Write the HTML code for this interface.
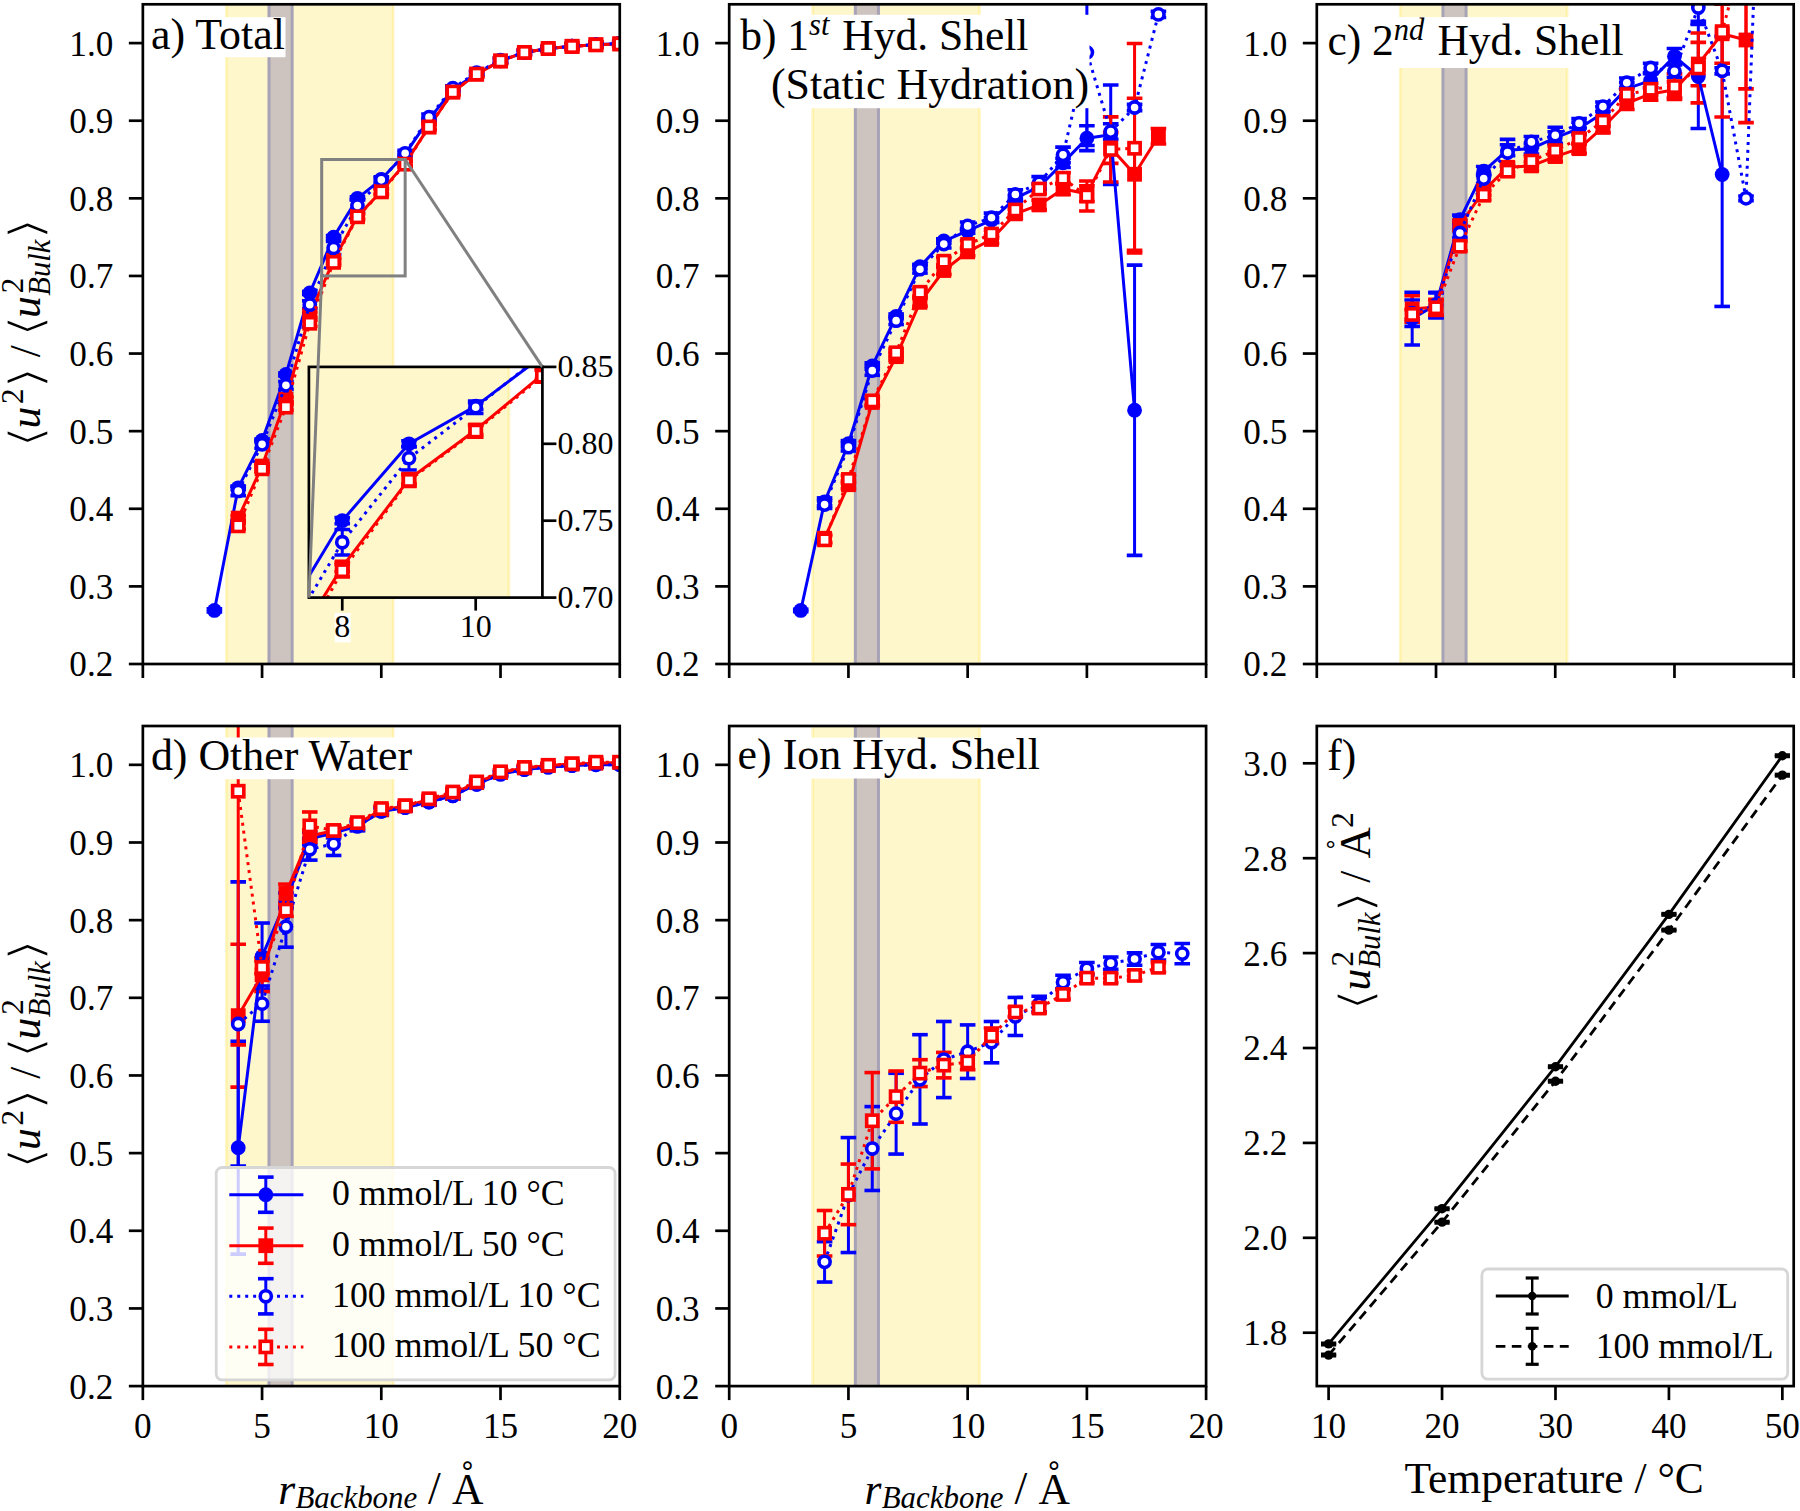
<!DOCTYPE html><html><head><meta charset="utf-8"><title>Figure</title>
<style>html,body{margin:0;padding:0;background:#fff;overflow:hidden;}svg{display:block;}</style></head><body>
<svg width="1800" height="1511" viewBox="0 0 1800 1511" font-family="'Liberation Serif', 'Times New Roman', serif" fill="#000">
<rect width="1800" height="1511" fill="#ffffff"/>
<clipPath id="c1"><rect x="142.85" y="4.3" width="476.9" height="659.7"/></clipPath>
<g clip-path="url(#c1)">
<rect x="224.91" y="4.3" width="169.71" height="659.7" fill="#fff7cc"/>
<rect x="226.31" y="4.3" width="1.5" height="659.7" fill="#fff1a3"/>
<rect x="391.72" y="4.3" width="1.5" height="659.7" fill="#fff1a3"/>
<rect x="268.99" y="4.3" width="23.13" height="659.7" fill="#cdc4bf"/>
<rect x="267.49" y="4.3" width="3" height="659.7" fill="#a7a2b6"/>
<rect x="290.62" y="4.3" width="3" height="659.7" fill="#a7a2b6"/>
<line x1="214.38" y1="612" x2="214.38" y2="608.9" stroke="#0000ff" stroke-width="3"/>
<line x1="206.58" y1="612" x2="222.19" y2="612" stroke="#0000ff" stroke-width="3.6"/>
<line x1="206.58" y1="608.9" x2="222.19" y2="608.9" stroke="#0000ff" stroke-width="3.6"/>
<line x1="238.23" y1="489.37" x2="238.23" y2="486.27" stroke="#0000ff" stroke-width="3"/>
<line x1="230.43" y1="489.37" x2="246.03" y2="489.37" stroke="#0000ff" stroke-width="3.6"/>
<line x1="230.43" y1="486.27" x2="246.03" y2="486.27" stroke="#0000ff" stroke-width="3.6"/>
<line x1="262.07" y1="442.03" x2="262.07" y2="438.93" stroke="#0000ff" stroke-width="3"/>
<line x1="254.27" y1="442.03" x2="269.88" y2="442.03" stroke="#0000ff" stroke-width="3.6"/>
<line x1="254.27" y1="438.93" x2="269.88" y2="438.93" stroke="#0000ff" stroke-width="3.6"/>
<line x1="285.92" y1="376.06" x2="285.92" y2="372.96" stroke="#0000ff" stroke-width="3"/>
<line x1="278.12" y1="376.06" x2="293.72" y2="376.06" stroke="#0000ff" stroke-width="3.6"/>
<line x1="278.12" y1="372.96" x2="293.72" y2="372.96" stroke="#0000ff" stroke-width="3.6"/>
<line x1="309.76" y1="294.57" x2="309.76" y2="291.46" stroke="#0000ff" stroke-width="3"/>
<line x1="301.96" y1="294.57" x2="317.56" y2="294.57" stroke="#0000ff" stroke-width="3.6"/>
<line x1="301.96" y1="291.46" x2="317.56" y2="291.46" stroke="#0000ff" stroke-width="3.6"/>
<line x1="333.61" y1="238.69" x2="333.61" y2="235.58" stroke="#0000ff" stroke-width="3"/>
<line x1="325.81" y1="238.69" x2="341.41" y2="238.69" stroke="#0000ff" stroke-width="3.6"/>
<line x1="325.81" y1="235.58" x2="341.41" y2="235.58" stroke="#0000ff" stroke-width="3.6"/>
<line x1="357.45" y1="199.88" x2="357.45" y2="196.78" stroke="#0000ff" stroke-width="3"/>
<line x1="349.65" y1="199.88" x2="365.25" y2="199.88" stroke="#0000ff" stroke-width="3.6"/>
<line x1="349.65" y1="196.78" x2="365.25" y2="196.78" stroke="#0000ff" stroke-width="3.6"/>
<line x1="381.3" y1="180.87" x2="381.3" y2="177.76" stroke="#0000ff" stroke-width="3"/>
<line x1="373.5" y1="180.87" x2="389.1" y2="180.87" stroke="#0000ff" stroke-width="3.6"/>
<line x1="373.5" y1="177.76" x2="389.1" y2="177.76" stroke="#0000ff" stroke-width="3.6"/>
<line x1="405.14" y1="155.64" x2="405.14" y2="152.54" stroke="#0000ff" stroke-width="3"/>
<line x1="397.34" y1="155.64" x2="412.94" y2="155.64" stroke="#0000ff" stroke-width="3.6"/>
<line x1="397.34" y1="152.54" x2="412.94" y2="152.54" stroke="#0000ff" stroke-width="3.6"/>
<line x1="428.99" y1="120.72" x2="428.99" y2="117.61" stroke="#0000ff" stroke-width="3"/>
<line x1="421.19" y1="120.72" x2="436.79" y2="120.72" stroke="#0000ff" stroke-width="3.6"/>
<line x1="421.19" y1="117.61" x2="436.79" y2="117.61" stroke="#0000ff" stroke-width="3.6"/>
<line x1="452.84" y1="91.23" x2="452.84" y2="88.12" stroke="#0000ff" stroke-width="3"/>
<line x1="445.04" y1="91.23" x2="460.64" y2="91.23" stroke="#0000ff" stroke-width="3.6"/>
<line x1="445.04" y1="88.12" x2="460.64" y2="88.12" stroke="#0000ff" stroke-width="3.6"/>
<line x1="476.68" y1="74.93" x2="476.68" y2="71.82" stroke="#0000ff" stroke-width="3"/>
<line x1="468.88" y1="74.93" x2="484.48" y2="74.93" stroke="#0000ff" stroke-width="3.6"/>
<line x1="468.88" y1="71.82" x2="484.48" y2="71.82" stroke="#0000ff" stroke-width="3.6"/>
<line x1="500.52" y1="62.51" x2="500.52" y2="59.4" stroke="#0000ff" stroke-width="3"/>
<line x1="492.72" y1="62.51" x2="508.32" y2="62.51" stroke="#0000ff" stroke-width="3.6"/>
<line x1="492.72" y1="59.4" x2="508.32" y2="59.4" stroke="#0000ff" stroke-width="3.6"/>
<line x1="524.37" y1="53.97" x2="524.37" y2="50.87" stroke="#0000ff" stroke-width="3"/>
<line x1="516.57" y1="53.97" x2="532.17" y2="53.97" stroke="#0000ff" stroke-width="3.6"/>
<line x1="516.57" y1="50.87" x2="532.17" y2="50.87" stroke="#0000ff" stroke-width="3.6"/>
<line x1="548.21" y1="50.09" x2="548.21" y2="46.99" stroke="#0000ff" stroke-width="3"/>
<line x1="540.41" y1="50.09" x2="556.01" y2="50.09" stroke="#0000ff" stroke-width="3.6"/>
<line x1="540.41" y1="46.99" x2="556.01" y2="46.99" stroke="#0000ff" stroke-width="3.6"/>
<line x1="572.06" y1="47.76" x2="572.06" y2="44.66" stroke="#0000ff" stroke-width="3"/>
<line x1="564.26" y1="47.76" x2="579.86" y2="47.76" stroke="#0000ff" stroke-width="3.6"/>
<line x1="564.26" y1="44.66" x2="579.86" y2="44.66" stroke="#0000ff" stroke-width="3.6"/>
<line x1="595.9" y1="46.21" x2="595.9" y2="43.11" stroke="#0000ff" stroke-width="3"/>
<line x1="588.11" y1="46.21" x2="603.7" y2="46.21" stroke="#0000ff" stroke-width="3.6"/>
<line x1="588.11" y1="43.11" x2="603.7" y2="43.11" stroke="#0000ff" stroke-width="3.6"/>
<line x1="619.75" y1="45.05" x2="619.75" y2="41.94" stroke="#0000ff" stroke-width="3"/>
<line x1="611.95" y1="45.05" x2="627.55" y2="45.05" stroke="#0000ff" stroke-width="3.6"/>
<line x1="611.95" y1="41.94" x2="627.55" y2="41.94" stroke="#0000ff" stroke-width="3.6"/>
<line x1="238.23" y1="520.42" x2="238.23" y2="515.76" stroke="#ff0000" stroke-width="3"/>
<line x1="230.43" y1="520.42" x2="246.03" y2="520.42" stroke="#ff0000" stroke-width="3.6"/>
<line x1="230.43" y1="515.76" x2="246.03" y2="515.76" stroke="#ff0000" stroke-width="3.6"/>
<line x1="262.07" y1="468.42" x2="262.07" y2="463.76" stroke="#ff0000" stroke-width="3"/>
<line x1="254.27" y1="468.42" x2="269.88" y2="468.42" stroke="#ff0000" stroke-width="3.6"/>
<line x1="254.27" y1="463.76" x2="269.88" y2="463.76" stroke="#ff0000" stroke-width="3.6"/>
<line x1="285.92" y1="401.67" x2="285.92" y2="397.02" stroke="#ff0000" stroke-width="3"/>
<line x1="278.12" y1="401.67" x2="293.72" y2="401.67" stroke="#ff0000" stroke-width="3.6"/>
<line x1="278.12" y1="397.02" x2="293.72" y2="397.02" stroke="#ff0000" stroke-width="3.6"/>
<line x1="309.76" y1="317.08" x2="309.76" y2="312.42" stroke="#ff0000" stroke-width="3"/>
<line x1="301.96" y1="317.08" x2="317.56" y2="317.08" stroke="#ff0000" stroke-width="3.6"/>
<line x1="301.96" y1="312.42" x2="317.56" y2="312.42" stroke="#ff0000" stroke-width="3.6"/>
<line x1="333.61" y1="262.75" x2="333.61" y2="258.09" stroke="#ff0000" stroke-width="3"/>
<line x1="325.81" y1="262.75" x2="341.41" y2="262.75" stroke="#ff0000" stroke-width="3.6"/>
<line x1="325.81" y1="258.09" x2="341.41" y2="258.09" stroke="#ff0000" stroke-width="3.6"/>
<line x1="357.45" y1="218.51" x2="357.45" y2="213.85" stroke="#ff0000" stroke-width="3"/>
<line x1="349.65" y1="218.51" x2="365.25" y2="218.51" stroke="#ff0000" stroke-width="3.6"/>
<line x1="349.65" y1="213.85" x2="365.25" y2="213.85" stroke="#ff0000" stroke-width="3.6"/>
<line x1="381.3" y1="193.67" x2="381.3" y2="189.02" stroke="#ff0000" stroke-width="3"/>
<line x1="373.5" y1="193.67" x2="389.1" y2="193.67" stroke="#ff0000" stroke-width="3.6"/>
<line x1="373.5" y1="189.02" x2="389.1" y2="189.02" stroke="#ff0000" stroke-width="3.6"/>
<line x1="405.14" y1="165.73" x2="405.14" y2="161.08" stroke="#ff0000" stroke-width="3"/>
<line x1="397.34" y1="165.73" x2="412.94" y2="165.73" stroke="#ff0000" stroke-width="3.6"/>
<line x1="397.34" y1="161.08" x2="412.94" y2="161.08" stroke="#ff0000" stroke-width="3.6"/>
<line x1="428.99" y1="129.25" x2="428.99" y2="124.6" stroke="#ff0000" stroke-width="3"/>
<line x1="421.19" y1="129.25" x2="436.79" y2="129.25" stroke="#ff0000" stroke-width="3.6"/>
<line x1="421.19" y1="124.6" x2="436.79" y2="124.6" stroke="#ff0000" stroke-width="3.6"/>
<line x1="452.84" y1="94.33" x2="452.84" y2="89.67" stroke="#ff0000" stroke-width="3"/>
<line x1="445.04" y1="94.33" x2="460.64" y2="94.33" stroke="#ff0000" stroke-width="3.6"/>
<line x1="445.04" y1="89.67" x2="460.64" y2="89.67" stroke="#ff0000" stroke-width="3.6"/>
<line x1="476.68" y1="76.48" x2="476.68" y2="71.82" stroke="#ff0000" stroke-width="3"/>
<line x1="468.88" y1="76.48" x2="484.48" y2="76.48" stroke="#ff0000" stroke-width="3.6"/>
<line x1="468.88" y1="71.82" x2="484.48" y2="71.82" stroke="#ff0000" stroke-width="3.6"/>
<line x1="500.52" y1="63.28" x2="500.52" y2="58.63" stroke="#ff0000" stroke-width="3"/>
<line x1="492.72" y1="63.28" x2="508.32" y2="63.28" stroke="#ff0000" stroke-width="3.6"/>
<line x1="492.72" y1="58.63" x2="508.32" y2="58.63" stroke="#ff0000" stroke-width="3.6"/>
<line x1="524.37" y1="54.75" x2="524.37" y2="50.09" stroke="#ff0000" stroke-width="3"/>
<line x1="516.57" y1="54.75" x2="532.17" y2="54.75" stroke="#ff0000" stroke-width="3.6"/>
<line x1="516.57" y1="50.09" x2="532.17" y2="50.09" stroke="#ff0000" stroke-width="3.6"/>
<line x1="548.21" y1="50.87" x2="548.21" y2="46.21" stroke="#ff0000" stroke-width="3"/>
<line x1="540.41" y1="50.87" x2="556.01" y2="50.87" stroke="#ff0000" stroke-width="3.6"/>
<line x1="540.41" y1="46.21" x2="556.01" y2="46.21" stroke="#ff0000" stroke-width="3.6"/>
<line x1="572.06" y1="48.54" x2="572.06" y2="43.88" stroke="#ff0000" stroke-width="3"/>
<line x1="564.26" y1="48.54" x2="579.86" y2="48.54" stroke="#ff0000" stroke-width="3.6"/>
<line x1="564.26" y1="43.88" x2="579.86" y2="43.88" stroke="#ff0000" stroke-width="3.6"/>
<line x1="595.9" y1="46.99" x2="595.9" y2="42.33" stroke="#ff0000" stroke-width="3"/>
<line x1="588.11" y1="46.99" x2="603.7" y2="46.99" stroke="#ff0000" stroke-width="3.6"/>
<line x1="588.11" y1="42.33" x2="603.7" y2="42.33" stroke="#ff0000" stroke-width="3.6"/>
<line x1="619.75" y1="46.21" x2="619.75" y2="41.55" stroke="#ff0000" stroke-width="3"/>
<line x1="611.95" y1="46.21" x2="627.55" y2="46.21" stroke="#ff0000" stroke-width="3.6"/>
<line x1="611.95" y1="41.55" x2="627.55" y2="41.55" stroke="#ff0000" stroke-width="3.6"/>
<line x1="238.23" y1="495.58" x2="238.23" y2="486.27" stroke="#0000ff" stroke-width="3"/>
<line x1="230.43" y1="495.58" x2="246.03" y2="495.58" stroke="#0000ff" stroke-width="3.6"/>
<line x1="230.43" y1="486.27" x2="246.03" y2="486.27" stroke="#0000ff" stroke-width="3.6"/>
<line x1="262.07" y1="448.24" x2="262.07" y2="440.48" stroke="#0000ff" stroke-width="3"/>
<line x1="254.27" y1="448.24" x2="269.88" y2="448.24" stroke="#0000ff" stroke-width="3.6"/>
<line x1="254.27" y1="440.48" x2="269.88" y2="440.48" stroke="#0000ff" stroke-width="3.6"/>
<line x1="285.92" y1="389.25" x2="285.92" y2="381.49" stroke="#0000ff" stroke-width="3"/>
<line x1="278.12" y1="389.25" x2="293.72" y2="389.25" stroke="#0000ff" stroke-width="3.6"/>
<line x1="278.12" y1="381.49" x2="293.72" y2="381.49" stroke="#0000ff" stroke-width="3.6"/>
<line x1="309.76" y1="308.54" x2="309.76" y2="300.78" stroke="#0000ff" stroke-width="3"/>
<line x1="301.96" y1="308.54" x2="317.56" y2="308.54" stroke="#0000ff" stroke-width="3.6"/>
<line x1="301.96" y1="300.78" x2="317.56" y2="300.78" stroke="#0000ff" stroke-width="3.6"/>
<line x1="333.61" y1="254.44" x2="333.61" y2="241.56" stroke="#0000ff" stroke-width="3"/>
<line x1="325.81" y1="254.44" x2="341.41" y2="254.44" stroke="#0000ff" stroke-width="3.6"/>
<line x1="325.81" y1="241.56" x2="341.41" y2="241.56" stroke="#0000ff" stroke-width="3.6"/>
<line x1="357.45" y1="211.52" x2="357.45" y2="199.73" stroke="#0000ff" stroke-width="3"/>
<line x1="349.65" y1="211.52" x2="365.25" y2="211.52" stroke="#0000ff" stroke-width="3.6"/>
<line x1="349.65" y1="199.73" x2="365.25" y2="199.73" stroke="#0000ff" stroke-width="3.6"/>
<line x1="381.3" y1="182.96" x2="381.3" y2="176.75" stroke="#0000ff" stroke-width="3"/>
<line x1="373.5" y1="182.96" x2="389.1" y2="182.96" stroke="#0000ff" stroke-width="3.6"/>
<line x1="373.5" y1="176.75" x2="389.1" y2="176.75" stroke="#0000ff" stroke-width="3.6"/>
<line x1="405.14" y1="156.42" x2="405.14" y2="150.21" stroke="#0000ff" stroke-width="3"/>
<line x1="397.34" y1="156.42" x2="412.94" y2="156.42" stroke="#0000ff" stroke-width="3.6"/>
<line x1="397.34" y1="150.21" x2="412.94" y2="150.21" stroke="#0000ff" stroke-width="3.6"/>
<line x1="428.99" y1="120.25" x2="428.99" y2="114.04" stroke="#0000ff" stroke-width="3"/>
<line x1="421.19" y1="120.25" x2="436.79" y2="120.25" stroke="#0000ff" stroke-width="3.6"/>
<line x1="421.19" y1="114.04" x2="436.79" y2="114.04" stroke="#0000ff" stroke-width="3.6"/>
<line x1="452.84" y1="90.45" x2="452.84" y2="85.79" stroke="#0000ff" stroke-width="3"/>
<line x1="445.04" y1="90.45" x2="460.64" y2="90.45" stroke="#0000ff" stroke-width="3.6"/>
<line x1="445.04" y1="85.79" x2="460.64" y2="85.79" stroke="#0000ff" stroke-width="3.6"/>
<line x1="476.68" y1="74.93" x2="476.68" y2="70.27" stroke="#0000ff" stroke-width="3"/>
<line x1="468.88" y1="74.93" x2="484.48" y2="74.93" stroke="#0000ff" stroke-width="3.6"/>
<line x1="468.88" y1="70.27" x2="484.48" y2="70.27" stroke="#0000ff" stroke-width="3.6"/>
<line x1="500.52" y1="62.51" x2="500.52" y2="57.85" stroke="#0000ff" stroke-width="3"/>
<line x1="492.72" y1="62.51" x2="508.32" y2="62.51" stroke="#0000ff" stroke-width="3.6"/>
<line x1="492.72" y1="57.85" x2="508.32" y2="57.85" stroke="#0000ff" stroke-width="3.6"/>
<line x1="524.37" y1="54.75" x2="524.37" y2="50.09" stroke="#0000ff" stroke-width="3"/>
<line x1="516.57" y1="54.75" x2="532.17" y2="54.75" stroke="#0000ff" stroke-width="3.6"/>
<line x1="516.57" y1="50.09" x2="532.17" y2="50.09" stroke="#0000ff" stroke-width="3.6"/>
<line x1="548.21" y1="50.87" x2="548.21" y2="46.21" stroke="#0000ff" stroke-width="3"/>
<line x1="540.41" y1="50.87" x2="556.01" y2="50.87" stroke="#0000ff" stroke-width="3.6"/>
<line x1="540.41" y1="46.21" x2="556.01" y2="46.21" stroke="#0000ff" stroke-width="3.6"/>
<line x1="572.06" y1="48.54" x2="572.06" y2="43.88" stroke="#0000ff" stroke-width="3"/>
<line x1="564.26" y1="48.54" x2="579.86" y2="48.54" stroke="#0000ff" stroke-width="3.6"/>
<line x1="564.26" y1="43.88" x2="579.86" y2="43.88" stroke="#0000ff" stroke-width="3.6"/>
<line x1="595.9" y1="46.99" x2="595.9" y2="42.33" stroke="#0000ff" stroke-width="3"/>
<line x1="588.11" y1="46.99" x2="603.7" y2="46.99" stroke="#0000ff" stroke-width="3.6"/>
<line x1="588.11" y1="42.33" x2="603.7" y2="42.33" stroke="#0000ff" stroke-width="3.6"/>
<line x1="619.75" y1="45.82" x2="619.75" y2="41.17" stroke="#0000ff" stroke-width="3"/>
<line x1="611.95" y1="45.82" x2="627.55" y2="45.82" stroke="#0000ff" stroke-width="3.6"/>
<line x1="611.95" y1="41.17" x2="627.55" y2="41.17" stroke="#0000ff" stroke-width="3.6"/>
<line x1="238.23" y1="528.96" x2="238.23" y2="522.75" stroke="#ff0000" stroke-width="3"/>
<line x1="230.43" y1="528.96" x2="246.03" y2="528.96" stroke="#ff0000" stroke-width="3.6"/>
<line x1="230.43" y1="522.75" x2="246.03" y2="522.75" stroke="#ff0000" stroke-width="3.6"/>
<line x1="262.07" y1="471.91" x2="262.07" y2="465.7" stroke="#ff0000" stroke-width="3"/>
<line x1="254.27" y1="471.91" x2="269.88" y2="471.91" stroke="#ff0000" stroke-width="3.6"/>
<line x1="254.27" y1="465.7" x2="269.88" y2="465.7" stroke="#ff0000" stroke-width="3.6"/>
<line x1="285.92" y1="410.21" x2="285.92" y2="404" stroke="#ff0000" stroke-width="3"/>
<line x1="278.12" y1="410.21" x2="293.72" y2="410.21" stroke="#ff0000" stroke-width="3.6"/>
<line x1="278.12" y1="404" x2="293.72" y2="404" stroke="#ff0000" stroke-width="3.6"/>
<line x1="309.76" y1="326.39" x2="309.76" y2="320.18" stroke="#ff0000" stroke-width="3"/>
<line x1="301.96" y1="326.39" x2="317.56" y2="326.39" stroke="#ff0000" stroke-width="3.6"/>
<line x1="301.96" y1="320.18" x2="317.56" y2="320.18" stroke="#ff0000" stroke-width="3.6"/>
<line x1="333.61" y1="265.46" x2="333.61" y2="259.25" stroke="#ff0000" stroke-width="3"/>
<line x1="325.81" y1="265.46" x2="341.41" y2="265.46" stroke="#ff0000" stroke-width="3.6"/>
<line x1="325.81" y1="259.25" x2="341.41" y2="259.25" stroke="#ff0000" stroke-width="3.6"/>
<line x1="357.45" y1="219.91" x2="357.45" y2="213.7" stroke="#ff0000" stroke-width="3"/>
<line x1="349.65" y1="219.91" x2="365.25" y2="219.91" stroke="#ff0000" stroke-width="3.6"/>
<line x1="349.65" y1="213.7" x2="365.25" y2="213.7" stroke="#ff0000" stroke-width="3.6"/>
<line x1="381.3" y1="194.99" x2="381.3" y2="188.78" stroke="#ff0000" stroke-width="3"/>
<line x1="373.5" y1="194.99" x2="389.1" y2="194.99" stroke="#ff0000" stroke-width="3.6"/>
<line x1="373.5" y1="188.78" x2="389.1" y2="188.78" stroke="#ff0000" stroke-width="3.6"/>
<line x1="405.14" y1="167.28" x2="405.14" y2="161.08" stroke="#ff0000" stroke-width="3"/>
<line x1="397.34" y1="167.28" x2="412.94" y2="167.28" stroke="#ff0000" stroke-width="3.6"/>
<line x1="397.34" y1="161.08" x2="412.94" y2="161.08" stroke="#ff0000" stroke-width="3.6"/>
<line x1="428.99" y1="130.03" x2="428.99" y2="123.82" stroke="#ff0000" stroke-width="3"/>
<line x1="421.19" y1="130.03" x2="436.79" y2="130.03" stroke="#ff0000" stroke-width="3.6"/>
<line x1="421.19" y1="123.82" x2="436.79" y2="123.82" stroke="#ff0000" stroke-width="3.6"/>
<line x1="452.84" y1="95.11" x2="452.84" y2="88.9" stroke="#ff0000" stroke-width="3"/>
<line x1="445.04" y1="95.11" x2="460.64" y2="95.11" stroke="#ff0000" stroke-width="3.6"/>
<line x1="445.04" y1="88.9" x2="460.64" y2="88.9" stroke="#ff0000" stroke-width="3.6"/>
<line x1="476.68" y1="77.26" x2="476.68" y2="71.05" stroke="#ff0000" stroke-width="3"/>
<line x1="468.88" y1="77.26" x2="484.48" y2="77.26" stroke="#ff0000" stroke-width="3.6"/>
<line x1="468.88" y1="71.05" x2="484.48" y2="71.05" stroke="#ff0000" stroke-width="3.6"/>
<line x1="500.52" y1="64.06" x2="500.52" y2="57.85" stroke="#ff0000" stroke-width="3"/>
<line x1="492.72" y1="64.06" x2="508.32" y2="64.06" stroke="#ff0000" stroke-width="3.6"/>
<line x1="492.72" y1="57.85" x2="508.32" y2="57.85" stroke="#ff0000" stroke-width="3.6"/>
<line x1="524.37" y1="55.52" x2="524.37" y2="49.31" stroke="#ff0000" stroke-width="3"/>
<line x1="516.57" y1="55.52" x2="532.17" y2="55.52" stroke="#ff0000" stroke-width="3.6"/>
<line x1="516.57" y1="49.31" x2="532.17" y2="49.31" stroke="#ff0000" stroke-width="3.6"/>
<line x1="548.21" y1="51.64" x2="548.21" y2="45.43" stroke="#ff0000" stroke-width="3"/>
<line x1="540.41" y1="51.64" x2="556.01" y2="51.64" stroke="#ff0000" stroke-width="3.6"/>
<line x1="540.41" y1="45.43" x2="556.01" y2="45.43" stroke="#ff0000" stroke-width="3.6"/>
<line x1="572.06" y1="49.63" x2="572.06" y2="43.42" stroke="#ff0000" stroke-width="3"/>
<line x1="564.26" y1="49.63" x2="579.86" y2="49.63" stroke="#ff0000" stroke-width="3.6"/>
<line x1="564.26" y1="43.42" x2="579.86" y2="43.42" stroke="#ff0000" stroke-width="3.6"/>
<line x1="595.9" y1="48" x2="595.9" y2="41.79" stroke="#ff0000" stroke-width="3"/>
<line x1="588.11" y1="48" x2="603.7" y2="48" stroke="#ff0000" stroke-width="3.6"/>
<line x1="588.11" y1="41.79" x2="603.7" y2="41.79" stroke="#ff0000" stroke-width="3.6"/>
<line x1="619.75" y1="46.99" x2="619.75" y2="40.78" stroke="#ff0000" stroke-width="3"/>
<line x1="611.95" y1="46.99" x2="627.55" y2="46.99" stroke="#ff0000" stroke-width="3.6"/>
<line x1="611.95" y1="40.78" x2="627.55" y2="40.78" stroke="#ff0000" stroke-width="3.6"/>
<polyline points="214.38,610.45 238.23,487.82 262.07,440.48 285.92,374.51 309.76,293.02 333.61,237.14 357.45,198.33 381.3,179.31 405.14,154.09 428.99,119.17 452.84,89.67 476.68,73.37 500.52,60.96 524.37,52.42 548.21,48.54 572.06,46.21 595.9,44.66 619.75,43.49" fill="none" stroke="#0000ff" stroke-width="3" stroke-linejoin="round"/>
<circle cx="214.38" cy="610.45" r="7.4" fill="#0000ff"/>
<circle cx="238.23" cy="487.82" r="7.4" fill="#0000ff"/>
<circle cx="262.07" cy="440.48" r="7.4" fill="#0000ff"/>
<circle cx="285.92" cy="374.51" r="7.4" fill="#0000ff"/>
<circle cx="309.76" cy="293.02" r="7.4" fill="#0000ff"/>
<circle cx="333.61" cy="237.14" r="7.4" fill="#0000ff"/>
<circle cx="357.45" cy="198.33" r="7.4" fill="#0000ff"/>
<circle cx="381.3" cy="179.31" r="7.4" fill="#0000ff"/>
<circle cx="405.14" cy="154.09" r="7.4" fill="#0000ff"/>
<circle cx="428.99" cy="119.17" r="7.4" fill="#0000ff"/>
<circle cx="452.84" cy="89.67" r="7.4" fill="#0000ff"/>
<circle cx="476.68" cy="73.37" r="7.4" fill="#0000ff"/>
<circle cx="500.52" cy="60.96" r="7.4" fill="#0000ff"/>
<circle cx="524.37" cy="52.42" r="7.4" fill="#0000ff"/>
<circle cx="548.21" cy="48.54" r="7.4" fill="#0000ff"/>
<circle cx="572.06" cy="46.21" r="7.4" fill="#0000ff"/>
<circle cx="595.9" cy="44.66" r="7.4" fill="#0000ff"/>
<circle cx="619.75" cy="43.49" r="7.4" fill="#0000ff"/>
<polyline points="238.23,518.09 262.07,466.09 285.92,399.34 309.76,314.75 333.61,260.42 357.45,216.18 381.3,191.34 405.14,163.4 428.99,126.93 452.84,92 476.68,74.15 500.52,60.96 524.37,52.42 548.21,48.54 572.06,46.21 595.9,44.66 619.75,43.88" fill="none" stroke="#ff0000" stroke-width="3" stroke-linejoin="round"/>
<rect x="232.63" y="512.49" width="11.2" height="11.2" fill="#ff0000" stroke="#ff0000" stroke-width="3.6"/>
<rect x="256.47" y="460.49" width="11.2" height="11.2" fill="#ff0000" stroke="#ff0000" stroke-width="3.6"/>
<rect x="280.32" y="393.74" width="11.2" height="11.2" fill="#ff0000" stroke="#ff0000" stroke-width="3.6"/>
<rect x="304.16" y="309.15" width="11.2" height="11.2" fill="#ff0000" stroke="#ff0000" stroke-width="3.6"/>
<rect x="328.01" y="254.82" width="11.2" height="11.2" fill="#ff0000" stroke="#ff0000" stroke-width="3.6"/>
<rect x="351.85" y="210.58" width="11.2" height="11.2" fill="#ff0000" stroke="#ff0000" stroke-width="3.6"/>
<rect x="375.7" y="185.74" width="11.2" height="11.2" fill="#ff0000" stroke="#ff0000" stroke-width="3.6"/>
<rect x="399.54" y="157.8" width="11.2" height="11.2" fill="#ff0000" stroke="#ff0000" stroke-width="3.6"/>
<rect x="423.39" y="121.33" width="11.2" height="11.2" fill="#ff0000" stroke="#ff0000" stroke-width="3.6"/>
<rect x="447.24" y="86.4" width="11.2" height="11.2" fill="#ff0000" stroke="#ff0000" stroke-width="3.6"/>
<rect x="471.08" y="68.55" width="11.2" height="11.2" fill="#ff0000" stroke="#ff0000" stroke-width="3.6"/>
<rect x="494.92" y="55.36" width="11.2" height="11.2" fill="#ff0000" stroke="#ff0000" stroke-width="3.6"/>
<rect x="518.77" y="46.82" width="11.2" height="11.2" fill="#ff0000" stroke="#ff0000" stroke-width="3.6"/>
<rect x="542.61" y="42.94" width="11.2" height="11.2" fill="#ff0000" stroke="#ff0000" stroke-width="3.6"/>
<rect x="566.46" y="40.61" width="11.2" height="11.2" fill="#ff0000" stroke="#ff0000" stroke-width="3.6"/>
<rect x="590.3" y="39.06" width="11.2" height="11.2" fill="#ff0000" stroke="#ff0000" stroke-width="3.6"/>
<rect x="614.15" y="38.28" width="11.2" height="11.2" fill="#ff0000" stroke="#ff0000" stroke-width="3.6"/>
<polyline points="238.23,490.93 262.07,444.36 285.92,385.37 309.76,304.66 333.61,248 357.45,205.62 381.3,179.86 405.14,153.31 428.99,117.15 452.84,88.12 476.68,72.6 500.52,60.18 524.37,52.42 548.21,48.54 572.06,46.21 595.9,44.66 619.75,43.49" fill="none" stroke="#0000ff" stroke-width="3" stroke-dasharray="3 4.95" stroke-linejoin="round"/>
<circle cx="238.23" cy="490.93" r="5.6" fill="#ffffff" stroke="#0000ff" stroke-width="3.6"/>
<circle cx="262.07" cy="444.36" r="5.6" fill="#ffffff" stroke="#0000ff" stroke-width="3.6"/>
<circle cx="285.92" cy="385.37" r="5.6" fill="#ffffff" stroke="#0000ff" stroke-width="3.6"/>
<circle cx="309.76" cy="304.66" r="5.6" fill="#ffffff" stroke="#0000ff" stroke-width="3.6"/>
<circle cx="333.61" cy="248" r="5.6" fill="#ffffff" stroke="#0000ff" stroke-width="3.6"/>
<circle cx="357.45" cy="205.62" r="5.6" fill="#ffffff" stroke="#0000ff" stroke-width="3.6"/>
<circle cx="381.3" cy="179.86" r="5.6" fill="#ffffff" stroke="#0000ff" stroke-width="3.6"/>
<circle cx="405.14" cy="153.31" r="5.6" fill="#ffffff" stroke="#0000ff" stroke-width="3.6"/>
<circle cx="428.99" cy="117.15" r="5.6" fill="#ffffff" stroke="#0000ff" stroke-width="3.6"/>
<circle cx="452.84" cy="88.12" r="5.6" fill="#ffffff" stroke="#0000ff" stroke-width="3.6"/>
<circle cx="476.68" cy="72.6" r="5.6" fill="#ffffff" stroke="#0000ff" stroke-width="3.6"/>
<circle cx="500.52" cy="60.18" r="5.6" fill="#ffffff" stroke="#0000ff" stroke-width="3.6"/>
<circle cx="524.37" cy="52.42" r="5.6" fill="#ffffff" stroke="#0000ff" stroke-width="3.6"/>
<circle cx="548.21" cy="48.54" r="5.6" fill="#ffffff" stroke="#0000ff" stroke-width="3.6"/>
<circle cx="572.06" cy="46.21" r="5.6" fill="#ffffff" stroke="#0000ff" stroke-width="3.6"/>
<circle cx="595.9" cy="44.66" r="5.6" fill="#ffffff" stroke="#0000ff" stroke-width="3.6"/>
<circle cx="619.75" cy="43.49" r="5.6" fill="#ffffff" stroke="#0000ff" stroke-width="3.6"/>
<polyline points="238.23,525.85 262.07,468.81 285.92,407.11 309.76,323.28 333.61,262.36 357.45,216.8 381.3,191.89 405.14,164.18 428.99,126.93 452.84,92 476.68,74.15 500.52,60.96 524.37,52.42 548.21,48.54 572.06,46.52 595.9,44.89 619.75,43.88" fill="none" stroke="#ff0000" stroke-width="3" stroke-dasharray="3 4.95" stroke-linejoin="round"/>
<rect x="232.63" y="520.25" width="11.2" height="11.2" fill="#ffffff" stroke="#ff0000" stroke-width="3.6"/>
<rect x="256.47" y="463.21" width="11.2" height="11.2" fill="#ffffff" stroke="#ff0000" stroke-width="3.6"/>
<rect x="280.32" y="401.51" width="11.2" height="11.2" fill="#ffffff" stroke="#ff0000" stroke-width="3.6"/>
<rect x="304.16" y="317.68" width="11.2" height="11.2" fill="#ffffff" stroke="#ff0000" stroke-width="3.6"/>
<rect x="328.01" y="256.76" width="11.2" height="11.2" fill="#ffffff" stroke="#ff0000" stroke-width="3.6"/>
<rect x="351.85" y="211.2" width="11.2" height="11.2" fill="#ffffff" stroke="#ff0000" stroke-width="3.6"/>
<rect x="375.7" y="186.29" width="11.2" height="11.2" fill="#ffffff" stroke="#ff0000" stroke-width="3.6"/>
<rect x="399.54" y="158.58" width="11.2" height="11.2" fill="#ffffff" stroke="#ff0000" stroke-width="3.6"/>
<rect x="423.39" y="121.33" width="11.2" height="11.2" fill="#ffffff" stroke="#ff0000" stroke-width="3.6"/>
<rect x="447.24" y="86.4" width="11.2" height="11.2" fill="#ffffff" stroke="#ff0000" stroke-width="3.6"/>
<rect x="471.08" y="68.55" width="11.2" height="11.2" fill="#ffffff" stroke="#ff0000" stroke-width="3.6"/>
<rect x="494.92" y="55.36" width="11.2" height="11.2" fill="#ffffff" stroke="#ff0000" stroke-width="3.6"/>
<rect x="518.77" y="46.82" width="11.2" height="11.2" fill="#ffffff" stroke="#ff0000" stroke-width="3.6"/>
<rect x="542.61" y="42.94" width="11.2" height="11.2" fill="#ffffff" stroke="#ff0000" stroke-width="3.6"/>
<rect x="566.46" y="40.92" width="11.2" height="11.2" fill="#ffffff" stroke="#ff0000" stroke-width="3.6"/>
<rect x="590.3" y="39.29" width="11.2" height="11.2" fill="#ffffff" stroke="#ff0000" stroke-width="3.6"/>
<rect x="614.15" y="38.28" width="11.2" height="11.2" fill="#ffffff" stroke="#ff0000" stroke-width="3.6"/>
<rect x="321.69" y="159.52" width="83.46" height="116.42" fill="none" stroke="#808080" stroke-width="3"/>
</g>
<rect x="148" y="17.2" width="137.5" height="40" fill="#ffffff"/>
<text x="151.0" y="48.9" font-size="43.9">a) Total</text>
<rect x="142.85" y="4.3" width="476.9" height="659.7" fill="none" stroke="#000" stroke-width="2.7" stroke-linejoin="miter"/>
<line x1="128.85" y1="664" x2="142.85" y2="664" stroke="#000" stroke-width="2.7"/>
<text x="113.35" y="676.42" font-size="35.2" text-anchor="end">0.2</text>
<line x1="128.85" y1="586.39" x2="142.85" y2="586.39" stroke="#000" stroke-width="2.7"/>
<text x="113.35" y="598.8" font-size="35.2" text-anchor="end">0.3</text>
<line x1="128.85" y1="508.78" x2="142.85" y2="508.78" stroke="#000" stroke-width="2.7"/>
<text x="113.35" y="521.19" font-size="35.2" text-anchor="end">0.4</text>
<line x1="128.85" y1="431.16" x2="142.85" y2="431.16" stroke="#000" stroke-width="2.7"/>
<text x="113.35" y="443.58" font-size="35.2" text-anchor="end">0.5</text>
<line x1="128.85" y1="353.55" x2="142.85" y2="353.55" stroke="#000" stroke-width="2.7"/>
<text x="113.35" y="365.97" font-size="35.2" text-anchor="end">0.6</text>
<line x1="128.85" y1="275.94" x2="142.85" y2="275.94" stroke="#000" stroke-width="2.7"/>
<text x="113.35" y="288.36" font-size="35.2" text-anchor="end">0.7</text>
<line x1="128.85" y1="198.33" x2="142.85" y2="198.33" stroke="#000" stroke-width="2.7"/>
<text x="113.35" y="210.75" font-size="35.2" text-anchor="end">0.8</text>
<line x1="128.85" y1="120.72" x2="142.85" y2="120.72" stroke="#000" stroke-width="2.7"/>
<text x="113.35" y="133.13" font-size="35.2" text-anchor="end">0.9</text>
<line x1="128.85" y1="43.11" x2="142.85" y2="43.11" stroke="#000" stroke-width="2.7"/>
<text x="113.35" y="55.52" font-size="35.2" text-anchor="end">1.0</text>
<line x1="142.85" y1="664" x2="142.85" y2="678" stroke="#000" stroke-width="2.7"/>
<line x1="262.07" y1="664" x2="262.07" y2="678" stroke="#000" stroke-width="2.7"/>
<line x1="381.3" y1="664" x2="381.3" y2="678" stroke="#000" stroke-width="2.7"/>
<line x1="500.52" y1="664" x2="500.52" y2="678" stroke="#000" stroke-width="2.7"/>
<line x1="619.75" y1="664" x2="619.75" y2="678" stroke="#000" stroke-width="2.7"/>
<rect x="308.9" y="366.9" width="233.5" height="230.7" fill="#ffffff"/>
<clipPath id="c2"><rect x="308.9" y="366.9" width="233.5" height="230.7"/></clipPath>
<g clip-path="url(#c2)">
<rect x="40.64" y="366.9" width="469.8" height="230.7" fill="#fff7cc"/>
<rect x="42.04" y="366.9" width="1.5" height="230.7" fill="#fff1a3"/>
<rect x="507.54" y="366.9" width="1.5" height="230.7" fill="#fff1a3"/>
<rect x="161.46" y="366.9" width="64.71" height="230.7" fill="#cdc4bf"/>
<rect x="159.96" y="366.9" width="3" height="230.7" fill="#a7a2b6"/>
<rect x="224.67" y="366.9" width="3" height="230.7" fill="#a7a2b6"/>
<line x1="8.69" y1="1263.55" x2="8.69" y2="1257.4" stroke="#0000ff" stroke-width="3"/>
<line x1="0.89" y1="1263.55" x2="16.49" y2="1263.55" stroke="#0000ff" stroke-width="3.6"/>
<line x1="0.89" y1="1257.4" x2="16.49" y2="1257.4" stroke="#0000ff" stroke-width="3.6"/>
<line x1="75.4" y1="1020.55" x2="75.4" y2="1014.4" stroke="#0000ff" stroke-width="3"/>
<line x1="67.6" y1="1020.55" x2="83.2" y2="1020.55" stroke="#0000ff" stroke-width="3.6"/>
<line x1="67.6" y1="1014.4" x2="83.2" y2="1014.4" stroke="#0000ff" stroke-width="3.6"/>
<line x1="142.11" y1="926.73" x2="142.11" y2="920.58" stroke="#0000ff" stroke-width="3"/>
<line x1="134.31" y1="926.73" x2="149.91" y2="926.73" stroke="#0000ff" stroke-width="3.6"/>
<line x1="134.31" y1="920.58" x2="149.91" y2="920.58" stroke="#0000ff" stroke-width="3.6"/>
<line x1="208.83" y1="796" x2="208.83" y2="789.85" stroke="#0000ff" stroke-width="3"/>
<line x1="201.03" y1="796" x2="216.63" y2="796" stroke="#0000ff" stroke-width="3.6"/>
<line x1="201.03" y1="789.85" x2="216.63" y2="789.85" stroke="#0000ff" stroke-width="3.6"/>
<line x1="275.54" y1="634.51" x2="275.54" y2="628.36" stroke="#0000ff" stroke-width="3"/>
<line x1="267.74" y1="634.51" x2="283.34" y2="634.51" stroke="#0000ff" stroke-width="3.6"/>
<line x1="267.74" y1="628.36" x2="283.34" y2="628.36" stroke="#0000ff" stroke-width="3.6"/>
<line x1="342.26" y1="523.78" x2="342.26" y2="517.62" stroke="#0000ff" stroke-width="3"/>
<line x1="334.46" y1="523.78" x2="350.06" y2="523.78" stroke="#0000ff" stroke-width="3.6"/>
<line x1="334.46" y1="517.62" x2="350.06" y2="517.62" stroke="#0000ff" stroke-width="3.6"/>
<line x1="408.97" y1="446.88" x2="408.97" y2="440.72" stroke="#0000ff" stroke-width="3"/>
<line x1="401.17" y1="446.88" x2="416.77" y2="446.88" stroke="#0000ff" stroke-width="3.6"/>
<line x1="401.17" y1="440.72" x2="416.77" y2="440.72" stroke="#0000ff" stroke-width="3.6"/>
<line x1="475.69" y1="409.19" x2="475.69" y2="403.04" stroke="#0000ff" stroke-width="3"/>
<line x1="467.89" y1="409.19" x2="483.49" y2="409.19" stroke="#0000ff" stroke-width="3.6"/>
<line x1="467.89" y1="403.04" x2="483.49" y2="403.04" stroke="#0000ff" stroke-width="3.6"/>
<line x1="542.4" y1="359.21" x2="542.4" y2="353.06" stroke="#0000ff" stroke-width="3"/>
<line x1="534.6" y1="359.21" x2="550.2" y2="359.21" stroke="#0000ff" stroke-width="3.6"/>
<line x1="534.6" y1="353.06" x2="550.2" y2="353.06" stroke="#0000ff" stroke-width="3.6"/>
<line x1="609.11" y1="290" x2="609.11" y2="283.85" stroke="#0000ff" stroke-width="3"/>
<line x1="601.31" y1="290" x2="616.91" y2="290" stroke="#0000ff" stroke-width="3.6"/>
<line x1="601.31" y1="283.85" x2="616.91" y2="283.85" stroke="#0000ff" stroke-width="3.6"/>
<line x1="675.83" y1="231.56" x2="675.83" y2="225.4" stroke="#0000ff" stroke-width="3"/>
<line x1="668.03" y1="231.56" x2="683.63" y2="231.56" stroke="#0000ff" stroke-width="3.6"/>
<line x1="668.03" y1="225.4" x2="683.63" y2="225.4" stroke="#0000ff" stroke-width="3.6"/>
<line x1="742.54" y1="199.26" x2="742.54" y2="193.11" stroke="#0000ff" stroke-width="3"/>
<line x1="734.74" y1="199.26" x2="750.34" y2="199.26" stroke="#0000ff" stroke-width="3.6"/>
<line x1="734.74" y1="193.11" x2="750.34" y2="193.11" stroke="#0000ff" stroke-width="3.6"/>
<line x1="809.26" y1="174.65" x2="809.26" y2="168.5" stroke="#0000ff" stroke-width="3"/>
<line x1="801.46" y1="174.65" x2="817.06" y2="174.65" stroke="#0000ff" stroke-width="3.6"/>
<line x1="801.46" y1="168.5" x2="817.06" y2="168.5" stroke="#0000ff" stroke-width="3.6"/>
<line x1="875.97" y1="157.73" x2="875.97" y2="151.58" stroke="#0000ff" stroke-width="3"/>
<line x1="868.17" y1="157.73" x2="883.77" y2="157.73" stroke="#0000ff" stroke-width="3.6"/>
<line x1="868.17" y1="151.58" x2="883.77" y2="151.58" stroke="#0000ff" stroke-width="3.6"/>
<line x1="942.69" y1="150.04" x2="942.69" y2="143.89" stroke="#0000ff" stroke-width="3"/>
<line x1="934.89" y1="150.04" x2="950.49" y2="150.04" stroke="#0000ff" stroke-width="3.6"/>
<line x1="934.89" y1="143.89" x2="950.49" y2="143.89" stroke="#0000ff" stroke-width="3.6"/>
<line x1="1009.4" y1="145.43" x2="1009.4" y2="139.28" stroke="#0000ff" stroke-width="3"/>
<line x1="1001.6" y1="145.43" x2="1017.2" y2="145.43" stroke="#0000ff" stroke-width="3.6"/>
<line x1="1001.6" y1="139.28" x2="1017.2" y2="139.28" stroke="#0000ff" stroke-width="3.6"/>
<line x1="1076.11" y1="142.35" x2="1076.11" y2="136.2" stroke="#0000ff" stroke-width="3"/>
<line x1="1068.31" y1="142.35" x2="1083.91" y2="142.35" stroke="#0000ff" stroke-width="3.6"/>
<line x1="1068.31" y1="136.2" x2="1083.91" y2="136.2" stroke="#0000ff" stroke-width="3.6"/>
<line x1="1142.83" y1="140.04" x2="1142.83" y2="133.89" stroke="#0000ff" stroke-width="3"/>
<line x1="1135.03" y1="140.04" x2="1150.63" y2="140.04" stroke="#0000ff" stroke-width="3.6"/>
<line x1="1135.03" y1="133.89" x2="1150.63" y2="133.89" stroke="#0000ff" stroke-width="3.6"/>
<line x1="75.4" y1="1082.07" x2="75.4" y2="1072.84" stroke="#ff0000" stroke-width="3"/>
<line x1="67.6" y1="1082.07" x2="83.2" y2="1082.07" stroke="#ff0000" stroke-width="3.6"/>
<line x1="67.6" y1="1072.84" x2="83.2" y2="1072.84" stroke="#ff0000" stroke-width="3.6"/>
<line x1="142.11" y1="979.02" x2="142.11" y2="969.8" stroke="#ff0000" stroke-width="3"/>
<line x1="134.31" y1="979.02" x2="149.91" y2="979.02" stroke="#ff0000" stroke-width="3.6"/>
<line x1="134.31" y1="969.8" x2="149.91" y2="969.8" stroke="#ff0000" stroke-width="3.6"/>
<line x1="208.83" y1="846.76" x2="208.83" y2="837.53" stroke="#ff0000" stroke-width="3"/>
<line x1="201.03" y1="846.76" x2="216.63" y2="846.76" stroke="#ff0000" stroke-width="3.6"/>
<line x1="201.03" y1="837.53" x2="216.63" y2="837.53" stroke="#ff0000" stroke-width="3.6"/>
<line x1="275.54" y1="679.11" x2="275.54" y2="669.89" stroke="#ff0000" stroke-width="3"/>
<line x1="267.74" y1="679.11" x2="283.34" y2="679.11" stroke="#ff0000" stroke-width="3.6"/>
<line x1="267.74" y1="669.89" x2="283.34" y2="669.89" stroke="#ff0000" stroke-width="3.6"/>
<line x1="342.26" y1="571.45" x2="342.26" y2="562.23" stroke="#ff0000" stroke-width="3"/>
<line x1="334.46" y1="571.45" x2="350.06" y2="571.45" stroke="#ff0000" stroke-width="3.6"/>
<line x1="334.46" y1="562.23" x2="350.06" y2="562.23" stroke="#ff0000" stroke-width="3.6"/>
<line x1="408.97" y1="483.79" x2="408.97" y2="474.56" stroke="#ff0000" stroke-width="3"/>
<line x1="401.17" y1="483.79" x2="416.77" y2="483.79" stroke="#ff0000" stroke-width="3.6"/>
<line x1="401.17" y1="474.56" x2="416.77" y2="474.56" stroke="#ff0000" stroke-width="3.6"/>
<line x1="475.69" y1="434.57" x2="475.69" y2="425.34" stroke="#ff0000" stroke-width="3"/>
<line x1="467.89" y1="434.57" x2="483.49" y2="434.57" stroke="#ff0000" stroke-width="3.6"/>
<line x1="467.89" y1="425.34" x2="483.49" y2="425.34" stroke="#ff0000" stroke-width="3.6"/>
<line x1="542.4" y1="379.2" x2="542.4" y2="369.98" stroke="#ff0000" stroke-width="3"/>
<line x1="534.6" y1="379.2" x2="550.2" y2="379.2" stroke="#ff0000" stroke-width="3.6"/>
<line x1="534.6" y1="369.98" x2="550.2" y2="369.98" stroke="#ff0000" stroke-width="3.6"/>
<line x1="609.11" y1="306.92" x2="609.11" y2="297.69" stroke="#ff0000" stroke-width="3"/>
<line x1="601.31" y1="306.92" x2="616.91" y2="306.92" stroke="#ff0000" stroke-width="3.6"/>
<line x1="601.31" y1="297.69" x2="616.91" y2="297.69" stroke="#ff0000" stroke-width="3.6"/>
<line x1="675.83" y1="237.71" x2="675.83" y2="228.48" stroke="#ff0000" stroke-width="3"/>
<line x1="668.03" y1="237.71" x2="683.63" y2="237.71" stroke="#ff0000" stroke-width="3.6"/>
<line x1="668.03" y1="228.48" x2="683.63" y2="228.48" stroke="#ff0000" stroke-width="3.6"/>
<line x1="742.54" y1="202.33" x2="742.54" y2="193.11" stroke="#ff0000" stroke-width="3"/>
<line x1="734.74" y1="202.33" x2="750.34" y2="202.33" stroke="#ff0000" stroke-width="3.6"/>
<line x1="734.74" y1="193.11" x2="750.34" y2="193.11" stroke="#ff0000" stroke-width="3.6"/>
<line x1="809.26" y1="176.19" x2="809.26" y2="166.96" stroke="#ff0000" stroke-width="3"/>
<line x1="801.46" y1="176.19" x2="817.06" y2="176.19" stroke="#ff0000" stroke-width="3.6"/>
<line x1="801.46" y1="166.96" x2="817.06" y2="166.96" stroke="#ff0000" stroke-width="3.6"/>
<line x1="875.97" y1="159.27" x2="875.97" y2="150.04" stroke="#ff0000" stroke-width="3"/>
<line x1="868.17" y1="159.27" x2="883.77" y2="159.27" stroke="#ff0000" stroke-width="3.6"/>
<line x1="868.17" y1="150.04" x2="883.77" y2="150.04" stroke="#ff0000" stroke-width="3.6"/>
<line x1="942.69" y1="151.58" x2="942.69" y2="142.35" stroke="#ff0000" stroke-width="3"/>
<line x1="934.89" y1="151.58" x2="950.49" y2="151.58" stroke="#ff0000" stroke-width="3.6"/>
<line x1="934.89" y1="142.35" x2="950.49" y2="142.35" stroke="#ff0000" stroke-width="3.6"/>
<line x1="1009.4" y1="146.97" x2="1009.4" y2="137.74" stroke="#ff0000" stroke-width="3"/>
<line x1="1001.6" y1="146.97" x2="1017.2" y2="146.97" stroke="#ff0000" stroke-width="3.6"/>
<line x1="1001.6" y1="137.74" x2="1017.2" y2="137.74" stroke="#ff0000" stroke-width="3.6"/>
<line x1="1076.11" y1="143.89" x2="1076.11" y2="134.66" stroke="#ff0000" stroke-width="3"/>
<line x1="1068.31" y1="143.89" x2="1083.91" y2="143.89" stroke="#ff0000" stroke-width="3.6"/>
<line x1="1068.31" y1="134.66" x2="1083.91" y2="134.66" stroke="#ff0000" stroke-width="3.6"/>
<line x1="1142.83" y1="142.35" x2="1142.83" y2="133.12" stroke="#ff0000" stroke-width="3"/>
<line x1="1135.03" y1="142.35" x2="1150.63" y2="142.35" stroke="#ff0000" stroke-width="3.6"/>
<line x1="1135.03" y1="133.12" x2="1150.63" y2="133.12" stroke="#ff0000" stroke-width="3.6"/>
<line x1="75.4" y1="1032.85" x2="75.4" y2="1014.4" stroke="#0000ff" stroke-width="3"/>
<line x1="67.6" y1="1032.85" x2="83.2" y2="1032.85" stroke="#0000ff" stroke-width="3.6"/>
<line x1="67.6" y1="1014.4" x2="83.2" y2="1014.4" stroke="#0000ff" stroke-width="3.6"/>
<line x1="142.11" y1="939.04" x2="142.11" y2="923.66" stroke="#0000ff" stroke-width="3"/>
<line x1="134.31" y1="939.04" x2="149.91" y2="939.04" stroke="#0000ff" stroke-width="3.6"/>
<line x1="134.31" y1="923.66" x2="149.91" y2="923.66" stroke="#0000ff" stroke-width="3.6"/>
<line x1="208.83" y1="822.15" x2="208.83" y2="806.77" stroke="#0000ff" stroke-width="3"/>
<line x1="201.03" y1="822.15" x2="216.63" y2="822.15" stroke="#0000ff" stroke-width="3.6"/>
<line x1="201.03" y1="806.77" x2="216.63" y2="806.77" stroke="#0000ff" stroke-width="3.6"/>
<line x1="275.54" y1="662.2" x2="275.54" y2="646.82" stroke="#0000ff" stroke-width="3"/>
<line x1="267.74" y1="662.2" x2="283.34" y2="662.2" stroke="#0000ff" stroke-width="3.6"/>
<line x1="267.74" y1="646.82" x2="283.34" y2="646.82" stroke="#0000ff" stroke-width="3.6"/>
<line x1="342.26" y1="555" x2="342.26" y2="529.47" stroke="#0000ff" stroke-width="3"/>
<line x1="334.46" y1="555" x2="350.06" y2="555" stroke="#0000ff" stroke-width="3.6"/>
<line x1="334.46" y1="529.47" x2="350.06" y2="529.47" stroke="#0000ff" stroke-width="3.6"/>
<line x1="408.97" y1="469.95" x2="408.97" y2="446.57" stroke="#0000ff" stroke-width="3"/>
<line x1="401.17" y1="469.95" x2="416.77" y2="469.95" stroke="#0000ff" stroke-width="3.6"/>
<line x1="401.17" y1="446.57" x2="416.77" y2="446.57" stroke="#0000ff" stroke-width="3.6"/>
<line x1="475.69" y1="413.35" x2="475.69" y2="401.04" stroke="#0000ff" stroke-width="3"/>
<line x1="467.89" y1="413.35" x2="483.49" y2="413.35" stroke="#0000ff" stroke-width="3.6"/>
<line x1="467.89" y1="401.04" x2="483.49" y2="401.04" stroke="#0000ff" stroke-width="3.6"/>
<line x1="542.4" y1="360.75" x2="542.4" y2="348.44" stroke="#0000ff" stroke-width="3"/>
<line x1="534.6" y1="360.75" x2="550.2" y2="360.75" stroke="#0000ff" stroke-width="3.6"/>
<line x1="534.6" y1="348.44" x2="550.2" y2="348.44" stroke="#0000ff" stroke-width="3.6"/>
<line x1="609.11" y1="289.08" x2="609.11" y2="276.77" stroke="#0000ff" stroke-width="3"/>
<line x1="601.31" y1="289.08" x2="616.91" y2="289.08" stroke="#0000ff" stroke-width="3.6"/>
<line x1="601.31" y1="276.77" x2="616.91" y2="276.77" stroke="#0000ff" stroke-width="3.6"/>
<line x1="675.83" y1="230.02" x2="675.83" y2="220.79" stroke="#0000ff" stroke-width="3"/>
<line x1="668.03" y1="230.02" x2="683.63" y2="230.02" stroke="#0000ff" stroke-width="3.6"/>
<line x1="668.03" y1="220.79" x2="683.63" y2="220.79" stroke="#0000ff" stroke-width="3.6"/>
<line x1="742.54" y1="199.26" x2="742.54" y2="190.03" stroke="#0000ff" stroke-width="3"/>
<line x1="734.74" y1="199.26" x2="750.34" y2="199.26" stroke="#0000ff" stroke-width="3.6"/>
<line x1="734.74" y1="190.03" x2="750.34" y2="190.03" stroke="#0000ff" stroke-width="3.6"/>
<line x1="809.26" y1="174.65" x2="809.26" y2="165.42" stroke="#0000ff" stroke-width="3"/>
<line x1="801.46" y1="174.65" x2="817.06" y2="174.65" stroke="#0000ff" stroke-width="3.6"/>
<line x1="801.46" y1="165.42" x2="817.06" y2="165.42" stroke="#0000ff" stroke-width="3.6"/>
<line x1="875.97" y1="159.27" x2="875.97" y2="150.04" stroke="#0000ff" stroke-width="3"/>
<line x1="868.17" y1="159.27" x2="883.77" y2="159.27" stroke="#0000ff" stroke-width="3.6"/>
<line x1="868.17" y1="150.04" x2="883.77" y2="150.04" stroke="#0000ff" stroke-width="3.6"/>
<line x1="942.69" y1="151.58" x2="942.69" y2="142.35" stroke="#0000ff" stroke-width="3"/>
<line x1="934.89" y1="151.58" x2="950.49" y2="151.58" stroke="#0000ff" stroke-width="3.6"/>
<line x1="934.89" y1="142.35" x2="950.49" y2="142.35" stroke="#0000ff" stroke-width="3.6"/>
<line x1="1009.4" y1="146.97" x2="1009.4" y2="137.74" stroke="#0000ff" stroke-width="3"/>
<line x1="1001.6" y1="146.97" x2="1017.2" y2="146.97" stroke="#0000ff" stroke-width="3.6"/>
<line x1="1001.6" y1="137.74" x2="1017.2" y2="137.74" stroke="#0000ff" stroke-width="3.6"/>
<line x1="1076.11" y1="143.89" x2="1076.11" y2="134.66" stroke="#0000ff" stroke-width="3"/>
<line x1="1068.31" y1="143.89" x2="1083.91" y2="143.89" stroke="#0000ff" stroke-width="3.6"/>
<line x1="1068.31" y1="134.66" x2="1083.91" y2="134.66" stroke="#0000ff" stroke-width="3.6"/>
<line x1="1142.83" y1="141.58" x2="1142.83" y2="132.36" stroke="#0000ff" stroke-width="3"/>
<line x1="1135.03" y1="141.58" x2="1150.63" y2="141.58" stroke="#0000ff" stroke-width="3.6"/>
<line x1="1135.03" y1="132.36" x2="1150.63" y2="132.36" stroke="#0000ff" stroke-width="3.6"/>
<line x1="75.4" y1="1098.99" x2="75.4" y2="1086.68" stroke="#ff0000" stroke-width="3"/>
<line x1="67.6" y1="1098.99" x2="83.2" y2="1098.99" stroke="#ff0000" stroke-width="3.6"/>
<line x1="67.6" y1="1086.68" x2="83.2" y2="1086.68" stroke="#ff0000" stroke-width="3.6"/>
<line x1="142.11" y1="985.94" x2="142.11" y2="973.64" stroke="#ff0000" stroke-width="3"/>
<line x1="134.31" y1="985.94" x2="149.91" y2="985.94" stroke="#ff0000" stroke-width="3.6"/>
<line x1="134.31" y1="973.64" x2="149.91" y2="973.64" stroke="#ff0000" stroke-width="3.6"/>
<line x1="208.83" y1="863.67" x2="208.83" y2="851.37" stroke="#ff0000" stroke-width="3"/>
<line x1="201.03" y1="863.67" x2="216.63" y2="863.67" stroke="#ff0000" stroke-width="3.6"/>
<line x1="201.03" y1="851.37" x2="216.63" y2="851.37" stroke="#ff0000" stroke-width="3.6"/>
<line x1="275.54" y1="697.57" x2="275.54" y2="685.27" stroke="#ff0000" stroke-width="3"/>
<line x1="267.74" y1="697.57" x2="283.34" y2="697.57" stroke="#ff0000" stroke-width="3.6"/>
<line x1="267.74" y1="685.27" x2="283.34" y2="685.27" stroke="#ff0000" stroke-width="3.6"/>
<line x1="342.26" y1="576.84" x2="342.26" y2="564.53" stroke="#ff0000" stroke-width="3"/>
<line x1="334.46" y1="576.84" x2="350.06" y2="576.84" stroke="#ff0000" stroke-width="3.6"/>
<line x1="334.46" y1="564.53" x2="350.06" y2="564.53" stroke="#ff0000" stroke-width="3.6"/>
<line x1="408.97" y1="486.56" x2="408.97" y2="474.25" stroke="#ff0000" stroke-width="3"/>
<line x1="401.17" y1="486.56" x2="416.77" y2="486.56" stroke="#ff0000" stroke-width="3.6"/>
<line x1="401.17" y1="474.25" x2="416.77" y2="474.25" stroke="#ff0000" stroke-width="3.6"/>
<line x1="475.69" y1="437.19" x2="475.69" y2="424.88" stroke="#ff0000" stroke-width="3"/>
<line x1="467.89" y1="437.19" x2="483.49" y2="437.19" stroke="#ff0000" stroke-width="3.6"/>
<line x1="467.89" y1="424.88" x2="483.49" y2="424.88" stroke="#ff0000" stroke-width="3.6"/>
<line x1="542.4" y1="382.28" x2="542.4" y2="369.98" stroke="#ff0000" stroke-width="3"/>
<line x1="534.6" y1="382.28" x2="550.2" y2="382.28" stroke="#ff0000" stroke-width="3.6"/>
<line x1="534.6" y1="369.98" x2="550.2" y2="369.98" stroke="#ff0000" stroke-width="3.6"/>
<line x1="609.11" y1="308.46" x2="609.11" y2="296.15" stroke="#ff0000" stroke-width="3"/>
<line x1="601.31" y1="308.46" x2="616.91" y2="308.46" stroke="#ff0000" stroke-width="3.6"/>
<line x1="601.31" y1="296.15" x2="616.91" y2="296.15" stroke="#ff0000" stroke-width="3.6"/>
<line x1="675.83" y1="239.25" x2="675.83" y2="226.94" stroke="#ff0000" stroke-width="3"/>
<line x1="668.03" y1="239.25" x2="683.63" y2="239.25" stroke="#ff0000" stroke-width="3.6"/>
<line x1="668.03" y1="226.94" x2="683.63" y2="226.94" stroke="#ff0000" stroke-width="3.6"/>
<line x1="742.54" y1="203.87" x2="742.54" y2="191.57" stroke="#ff0000" stroke-width="3"/>
<line x1="734.74" y1="203.87" x2="750.34" y2="203.87" stroke="#ff0000" stroke-width="3.6"/>
<line x1="734.74" y1="191.57" x2="750.34" y2="191.57" stroke="#ff0000" stroke-width="3.6"/>
<line x1="809.26" y1="177.73" x2="809.26" y2="165.42" stroke="#ff0000" stroke-width="3"/>
<line x1="801.46" y1="177.73" x2="817.06" y2="177.73" stroke="#ff0000" stroke-width="3.6"/>
<line x1="801.46" y1="165.42" x2="817.06" y2="165.42" stroke="#ff0000" stroke-width="3.6"/>
<line x1="875.97" y1="160.81" x2="875.97" y2="148.5" stroke="#ff0000" stroke-width="3"/>
<line x1="868.17" y1="160.81" x2="883.77" y2="160.81" stroke="#ff0000" stroke-width="3.6"/>
<line x1="868.17" y1="148.5" x2="883.77" y2="148.5" stroke="#ff0000" stroke-width="3.6"/>
<line x1="942.69" y1="153.12" x2="942.69" y2="140.81" stroke="#ff0000" stroke-width="3"/>
<line x1="934.89" y1="153.12" x2="950.49" y2="153.12" stroke="#ff0000" stroke-width="3.6"/>
<line x1="934.89" y1="140.81" x2="950.49" y2="140.81" stroke="#ff0000" stroke-width="3.6"/>
<line x1="1009.4" y1="149.12" x2="1009.4" y2="136.82" stroke="#ff0000" stroke-width="3"/>
<line x1="1001.6" y1="149.12" x2="1017.2" y2="149.12" stroke="#ff0000" stroke-width="3.6"/>
<line x1="1001.6" y1="136.82" x2="1017.2" y2="136.82" stroke="#ff0000" stroke-width="3.6"/>
<line x1="1076.11" y1="145.89" x2="1076.11" y2="133.59" stroke="#ff0000" stroke-width="3"/>
<line x1="1068.31" y1="145.89" x2="1083.91" y2="145.89" stroke="#ff0000" stroke-width="3.6"/>
<line x1="1068.31" y1="133.59" x2="1083.91" y2="133.59" stroke="#ff0000" stroke-width="3.6"/>
<line x1="1142.83" y1="143.89" x2="1142.83" y2="131.59" stroke="#ff0000" stroke-width="3"/>
<line x1="1135.03" y1="143.89" x2="1150.63" y2="143.89" stroke="#ff0000" stroke-width="3.6"/>
<line x1="1135.03" y1="131.59" x2="1150.63" y2="131.59" stroke="#ff0000" stroke-width="3.6"/>
<polyline points="8.69,1260.48 75.4,1017.47 142.11,923.66 208.83,792.93 275.54,631.44 342.26,520.7 408.97,443.8 475.69,406.12 542.4,356.13 609.11,286.92 675.83,228.48 742.54,196.18 809.26,171.57 875.97,154.66 942.69,146.97 1009.4,142.35 1076.11,139.28 1142.83,136.97" fill="none" stroke="#0000ff" stroke-width="3" stroke-linejoin="round"/>
<circle cx="8.69" cy="1260.48" r="7.4" fill="#0000ff"/>
<circle cx="75.4" cy="1017.47" r="7.4" fill="#0000ff"/>
<circle cx="142.11" cy="923.66" r="7.4" fill="#0000ff"/>
<circle cx="208.83" cy="792.93" r="7.4" fill="#0000ff"/>
<circle cx="275.54" cy="631.44" r="7.4" fill="#0000ff"/>
<circle cx="342.26" cy="520.7" r="7.4" fill="#0000ff"/>
<circle cx="408.97" cy="443.8" r="7.4" fill="#0000ff"/>
<circle cx="475.69" cy="406.12" r="7.4" fill="#0000ff"/>
<circle cx="542.4" cy="356.13" r="7.4" fill="#0000ff"/>
<circle cx="609.11" cy="286.92" r="7.4" fill="#0000ff"/>
<circle cx="675.83" cy="228.48" r="7.4" fill="#0000ff"/>
<circle cx="742.54" cy="196.18" r="7.4" fill="#0000ff"/>
<circle cx="809.26" cy="171.57" r="7.4" fill="#0000ff"/>
<circle cx="875.97" cy="154.66" r="7.4" fill="#0000ff"/>
<circle cx="942.69" cy="146.97" r="7.4" fill="#0000ff"/>
<circle cx="1009.4" cy="142.35" r="7.4" fill="#0000ff"/>
<circle cx="1076.11" cy="139.28" r="7.4" fill="#0000ff"/>
<circle cx="1142.83" cy="136.97" r="7.4" fill="#0000ff"/>
<polyline points="75.4,1077.46 142.11,974.41 208.83,842.14 275.54,674.5 342.26,566.84 408.97,479.17 475.69,429.96 542.4,374.59 609.11,302.3 675.83,233.09 742.54,197.72 809.26,171.57 875.97,154.66 942.69,146.97 1009.4,142.35 1076.11,139.28 1142.83,137.74" fill="none" stroke="#ff0000" stroke-width="3" stroke-linejoin="round"/>
<rect x="69.8" y="1071.86" width="11.2" height="11.2" fill="#ff0000" stroke="#ff0000" stroke-width="3.6"/>
<rect x="136.51" y="968.81" width="11.2" height="11.2" fill="#ff0000" stroke="#ff0000" stroke-width="3.6"/>
<rect x="203.23" y="836.54" width="11.2" height="11.2" fill="#ff0000" stroke="#ff0000" stroke-width="3.6"/>
<rect x="269.94" y="668.9" width="11.2" height="11.2" fill="#ff0000" stroke="#ff0000" stroke-width="3.6"/>
<rect x="336.66" y="561.24" width="11.2" height="11.2" fill="#ff0000" stroke="#ff0000" stroke-width="3.6"/>
<rect x="403.37" y="473.57" width="11.2" height="11.2" fill="#ff0000" stroke="#ff0000" stroke-width="3.6"/>
<rect x="470.09" y="424.36" width="11.2" height="11.2" fill="#ff0000" stroke="#ff0000" stroke-width="3.6"/>
<rect x="536.8" y="368.99" width="11.2" height="11.2" fill="#ff0000" stroke="#ff0000" stroke-width="3.6"/>
<rect x="603.51" y="296.7" width="11.2" height="11.2" fill="#ff0000" stroke="#ff0000" stroke-width="3.6"/>
<rect x="670.23" y="227.49" width="11.2" height="11.2" fill="#ff0000" stroke="#ff0000" stroke-width="3.6"/>
<rect x="736.94" y="192.12" width="11.2" height="11.2" fill="#ff0000" stroke="#ff0000" stroke-width="3.6"/>
<rect x="803.66" y="165.97" width="11.2" height="11.2" fill="#ff0000" stroke="#ff0000" stroke-width="3.6"/>
<rect x="870.37" y="149.06" width="11.2" height="11.2" fill="#ff0000" stroke="#ff0000" stroke-width="3.6"/>
<rect x="937.09" y="141.37" width="11.2" height="11.2" fill="#ff0000" stroke="#ff0000" stroke-width="3.6"/>
<rect x="1003.8" y="136.75" width="11.2" height="11.2" fill="#ff0000" stroke="#ff0000" stroke-width="3.6"/>
<rect x="1070.51" y="133.68" width="11.2" height="11.2" fill="#ff0000" stroke="#ff0000" stroke-width="3.6"/>
<rect x="1137.23" y="132.14" width="11.2" height="11.2" fill="#ff0000" stroke="#ff0000" stroke-width="3.6"/>
<polyline points="75.4,1023.63 142.11,931.35 208.83,814.46 275.54,654.51 342.26,542.23 408.97,458.26 475.69,407.2 542.4,354.6 609.11,282.93 675.83,225.4 742.54,194.64 809.26,170.04 875.97,154.66 942.69,146.97 1009.4,142.35 1076.11,139.28 1142.83,136.97" fill="none" stroke="#0000ff" stroke-width="3" stroke-dasharray="3 4.95" stroke-linejoin="round"/>
<circle cx="75.4" cy="1023.63" r="5.6" fill="#ffffff" stroke="#0000ff" stroke-width="3.6"/>
<circle cx="142.11" cy="931.35" r="5.6" fill="#ffffff" stroke="#0000ff" stroke-width="3.6"/>
<circle cx="208.83" cy="814.46" r="5.6" fill="#ffffff" stroke="#0000ff" stroke-width="3.6"/>
<circle cx="275.54" cy="654.51" r="5.6" fill="#ffffff" stroke="#0000ff" stroke-width="3.6"/>
<circle cx="342.26" cy="542.23" r="5.6" fill="#ffffff" stroke="#0000ff" stroke-width="3.6"/>
<circle cx="408.97" cy="458.26" r="5.6" fill="#ffffff" stroke="#0000ff" stroke-width="3.6"/>
<circle cx="475.69" cy="407.2" r="5.6" fill="#ffffff" stroke="#0000ff" stroke-width="3.6"/>
<circle cx="542.4" cy="354.6" r="5.6" fill="#ffffff" stroke="#0000ff" stroke-width="3.6"/>
<circle cx="609.11" cy="282.93" r="5.6" fill="#ffffff" stroke="#0000ff" stroke-width="3.6"/>
<circle cx="675.83" cy="225.4" r="5.6" fill="#ffffff" stroke="#0000ff" stroke-width="3.6"/>
<circle cx="742.54" cy="194.64" r="5.6" fill="#ffffff" stroke="#0000ff" stroke-width="3.6"/>
<circle cx="809.26" cy="170.04" r="5.6" fill="#ffffff" stroke="#0000ff" stroke-width="3.6"/>
<circle cx="875.97" cy="154.66" r="5.6" fill="#ffffff" stroke="#0000ff" stroke-width="3.6"/>
<circle cx="942.69" cy="146.97" r="5.6" fill="#ffffff" stroke="#0000ff" stroke-width="3.6"/>
<circle cx="1009.4" cy="142.35" r="5.6" fill="#ffffff" stroke="#0000ff" stroke-width="3.6"/>
<circle cx="1076.11" cy="139.28" r="5.6" fill="#ffffff" stroke="#0000ff" stroke-width="3.6"/>
<circle cx="1142.83" cy="136.97" r="5.6" fill="#ffffff" stroke="#0000ff" stroke-width="3.6"/>
<polyline points="75.4,1092.84 142.11,979.79 208.83,857.52 275.54,691.42 342.26,570.68 408.97,480.4 475.69,431.03 542.4,376.13 609.11,302.3 675.83,233.09 742.54,197.72 809.26,171.57 875.97,154.66 942.69,146.97 1009.4,142.97 1076.11,139.74 1142.83,137.74" fill="none" stroke="#ff0000" stroke-width="3" stroke-dasharray="3 4.95" stroke-linejoin="round"/>
<rect x="69.8" y="1087.24" width="11.2" height="11.2" fill="#ffffff" stroke="#ff0000" stroke-width="3.6"/>
<rect x="136.51" y="974.19" width="11.2" height="11.2" fill="#ffffff" stroke="#ff0000" stroke-width="3.6"/>
<rect x="203.23" y="851.92" width="11.2" height="11.2" fill="#ffffff" stroke="#ff0000" stroke-width="3.6"/>
<rect x="269.94" y="685.82" width="11.2" height="11.2" fill="#ffffff" stroke="#ff0000" stroke-width="3.6"/>
<rect x="336.66" y="565.08" width="11.2" height="11.2" fill="#ffffff" stroke="#ff0000" stroke-width="3.6"/>
<rect x="403.37" y="474.8" width="11.2" height="11.2" fill="#ffffff" stroke="#ff0000" stroke-width="3.6"/>
<rect x="470.09" y="425.43" width="11.2" height="11.2" fill="#ffffff" stroke="#ff0000" stroke-width="3.6"/>
<rect x="536.8" y="370.53" width="11.2" height="11.2" fill="#ffffff" stroke="#ff0000" stroke-width="3.6"/>
<rect x="603.51" y="296.7" width="11.2" height="11.2" fill="#ffffff" stroke="#ff0000" stroke-width="3.6"/>
<rect x="670.23" y="227.49" width="11.2" height="11.2" fill="#ffffff" stroke="#ff0000" stroke-width="3.6"/>
<rect x="736.94" y="192.12" width="11.2" height="11.2" fill="#ffffff" stroke="#ff0000" stroke-width="3.6"/>
<rect x="803.66" y="165.97" width="11.2" height="11.2" fill="#ffffff" stroke="#ff0000" stroke-width="3.6"/>
<rect x="870.37" y="149.06" width="11.2" height="11.2" fill="#ffffff" stroke="#ff0000" stroke-width="3.6"/>
<rect x="937.09" y="141.37" width="11.2" height="11.2" fill="#ffffff" stroke="#ff0000" stroke-width="3.6"/>
<rect x="1003.8" y="137.37" width="11.2" height="11.2" fill="#ffffff" stroke="#ff0000" stroke-width="3.6"/>
<rect x="1070.51" y="134.14" width="11.2" height="11.2" fill="#ffffff" stroke="#ff0000" stroke-width="3.6"/>
<rect x="1137.23" y="132.14" width="11.2" height="11.2" fill="#ffffff" stroke="#ff0000" stroke-width="3.6"/>
</g>
<rect x="308.9" y="366.9" width="233.5" height="230.7" fill="none" stroke="#000" stroke-width="2.7" stroke-linejoin="miter"/>
<line x1="405.14" y1="159.52" x2="542.4" y2="366.9" stroke="#808080" stroke-width="3"/>
<line x1="321.69" y1="275.94" x2="308.9" y2="597.6" stroke="#808080" stroke-width="3"/>
<line x1="342.26" y1="597.6" x2="342.26" y2="610.6" stroke="#000" stroke-width="2.7"/>
<line x1="475.69" y1="597.6" x2="475.69" y2="610.6" stroke="#000" stroke-width="2.7"/>
<rect x="334.7" y="613" width="16" height="29.4" fill="#ffffff"/>
<text x="342.26" y="637.2" font-size="32" text-anchor="middle">8</text>
<text x="475.69" y="637.2" font-size="32" text-anchor="middle">10</text>
<line x1="542.4" y1="597.6" x2="556.4" y2="597.6" stroke="#000" stroke-width="2.7"/>
<text x="557.4" y="608.16" font-size="32" text-anchor="start">0.70</text>
<line x1="542.4" y1="520.7" x2="556.4" y2="520.7" stroke="#000" stroke-width="2.7"/>
<text x="557.4" y="531.26" font-size="32" text-anchor="start">0.75</text>
<line x1="542.4" y1="443.8" x2="556.4" y2="443.8" stroke="#000" stroke-width="2.7"/>
<text x="557.4" y="454.36" font-size="32" text-anchor="start">0.80</text>
<line x1="542.4" y1="366.9" x2="556.4" y2="366.9" stroke="#000" stroke-width="2.7"/>
<text x="557.4" y="377.46" font-size="32" text-anchor="start">0.85</text>
<clipPath id="c3"><rect x="729.2" y="4.3" width="476.9" height="659.7"/></clipPath>
<g clip-path="url(#c3)">
<rect x="811.26" y="4.3" width="169.71" height="659.7" fill="#fff7cc"/>
<rect x="812.66" y="4.3" width="1.5" height="659.7" fill="#fff1a3"/>
<rect x="978.07" y="4.3" width="1.5" height="659.7" fill="#fff1a3"/>
<rect x="855.34" y="4.3" width="23.13" height="659.7" fill="#cdc4bf"/>
<rect x="853.84" y="4.3" width="3" height="659.7" fill="#a7a2b6"/>
<rect x="876.97" y="4.3" width="3" height="659.7" fill="#a7a2b6"/>
<line x1="800.74" y1="611.61" x2="800.74" y2="609.28" stroke="#0000ff" stroke-width="3"/>
<line x1="792.94" y1="611.61" x2="808.53" y2="611.61" stroke="#0000ff" stroke-width="3.6"/>
<line x1="792.94" y1="609.28" x2="808.53" y2="609.28" stroke="#0000ff" stroke-width="3.6"/>
<line x1="824.58" y1="505.67" x2="824.58" y2="497.91" stroke="#0000ff" stroke-width="3"/>
<line x1="816.78" y1="505.67" x2="832.38" y2="505.67" stroke="#0000ff" stroke-width="3.6"/>
<line x1="816.78" y1="497.91" x2="832.38" y2="497.91" stroke="#0000ff" stroke-width="3.6"/>
<line x1="848.43" y1="446.84" x2="848.43" y2="440.63" stroke="#0000ff" stroke-width="3"/>
<line x1="840.63" y1="446.84" x2="856.23" y2="446.84" stroke="#0000ff" stroke-width="3.6"/>
<line x1="840.63" y1="440.63" x2="856.23" y2="440.63" stroke="#0000ff" stroke-width="3.6"/>
<line x1="872.27" y1="369.08" x2="872.27" y2="362.87" stroke="#0000ff" stroke-width="3"/>
<line x1="864.47" y1="369.08" x2="880.07" y2="369.08" stroke="#0000ff" stroke-width="3.6"/>
<line x1="864.47" y1="362.87" x2="880.07" y2="362.87" stroke="#0000ff" stroke-width="3.6"/>
<line x1="896.12" y1="318.63" x2="896.12" y2="313.97" stroke="#0000ff" stroke-width="3"/>
<line x1="888.32" y1="318.63" x2="903.91" y2="318.63" stroke="#0000ff" stroke-width="3.6"/>
<line x1="888.32" y1="313.97" x2="903.91" y2="313.97" stroke="#0000ff" stroke-width="3.6"/>
<line x1="919.96" y1="268.96" x2="919.96" y2="264.3" stroke="#0000ff" stroke-width="3"/>
<line x1="912.16" y1="268.96" x2="927.76" y2="268.96" stroke="#0000ff" stroke-width="3.6"/>
<line x1="912.16" y1="264.3" x2="927.76" y2="264.3" stroke="#0000ff" stroke-width="3.6"/>
<line x1="943.81" y1="243.34" x2="943.81" y2="238.69" stroke="#0000ff" stroke-width="3"/>
<line x1="936.01" y1="243.34" x2="951.61" y2="243.34" stroke="#0000ff" stroke-width="3.6"/>
<line x1="936.01" y1="238.69" x2="951.61" y2="238.69" stroke="#0000ff" stroke-width="3.6"/>
<line x1="967.65" y1="233.25" x2="967.65" y2="228.6" stroke="#0000ff" stroke-width="3"/>
<line x1="959.85" y1="233.25" x2="975.45" y2="233.25" stroke="#0000ff" stroke-width="3.6"/>
<line x1="959.85" y1="228.6" x2="975.45" y2="228.6" stroke="#0000ff" stroke-width="3.6"/>
<line x1="991.5" y1="222.39" x2="991.5" y2="217.73" stroke="#0000ff" stroke-width="3"/>
<line x1="983.7" y1="222.39" x2="999.3" y2="222.39" stroke="#0000ff" stroke-width="3.6"/>
<line x1="983.7" y1="217.73" x2="999.3" y2="217.73" stroke="#0000ff" stroke-width="3.6"/>
<line x1="1015.34" y1="201.43" x2="1015.34" y2="195.22" stroke="#0000ff" stroke-width="3"/>
<line x1="1007.54" y1="201.43" x2="1023.14" y2="201.43" stroke="#0000ff" stroke-width="3.6"/>
<line x1="1007.54" y1="195.22" x2="1023.14" y2="195.22" stroke="#0000ff" stroke-width="3.6"/>
<line x1="1039.18" y1="189.79" x2="1039.18" y2="183.58" stroke="#0000ff" stroke-width="3"/>
<line x1="1031.38" y1="189.79" x2="1046.98" y2="189.79" stroke="#0000ff" stroke-width="3.6"/>
<line x1="1031.38" y1="183.58" x2="1046.98" y2="183.58" stroke="#0000ff" stroke-width="3.6"/>
<line x1="1063.03" y1="167.52" x2="1063.03" y2="158.2" stroke="#0000ff" stroke-width="3"/>
<line x1="1055.23" y1="167.52" x2="1070.83" y2="167.52" stroke="#0000ff" stroke-width="3.6"/>
<line x1="1055.23" y1="158.2" x2="1070.83" y2="158.2" stroke="#0000ff" stroke-width="3.6"/>
<line x1="1086.88" y1="150.6" x2="1086.88" y2="125.76" stroke="#0000ff" stroke-width="3"/>
<line x1="1079.08" y1="150.6" x2="1094.67" y2="150.6" stroke="#0000ff" stroke-width="3.6"/>
<line x1="1079.08" y1="125.76" x2="1094.67" y2="125.76" stroke="#0000ff" stroke-width="3.6"/>
<line x1="1110.72" y1="184.36" x2="1110.72" y2="85.02" stroke="#0000ff" stroke-width="3"/>
<line x1="1102.92" y1="184.36" x2="1118.52" y2="184.36" stroke="#0000ff" stroke-width="3.6"/>
<line x1="1102.92" y1="85.02" x2="1118.52" y2="85.02" stroke="#0000ff" stroke-width="3.6"/>
<line x1="1134.57" y1="555.34" x2="1134.57" y2="265.08" stroke="#0000ff" stroke-width="3"/>
<line x1="1126.77" y1="555.34" x2="1142.37" y2="555.34" stroke="#0000ff" stroke-width="3.6"/>
<line x1="1126.77" y1="265.08" x2="1142.37" y2="265.08" stroke="#0000ff" stroke-width="3.6"/>
<line x1="824.58" y1="542.15" x2="824.58" y2="534.39" stroke="#ff0000" stroke-width="3"/>
<line x1="816.78" y1="542.15" x2="832.38" y2="542.15" stroke="#ff0000" stroke-width="3.6"/>
<line x1="816.78" y1="534.39" x2="832.38" y2="534.39" stroke="#ff0000" stroke-width="3.6"/>
<line x1="848.43" y1="488.6" x2="848.43" y2="480.84" stroke="#ff0000" stroke-width="3"/>
<line x1="840.63" y1="488.6" x2="856.23" y2="488.6" stroke="#ff0000" stroke-width="3.6"/>
<line x1="840.63" y1="480.84" x2="856.23" y2="480.84" stroke="#ff0000" stroke-width="3.6"/>
<line x1="872.27" y1="406.33" x2="872.27" y2="398.57" stroke="#ff0000" stroke-width="3"/>
<line x1="864.47" y1="406.33" x2="880.07" y2="406.33" stroke="#ff0000" stroke-width="3.6"/>
<line x1="864.47" y1="398.57" x2="880.07" y2="398.57" stroke="#ff0000" stroke-width="3.6"/>
<line x1="896.12" y1="360.54" x2="896.12" y2="352.78" stroke="#ff0000" stroke-width="3"/>
<line x1="888.32" y1="360.54" x2="903.91" y2="360.54" stroke="#ff0000" stroke-width="3.6"/>
<line x1="888.32" y1="352.78" x2="903.91" y2="352.78" stroke="#ff0000" stroke-width="3.6"/>
<line x1="919.96" y1="306.21" x2="919.96" y2="298.45" stroke="#ff0000" stroke-width="3"/>
<line x1="912.16" y1="306.21" x2="927.76" y2="306.21" stroke="#ff0000" stroke-width="3.6"/>
<line x1="912.16" y1="298.45" x2="927.76" y2="298.45" stroke="#ff0000" stroke-width="3.6"/>
<line x1="943.81" y1="274.39" x2="943.81" y2="266.63" stroke="#ff0000" stroke-width="3"/>
<line x1="936.01" y1="274.39" x2="951.61" y2="274.39" stroke="#ff0000" stroke-width="3.6"/>
<line x1="936.01" y1="266.63" x2="951.61" y2="266.63" stroke="#ff0000" stroke-width="3.6"/>
<line x1="967.65" y1="255.76" x2="967.65" y2="248" stroke="#ff0000" stroke-width="3"/>
<line x1="959.85" y1="255.76" x2="975.45" y2="255.76" stroke="#ff0000" stroke-width="3.6"/>
<line x1="959.85" y1="248" x2="975.45" y2="248" stroke="#ff0000" stroke-width="3.6"/>
<line x1="991.5" y1="243.34" x2="991.5" y2="235.58" stroke="#ff0000" stroke-width="3"/>
<line x1="983.7" y1="243.34" x2="999.3" y2="243.34" stroke="#ff0000" stroke-width="3.6"/>
<line x1="983.7" y1="235.58" x2="999.3" y2="235.58" stroke="#ff0000" stroke-width="3.6"/>
<line x1="1015.34" y1="218.51" x2="1015.34" y2="209.2" stroke="#ff0000" stroke-width="3"/>
<line x1="1007.54" y1="218.51" x2="1023.14" y2="218.51" stroke="#ff0000" stroke-width="3.6"/>
<line x1="1007.54" y1="209.2" x2="1023.14" y2="209.2" stroke="#ff0000" stroke-width="3.6"/>
<line x1="1039.18" y1="209.58" x2="1039.18" y2="200.27" stroke="#ff0000" stroke-width="3"/>
<line x1="1031.38" y1="209.58" x2="1046.98" y2="209.58" stroke="#ff0000" stroke-width="3.6"/>
<line x1="1031.38" y1="200.27" x2="1046.98" y2="200.27" stroke="#ff0000" stroke-width="3.6"/>
<line x1="1063.03" y1="194.45" x2="1063.03" y2="183.58" stroke="#ff0000" stroke-width="3"/>
<line x1="1055.23" y1="194.45" x2="1070.83" y2="194.45" stroke="#ff0000" stroke-width="3.6"/>
<line x1="1055.23" y1="183.58" x2="1070.83" y2="183.58" stroke="#ff0000" stroke-width="3.6"/>
<line x1="1086.88" y1="201.43" x2="1086.88" y2="185.91" stroke="#ff0000" stroke-width="3"/>
<line x1="1079.08" y1="201.43" x2="1094.67" y2="201.43" stroke="#ff0000" stroke-width="3.6"/>
<line x1="1079.08" y1="185.91" x2="1094.67" y2="185.91" stroke="#ff0000" stroke-width="3.6"/>
<line x1="1110.72" y1="163.4" x2="1110.72" y2="132.36" stroke="#ff0000" stroke-width="3"/>
<line x1="1102.92" y1="163.4" x2="1118.52" y2="163.4" stroke="#ff0000" stroke-width="3.6"/>
<line x1="1102.92" y1="132.36" x2="1118.52" y2="132.36" stroke="#ff0000" stroke-width="3.6"/>
<line x1="1134.57" y1="250.33" x2="1134.57" y2="98.21" stroke="#ff0000" stroke-width="3"/>
<line x1="1126.77" y1="250.33" x2="1142.37" y2="250.33" stroke="#ff0000" stroke-width="3.6"/>
<line x1="1126.77" y1="98.21" x2="1142.37" y2="98.21" stroke="#ff0000" stroke-width="3.6"/>
<line x1="1158.41" y1="144" x2="1158.41" y2="128.48" stroke="#ff0000" stroke-width="3"/>
<line x1="1150.61" y1="144" x2="1166.21" y2="144" stroke="#ff0000" stroke-width="3.6"/>
<line x1="1150.61" y1="128.48" x2="1166.21" y2="128.48" stroke="#ff0000" stroke-width="3.6"/>
<line x1="824.58" y1="508.47" x2="824.58" y2="500.7" stroke="#0000ff" stroke-width="3"/>
<line x1="816.78" y1="508.47" x2="832.38" y2="508.47" stroke="#0000ff" stroke-width="3.6"/>
<line x1="816.78" y1="500.7" x2="832.38" y2="500.7" stroke="#0000ff" stroke-width="3.6"/>
<line x1="848.43" y1="451.03" x2="848.43" y2="443.27" stroke="#0000ff" stroke-width="3"/>
<line x1="840.63" y1="451.03" x2="856.23" y2="451.03" stroke="#0000ff" stroke-width="3.6"/>
<line x1="840.63" y1="443.27" x2="856.23" y2="443.27" stroke="#0000ff" stroke-width="3.6"/>
<line x1="872.27" y1="375.28" x2="872.27" y2="365.97" stroke="#0000ff" stroke-width="3"/>
<line x1="864.47" y1="375.28" x2="880.07" y2="375.28" stroke="#0000ff" stroke-width="3.6"/>
<line x1="864.47" y1="365.97" x2="880.07" y2="365.97" stroke="#0000ff" stroke-width="3.6"/>
<line x1="896.12" y1="324.53" x2="896.12" y2="316.76" stroke="#0000ff" stroke-width="3"/>
<line x1="888.32" y1="324.53" x2="903.91" y2="324.53" stroke="#0000ff" stroke-width="3.6"/>
<line x1="888.32" y1="316.76" x2="903.91" y2="316.76" stroke="#0000ff" stroke-width="3.6"/>
<line x1="919.96" y1="273.07" x2="919.96" y2="265.31" stroke="#0000ff" stroke-width="3"/>
<line x1="912.16" y1="273.07" x2="927.76" y2="273.07" stroke="#0000ff" stroke-width="3.6"/>
<line x1="912.16" y1="265.31" x2="927.76" y2="265.31" stroke="#0000ff" stroke-width="3.6"/>
<line x1="943.81" y1="248" x2="943.81" y2="240.24" stroke="#0000ff" stroke-width="3"/>
<line x1="936.01" y1="248" x2="951.61" y2="248" stroke="#0000ff" stroke-width="3.6"/>
<line x1="936.01" y1="240.24" x2="951.61" y2="240.24" stroke="#0000ff" stroke-width="3.6"/>
<line x1="967.65" y1="229.76" x2="967.65" y2="222" stroke="#0000ff" stroke-width="3"/>
<line x1="959.85" y1="229.76" x2="975.45" y2="229.76" stroke="#0000ff" stroke-width="3.6"/>
<line x1="959.85" y1="222" x2="975.45" y2="222" stroke="#0000ff" stroke-width="3.6"/>
<line x1="991.5" y1="222.39" x2="991.5" y2="213.08" stroke="#0000ff" stroke-width="3"/>
<line x1="983.7" y1="222.39" x2="999.3" y2="222.39" stroke="#0000ff" stroke-width="3.6"/>
<line x1="983.7" y1="213.08" x2="999.3" y2="213.08" stroke="#0000ff" stroke-width="3.6"/>
<line x1="1015.34" y1="199.11" x2="1015.34" y2="189.79" stroke="#0000ff" stroke-width="3"/>
<line x1="1007.54" y1="199.11" x2="1023.14" y2="199.11" stroke="#0000ff" stroke-width="3.6"/>
<line x1="1007.54" y1="189.79" x2="1023.14" y2="189.79" stroke="#0000ff" stroke-width="3.6"/>
<line x1="1039.18" y1="189.02" x2="1039.18" y2="176.6" stroke="#0000ff" stroke-width="3"/>
<line x1="1031.38" y1="189.02" x2="1046.98" y2="189.02" stroke="#0000ff" stroke-width="3.6"/>
<line x1="1031.38" y1="176.6" x2="1046.98" y2="176.6" stroke="#0000ff" stroke-width="3.6"/>
<line x1="1063.03" y1="162.63" x2="1063.03" y2="147.11" stroke="#0000ff" stroke-width="3"/>
<line x1="1055.23" y1="162.63" x2="1070.83" y2="162.63" stroke="#0000ff" stroke-width="3.6"/>
<line x1="1055.23" y1="147.11" x2="1070.83" y2="147.11" stroke="#0000ff" stroke-width="3.6"/>
<line x1="1086.88" y1="145.55" x2="1086.88" y2="-40.71" stroke="#0000ff" stroke-width="3"/>
<line x1="1079.08" y1="145.55" x2="1094.67" y2="145.55" stroke="#0000ff" stroke-width="3.6"/>
<line x1="1079.08" y1="-40.71" x2="1094.67" y2="-40.71" stroke="#0000ff" stroke-width="3.6"/>
<line x1="1110.72" y1="139.34" x2="1110.72" y2="123.82" stroke="#0000ff" stroke-width="3"/>
<line x1="1102.92" y1="139.34" x2="1118.52" y2="139.34" stroke="#0000ff" stroke-width="3.6"/>
<line x1="1102.92" y1="123.82" x2="1118.52" y2="123.82" stroke="#0000ff" stroke-width="3.6"/>
<line x1="1134.57" y1="110.63" x2="1134.57" y2="104.42" stroke="#0000ff" stroke-width="3"/>
<line x1="1126.77" y1="110.63" x2="1142.37" y2="110.63" stroke="#0000ff" stroke-width="3.6"/>
<line x1="1126.77" y1="104.42" x2="1142.37" y2="104.42" stroke="#0000ff" stroke-width="3.6"/>
<line x1="1158.41" y1="17.49" x2="1158.41" y2="11.29" stroke="#0000ff" stroke-width="3"/>
<line x1="1150.61" y1="17.49" x2="1166.21" y2="17.49" stroke="#0000ff" stroke-width="3.6"/>
<line x1="1150.61" y1="11.29" x2="1166.21" y2="11.29" stroke="#0000ff" stroke-width="3.6"/>
<line x1="824.58" y1="543.7" x2="824.58" y2="535.94" stroke="#ff0000" stroke-width="3"/>
<line x1="816.78" y1="543.7" x2="832.38" y2="543.7" stroke="#ff0000" stroke-width="3.6"/>
<line x1="816.78" y1="535.94" x2="832.38" y2="535.94" stroke="#ff0000" stroke-width="3.6"/>
<line x1="848.43" y1="483.32" x2="848.43" y2="475.56" stroke="#ff0000" stroke-width="3"/>
<line x1="840.63" y1="483.32" x2="856.23" y2="483.32" stroke="#ff0000" stroke-width="3.6"/>
<line x1="840.63" y1="475.56" x2="856.23" y2="475.56" stroke="#ff0000" stroke-width="3.6"/>
<line x1="872.27" y1="404.78" x2="872.27" y2="397.02" stroke="#ff0000" stroke-width="3"/>
<line x1="864.47" y1="404.78" x2="880.07" y2="404.78" stroke="#ff0000" stroke-width="3.6"/>
<line x1="864.47" y1="397.02" x2="880.07" y2="397.02" stroke="#ff0000" stroke-width="3.6"/>
<line x1="896.12" y1="356.66" x2="896.12" y2="348.9" stroke="#ff0000" stroke-width="3"/>
<line x1="888.32" y1="356.66" x2="903.91" y2="356.66" stroke="#ff0000" stroke-width="3.6"/>
<line x1="888.32" y1="348.9" x2="903.91" y2="348.9" stroke="#ff0000" stroke-width="3.6"/>
<line x1="919.96" y1="296.12" x2="919.96" y2="288.36" stroke="#ff0000" stroke-width="3"/>
<line x1="912.16" y1="296.12" x2="927.76" y2="296.12" stroke="#ff0000" stroke-width="3.6"/>
<line x1="912.16" y1="288.36" x2="927.76" y2="288.36" stroke="#ff0000" stroke-width="3.6"/>
<line x1="943.81" y1="265.08" x2="943.81" y2="257.31" stroke="#ff0000" stroke-width="3"/>
<line x1="936.01" y1="265.08" x2="951.61" y2="265.08" stroke="#ff0000" stroke-width="3.6"/>
<line x1="936.01" y1="257.31" x2="951.61" y2="257.31" stroke="#ff0000" stroke-width="3.6"/>
<line x1="967.65" y1="248.31" x2="967.65" y2="240.55" stroke="#ff0000" stroke-width="3"/>
<line x1="959.85" y1="248.31" x2="975.45" y2="248.31" stroke="#ff0000" stroke-width="3.6"/>
<line x1="959.85" y1="240.55" x2="975.45" y2="240.55" stroke="#ff0000" stroke-width="3.6"/>
<line x1="991.5" y1="237.91" x2="991.5" y2="230.15" stroke="#ff0000" stroke-width="3"/>
<line x1="983.7" y1="237.91" x2="999.3" y2="237.91" stroke="#ff0000" stroke-width="3.6"/>
<line x1="983.7" y1="230.15" x2="999.3" y2="230.15" stroke="#ff0000" stroke-width="3.6"/>
<line x1="1015.34" y1="214.63" x2="1015.34" y2="205.31" stroke="#ff0000" stroke-width="3"/>
<line x1="1007.54" y1="214.63" x2="1023.14" y2="214.63" stroke="#ff0000" stroke-width="3.6"/>
<line x1="1007.54" y1="205.31" x2="1023.14" y2="205.31" stroke="#ff0000" stroke-width="3.6"/>
<line x1="1039.18" y1="193.67" x2="1039.18" y2="184.36" stroke="#ff0000" stroke-width="3"/>
<line x1="1031.38" y1="193.67" x2="1046.98" y2="193.67" stroke="#ff0000" stroke-width="3.6"/>
<line x1="1031.38" y1="184.36" x2="1046.98" y2="184.36" stroke="#ff0000" stroke-width="3.6"/>
<line x1="1063.03" y1="183.58" x2="1063.03" y2="172.72" stroke="#ff0000" stroke-width="3"/>
<line x1="1055.23" y1="183.58" x2="1070.83" y2="183.58" stroke="#ff0000" stroke-width="3.6"/>
<line x1="1055.23" y1="172.72" x2="1070.83" y2="172.72" stroke="#ff0000" stroke-width="3.6"/>
<line x1="1086.88" y1="210.98" x2="1086.88" y2="181.02" stroke="#ff0000" stroke-width="3"/>
<line x1="1079.08" y1="210.98" x2="1094.67" y2="210.98" stroke="#ff0000" stroke-width="3.6"/>
<line x1="1079.08" y1="181.02" x2="1094.67" y2="181.02" stroke="#ff0000" stroke-width="3.6"/>
<line x1="1110.72" y1="182.03" x2="1110.72" y2="116.84" stroke="#ff0000" stroke-width="3"/>
<line x1="1102.92" y1="182.03" x2="1118.52" y2="182.03" stroke="#ff0000" stroke-width="3.6"/>
<line x1="1102.92" y1="116.84" x2="1118.52" y2="116.84" stroke="#ff0000" stroke-width="3.6"/>
<line x1="1134.57" y1="253.05" x2="1134.57" y2="43.49" stroke="#ff0000" stroke-width="3"/>
<line x1="1126.77" y1="253.05" x2="1142.37" y2="253.05" stroke="#ff0000" stroke-width="3.6"/>
<line x1="1126.77" y1="43.49" x2="1142.37" y2="43.49" stroke="#ff0000" stroke-width="3.6"/>
<polyline points="800.74,610.45 824.58,501.79 848.43,443.74 872.27,365.97 896.12,316.3 919.96,266.63 943.81,241.02 967.65,230.93 991.5,220.06 1015.34,198.33 1039.18,186.69 1063.03,162.86 1086.88,138.18 1110.72,134.69 1134.57,410.21" fill="none" stroke="#0000ff" stroke-width="3" stroke-linejoin="round"/>
<circle cx="800.74" cy="610.45" r="7.4" fill="#0000ff"/>
<circle cx="824.58" cy="501.79" r="7.4" fill="#0000ff"/>
<circle cx="848.43" cy="443.74" r="7.4" fill="#0000ff"/>
<circle cx="872.27" cy="365.97" r="7.4" fill="#0000ff"/>
<circle cx="896.12" cy="316.3" r="7.4" fill="#0000ff"/>
<circle cx="919.96" cy="266.63" r="7.4" fill="#0000ff"/>
<circle cx="943.81" cy="241.02" r="7.4" fill="#0000ff"/>
<circle cx="967.65" cy="230.93" r="7.4" fill="#0000ff"/>
<circle cx="991.5" cy="220.06" r="7.4" fill="#0000ff"/>
<circle cx="1015.34" cy="198.33" r="7.4" fill="#0000ff"/>
<circle cx="1039.18" cy="186.69" r="7.4" fill="#0000ff"/>
<circle cx="1063.03" cy="162.86" r="7.4" fill="#0000ff"/>
<circle cx="1086.88" cy="138.18" r="7.4" fill="#0000ff"/>
<circle cx="1110.72" cy="134.69" r="7.4" fill="#0000ff"/>
<circle cx="1134.57" cy="410.21" r="7.4" fill="#0000ff"/>
<polyline points="824.58,538.27 848.43,484.72 872.27,402.45 896.12,356.66 919.96,302.33 943.81,270.51 967.65,251.88 991.5,239.46 1015.34,213.85 1039.18,204.93 1063.03,189.02 1086.88,193.67 1110.72,147.88 1134.57,174.27 1158.41,136.24" fill="none" stroke="#ff0000" stroke-width="3" stroke-linejoin="round"/>
<rect x="818.98" y="532.67" width="11.2" height="11.2" fill="#ff0000" stroke="#ff0000" stroke-width="3.6"/>
<rect x="842.83" y="479.12" width="11.2" height="11.2" fill="#ff0000" stroke="#ff0000" stroke-width="3.6"/>
<rect x="866.67" y="396.85" width="11.2" height="11.2" fill="#ff0000" stroke="#ff0000" stroke-width="3.6"/>
<rect x="890.51" y="351.06" width="11.2" height="11.2" fill="#ff0000" stroke="#ff0000" stroke-width="3.6"/>
<rect x="914.36" y="296.73" width="11.2" height="11.2" fill="#ff0000" stroke="#ff0000" stroke-width="3.6"/>
<rect x="938.21" y="264.91" width="11.2" height="11.2" fill="#ff0000" stroke="#ff0000" stroke-width="3.6"/>
<rect x="962.05" y="246.28" width="11.2" height="11.2" fill="#ff0000" stroke="#ff0000" stroke-width="3.6"/>
<rect x="985.9" y="233.86" width="11.2" height="11.2" fill="#ff0000" stroke="#ff0000" stroke-width="3.6"/>
<rect x="1009.74" y="208.25" width="11.2" height="11.2" fill="#ff0000" stroke="#ff0000" stroke-width="3.6"/>
<rect x="1033.59" y="199.33" width="11.2" height="11.2" fill="#ff0000" stroke="#ff0000" stroke-width="3.6"/>
<rect x="1057.43" y="183.42" width="11.2" height="11.2" fill="#ff0000" stroke="#ff0000" stroke-width="3.6"/>
<rect x="1081.28" y="188.07" width="11.2" height="11.2" fill="#ff0000" stroke="#ff0000" stroke-width="3.6"/>
<rect x="1105.12" y="142.28" width="11.2" height="11.2" fill="#ff0000" stroke="#ff0000" stroke-width="3.6"/>
<rect x="1128.97" y="168.67" width="11.2" height="11.2" fill="#ff0000" stroke="#ff0000" stroke-width="3.6"/>
<rect x="1152.81" y="130.64" width="11.2" height="11.2" fill="#ff0000" stroke="#ff0000" stroke-width="3.6"/>
<polyline points="824.58,504.59 848.43,447.15 872.27,370.63 896.12,320.65 919.96,269.19 943.81,244.12 967.65,225.88 991.5,217.73 1015.34,194.45 1039.18,182.81 1063.03,154.87 1086.88,52.42 1110.72,131.58 1134.57,107.52 1158.41,14.39" fill="none" stroke="#0000ff" stroke-width="3" stroke-dasharray="3 4.95" stroke-linejoin="round"/>
<circle cx="824.58" cy="504.59" r="5.6" fill="#ffffff" stroke="#0000ff" stroke-width="3.6"/>
<circle cx="848.43" cy="447.15" r="5.6" fill="#ffffff" stroke="#0000ff" stroke-width="3.6"/>
<circle cx="872.27" cy="370.63" r="5.6" fill="#ffffff" stroke="#0000ff" stroke-width="3.6"/>
<circle cx="896.12" cy="320.65" r="5.6" fill="#ffffff" stroke="#0000ff" stroke-width="3.6"/>
<circle cx="919.96" cy="269.19" r="5.6" fill="#ffffff" stroke="#0000ff" stroke-width="3.6"/>
<circle cx="943.81" cy="244.12" r="5.6" fill="#ffffff" stroke="#0000ff" stroke-width="3.6"/>
<circle cx="967.65" cy="225.88" r="5.6" fill="#ffffff" stroke="#0000ff" stroke-width="3.6"/>
<circle cx="991.5" cy="217.73" r="5.6" fill="#ffffff" stroke="#0000ff" stroke-width="3.6"/>
<circle cx="1015.34" cy="194.45" r="5.6" fill="#ffffff" stroke="#0000ff" stroke-width="3.6"/>
<circle cx="1039.18" cy="182.81" r="5.6" fill="#ffffff" stroke="#0000ff" stroke-width="3.6"/>
<circle cx="1063.03" cy="154.87" r="5.6" fill="#ffffff" stroke="#0000ff" stroke-width="3.6"/>
<circle cx="1086.88" cy="52.42" r="5.6" fill="#ffffff" stroke="#0000ff" stroke-width="3.6"/>
<circle cx="1110.72" cy="131.58" r="5.6" fill="#ffffff" stroke="#0000ff" stroke-width="3.6"/>
<circle cx="1134.57" cy="107.52" r="5.6" fill="#ffffff" stroke="#0000ff" stroke-width="3.6"/>
<circle cx="1158.41" cy="14.39" r="5.6" fill="#ffffff" stroke="#0000ff" stroke-width="3.6"/>
<polyline points="824.58,539.82 848.43,479.44 872.27,400.9 896.12,352.78 919.96,292.24 943.81,261.19 967.65,244.43 991.5,234.03 1015.34,209.97 1039.18,189.02 1063.03,178.15 1086.88,196 1110.72,149.43 1134.57,148.27" fill="none" stroke="#ff0000" stroke-width="3" stroke-dasharray="3 4.95" stroke-linejoin="round"/>
<rect x="818.98" y="534.22" width="11.2" height="11.2" fill="#ffffff" stroke="#ff0000" stroke-width="3.6"/>
<rect x="842.83" y="473.84" width="11.2" height="11.2" fill="#ffffff" stroke="#ff0000" stroke-width="3.6"/>
<rect x="866.67" y="395.3" width="11.2" height="11.2" fill="#ffffff" stroke="#ff0000" stroke-width="3.6"/>
<rect x="890.51" y="347.18" width="11.2" height="11.2" fill="#ffffff" stroke="#ff0000" stroke-width="3.6"/>
<rect x="914.36" y="286.64" width="11.2" height="11.2" fill="#ffffff" stroke="#ff0000" stroke-width="3.6"/>
<rect x="938.21" y="255.59" width="11.2" height="11.2" fill="#ffffff" stroke="#ff0000" stroke-width="3.6"/>
<rect x="962.05" y="238.83" width="11.2" height="11.2" fill="#ffffff" stroke="#ff0000" stroke-width="3.6"/>
<rect x="985.9" y="228.43" width="11.2" height="11.2" fill="#ffffff" stroke="#ff0000" stroke-width="3.6"/>
<rect x="1009.74" y="204.37" width="11.2" height="11.2" fill="#ffffff" stroke="#ff0000" stroke-width="3.6"/>
<rect x="1033.59" y="183.42" width="11.2" height="11.2" fill="#ffffff" stroke="#ff0000" stroke-width="3.6"/>
<rect x="1057.43" y="172.55" width="11.2" height="11.2" fill="#ffffff" stroke="#ff0000" stroke-width="3.6"/>
<rect x="1081.28" y="190.4" width="11.2" height="11.2" fill="#ffffff" stroke="#ff0000" stroke-width="3.6"/>
<rect x="1105.12" y="143.83" width="11.2" height="11.2" fill="#ffffff" stroke="#ff0000" stroke-width="3.6"/>
<rect x="1128.97" y="142.67" width="11.2" height="11.2" fill="#ffffff" stroke="#ff0000" stroke-width="3.6"/>
</g>
<rect x="736" y="14.8" width="353.5" height="93.4" fill="#ffffff"/>
<text x="740.2" y="49.5" font-size="43.5">b) 1<tspan font-style="italic" font-size="30.5" dy="-15">st</tspan><tspan dy="15" dx="2"> Hyd. Shell</tspan></text>
<text x="770.9" y="98.9" font-size="43.9">(Static Hydration)</text>
<rect x="729.2" y="4.3" width="476.9" height="659.7" fill="none" stroke="#000" stroke-width="2.7" stroke-linejoin="miter"/>
<line x1="715.2" y1="664" x2="729.2" y2="664" stroke="#000" stroke-width="2.7"/>
<text x="699.7" y="676.42" font-size="35.2" text-anchor="end">0.2</text>
<line x1="715.2" y1="586.39" x2="729.2" y2="586.39" stroke="#000" stroke-width="2.7"/>
<text x="699.7" y="598.8" font-size="35.2" text-anchor="end">0.3</text>
<line x1="715.2" y1="508.78" x2="729.2" y2="508.78" stroke="#000" stroke-width="2.7"/>
<text x="699.7" y="521.19" font-size="35.2" text-anchor="end">0.4</text>
<line x1="715.2" y1="431.16" x2="729.2" y2="431.16" stroke="#000" stroke-width="2.7"/>
<text x="699.7" y="443.58" font-size="35.2" text-anchor="end">0.5</text>
<line x1="715.2" y1="353.55" x2="729.2" y2="353.55" stroke="#000" stroke-width="2.7"/>
<text x="699.7" y="365.97" font-size="35.2" text-anchor="end">0.6</text>
<line x1="715.2" y1="275.94" x2="729.2" y2="275.94" stroke="#000" stroke-width="2.7"/>
<text x="699.7" y="288.36" font-size="35.2" text-anchor="end">0.7</text>
<line x1="715.2" y1="198.33" x2="729.2" y2="198.33" stroke="#000" stroke-width="2.7"/>
<text x="699.7" y="210.75" font-size="35.2" text-anchor="end">0.8</text>
<line x1="715.2" y1="120.72" x2="729.2" y2="120.72" stroke="#000" stroke-width="2.7"/>
<text x="699.7" y="133.13" font-size="35.2" text-anchor="end">0.9</text>
<line x1="715.2" y1="43.11" x2="729.2" y2="43.11" stroke="#000" stroke-width="2.7"/>
<text x="699.7" y="55.52" font-size="35.2" text-anchor="end">1.0</text>
<line x1="729.2" y1="664" x2="729.2" y2="678" stroke="#000" stroke-width="2.7"/>
<line x1="848.43" y1="664" x2="848.43" y2="678" stroke="#000" stroke-width="2.7"/>
<line x1="967.65" y1="664" x2="967.65" y2="678" stroke="#000" stroke-width="2.7"/>
<line x1="1086.88" y1="664" x2="1086.88" y2="678" stroke="#000" stroke-width="2.7"/>
<line x1="1206.1" y1="664" x2="1206.1" y2="678" stroke="#000" stroke-width="2.7"/>
<clipPath id="c4"><rect x="1316.8" y="4.3" width="476.9" height="659.7"/></clipPath>
<g clip-path="url(#c4)">
<rect x="1398.86" y="4.3" width="169.71" height="659.7" fill="#fff7cc"/>
<rect x="1400.26" y="4.3" width="1.5" height="659.7" fill="#fff1a3"/>
<rect x="1565.67" y="4.3" width="1.5" height="659.7" fill="#fff1a3"/>
<rect x="1442.94" y="4.3" width="23.13" height="659.7" fill="#cdc4bf"/>
<rect x="1441.44" y="4.3" width="3" height="659.7" fill="#a7a2b6"/>
<rect x="1464.57" y="4.3" width="3" height="659.7" fill="#a7a2b6"/>
<line x1="1412.18" y1="345.02" x2="1412.18" y2="292.24" stroke="#0000ff" stroke-width="3"/>
<line x1="1404.38" y1="345.02" x2="1419.98" y2="345.02" stroke="#0000ff" stroke-width="3.6"/>
<line x1="1404.38" y1="292.24" x2="1419.98" y2="292.24" stroke="#0000ff" stroke-width="3.6"/>
<line x1="1436.02" y1="317.08" x2="1436.02" y2="292.24" stroke="#0000ff" stroke-width="3"/>
<line x1="1428.22" y1="317.08" x2="1443.82" y2="317.08" stroke="#0000ff" stroke-width="3.6"/>
<line x1="1428.22" y1="292.24" x2="1443.82" y2="292.24" stroke="#0000ff" stroke-width="3.6"/>
<line x1="1459.87" y1="224.41" x2="1459.87" y2="215.09" stroke="#0000ff" stroke-width="3"/>
<line x1="1452.07" y1="224.41" x2="1467.67" y2="224.41" stroke="#0000ff" stroke-width="3.6"/>
<line x1="1452.07" y1="215.09" x2="1467.67" y2="215.09" stroke="#0000ff" stroke-width="3.6"/>
<line x1="1483.71" y1="175.82" x2="1483.71" y2="166.51" stroke="#0000ff" stroke-width="3"/>
<line x1="1475.91" y1="175.82" x2="1491.51" y2="175.82" stroke="#0000ff" stroke-width="3.6"/>
<line x1="1475.91" y1="166.51" x2="1491.51" y2="166.51" stroke="#0000ff" stroke-width="3.6"/>
<line x1="1507.56" y1="155.64" x2="1507.56" y2="144.78" stroke="#0000ff" stroke-width="3"/>
<line x1="1499.76" y1="155.64" x2="1515.36" y2="155.64" stroke="#0000ff" stroke-width="3.6"/>
<line x1="1499.76" y1="144.78" x2="1515.36" y2="144.78" stroke="#0000ff" stroke-width="3.6"/>
<line x1="1531.4" y1="154.09" x2="1531.4" y2="143.23" stroke="#0000ff" stroke-width="3"/>
<line x1="1523.61" y1="154.09" x2="1539.2" y2="154.09" stroke="#0000ff" stroke-width="3.6"/>
<line x1="1523.61" y1="143.23" x2="1539.2" y2="143.23" stroke="#0000ff" stroke-width="3.6"/>
<line x1="1555.25" y1="144.16" x2="1555.25" y2="131.74" stroke="#0000ff" stroke-width="3"/>
<line x1="1547.45" y1="144.16" x2="1563.05" y2="144.16" stroke="#0000ff" stroke-width="3.6"/>
<line x1="1547.45" y1="131.74" x2="1563.05" y2="131.74" stroke="#0000ff" stroke-width="3.6"/>
<line x1="1579.1" y1="134.69" x2="1579.1" y2="122.27" stroke="#0000ff" stroke-width="3"/>
<line x1="1571.3" y1="134.69" x2="1586.89" y2="134.69" stroke="#0000ff" stroke-width="3.6"/>
<line x1="1571.3" y1="122.27" x2="1586.89" y2="122.27" stroke="#0000ff" stroke-width="3.6"/>
<line x1="1602.94" y1="119.17" x2="1602.94" y2="106.75" stroke="#0000ff" stroke-width="3"/>
<line x1="1595.14" y1="119.17" x2="1610.74" y2="119.17" stroke="#0000ff" stroke-width="3.6"/>
<line x1="1595.14" y1="106.75" x2="1610.74" y2="106.75" stroke="#0000ff" stroke-width="3.6"/>
<line x1="1626.78" y1="94.8" x2="1626.78" y2="82.38" stroke="#0000ff" stroke-width="3"/>
<line x1="1618.98" y1="94.8" x2="1634.58" y2="94.8" stroke="#0000ff" stroke-width="3.6"/>
<line x1="1618.98" y1="82.38" x2="1634.58" y2="82.38" stroke="#0000ff" stroke-width="3.6"/>
<line x1="1650.63" y1="87.58" x2="1650.63" y2="73.61" stroke="#0000ff" stroke-width="3"/>
<line x1="1642.83" y1="87.58" x2="1658.43" y2="87.58" stroke="#0000ff" stroke-width="3.6"/>
<line x1="1642.83" y1="73.61" x2="1658.43" y2="73.61" stroke="#0000ff" stroke-width="3.6"/>
<line x1="1674.47" y1="64.06" x2="1674.47" y2="48.54" stroke="#0000ff" stroke-width="3"/>
<line x1="1666.67" y1="64.06" x2="1682.27" y2="64.06" stroke="#0000ff" stroke-width="3.6"/>
<line x1="1666.67" y1="48.54" x2="1682.27" y2="48.54" stroke="#0000ff" stroke-width="3.6"/>
<line x1="1698.32" y1="128.48" x2="1698.32" y2="24.48" stroke="#0000ff" stroke-width="3"/>
<line x1="1690.52" y1="128.48" x2="1706.12" y2="128.48" stroke="#0000ff" stroke-width="3.6"/>
<line x1="1690.52" y1="24.48" x2="1706.12" y2="24.48" stroke="#0000ff" stroke-width="3.6"/>
<line x1="1722.16" y1="306.44" x2="1722.16" y2="36.35" stroke="#0000ff" stroke-width="3"/>
<line x1="1714.37" y1="306.44" x2="1729.96" y2="306.44" stroke="#0000ff" stroke-width="3.6"/>
<line x1="1714.37" y1="36.35" x2="1729.96" y2="36.35" stroke="#0000ff" stroke-width="3.6"/>
<line x1="1412.18" y1="322.12" x2="1412.18" y2="295.73" stroke="#ff0000" stroke-width="3"/>
<line x1="1404.38" y1="322.12" x2="1419.98" y2="322.12" stroke="#ff0000" stroke-width="3.6"/>
<line x1="1404.38" y1="295.73" x2="1419.98" y2="295.73" stroke="#ff0000" stroke-width="3.6"/>
<line x1="1436.02" y1="314.75" x2="1436.02" y2="299.22" stroke="#ff0000" stroke-width="3"/>
<line x1="1428.22" y1="314.75" x2="1443.82" y2="314.75" stroke="#ff0000" stroke-width="3.6"/>
<line x1="1428.22" y1="299.22" x2="1443.82" y2="299.22" stroke="#ff0000" stroke-width="3.6"/>
<line x1="1459.87" y1="230.15" x2="1459.87" y2="220.84" stroke="#ff0000" stroke-width="3"/>
<line x1="1452.07" y1="230.15" x2="1467.67" y2="230.15" stroke="#ff0000" stroke-width="3.6"/>
<line x1="1452.07" y1="220.84" x2="1467.67" y2="220.84" stroke="#ff0000" stroke-width="3.6"/>
<line x1="1483.71" y1="195.22" x2="1483.71" y2="185.91" stroke="#ff0000" stroke-width="3"/>
<line x1="1475.91" y1="195.22" x2="1491.51" y2="195.22" stroke="#ff0000" stroke-width="3.6"/>
<line x1="1475.91" y1="185.91" x2="1491.51" y2="185.91" stroke="#ff0000" stroke-width="3.6"/>
<line x1="1507.56" y1="171.94" x2="1507.56" y2="162.63" stroke="#ff0000" stroke-width="3"/>
<line x1="1499.76" y1="171.94" x2="1515.36" y2="171.94" stroke="#ff0000" stroke-width="3.6"/>
<line x1="1499.76" y1="162.63" x2="1515.36" y2="162.63" stroke="#ff0000" stroke-width="3.6"/>
<line x1="1531.4" y1="170.54" x2="1531.4" y2="161.23" stroke="#ff0000" stroke-width="3"/>
<line x1="1523.61" y1="170.54" x2="1539.2" y2="170.54" stroke="#ff0000" stroke-width="3.6"/>
<line x1="1523.61" y1="161.23" x2="1539.2" y2="161.23" stroke="#ff0000" stroke-width="3.6"/>
<line x1="1555.25" y1="161.23" x2="1555.25" y2="151.92" stroke="#ff0000" stroke-width="3"/>
<line x1="1547.45" y1="161.23" x2="1563.05" y2="161.23" stroke="#ff0000" stroke-width="3.6"/>
<line x1="1547.45" y1="151.92" x2="1563.05" y2="151.92" stroke="#ff0000" stroke-width="3.6"/>
<line x1="1579.1" y1="153.31" x2="1579.1" y2="144" stroke="#ff0000" stroke-width="3"/>
<line x1="1571.3" y1="153.31" x2="1586.89" y2="153.31" stroke="#ff0000" stroke-width="3.6"/>
<line x1="1571.3" y1="144" x2="1586.89" y2="144" stroke="#ff0000" stroke-width="3.6"/>
<line x1="1602.94" y1="132.67" x2="1602.94" y2="121.8" stroke="#ff0000" stroke-width="3"/>
<line x1="1595.14" y1="132.67" x2="1610.74" y2="132.67" stroke="#ff0000" stroke-width="3.6"/>
<line x1="1595.14" y1="121.8" x2="1610.74" y2="121.8" stroke="#ff0000" stroke-width="3.6"/>
<line x1="1626.78" y1="109.46" x2="1626.78" y2="97.05" stroke="#ff0000" stroke-width="3"/>
<line x1="1618.98" y1="109.46" x2="1634.58" y2="109.46" stroke="#ff0000" stroke-width="3.6"/>
<line x1="1618.98" y1="97.05" x2="1634.58" y2="97.05" stroke="#ff0000" stroke-width="3.6"/>
<line x1="1650.63" y1="100.15" x2="1650.63" y2="87.73" stroke="#ff0000" stroke-width="3"/>
<line x1="1642.83" y1="100.15" x2="1658.43" y2="100.15" stroke="#ff0000" stroke-width="3.6"/>
<line x1="1642.83" y1="87.73" x2="1658.43" y2="87.73" stroke="#ff0000" stroke-width="3.6"/>
<line x1="1674.47" y1="97.43" x2="1674.47" y2="81.91" stroke="#ff0000" stroke-width="3"/>
<line x1="1666.67" y1="97.43" x2="1682.27" y2="97.43" stroke="#ff0000" stroke-width="3.6"/>
<line x1="1666.67" y1="81.91" x2="1682.27" y2="81.91" stroke="#ff0000" stroke-width="3.6"/>
<line x1="1698.32" y1="85.79" x2="1698.32" y2="42.33" stroke="#ff0000" stroke-width="3"/>
<line x1="1690.52" y1="85.79" x2="1706.12" y2="85.79" stroke="#ff0000" stroke-width="3.6"/>
<line x1="1690.52" y1="42.33" x2="1706.12" y2="42.33" stroke="#ff0000" stroke-width="3.6"/>
<line x1="1722.16" y1="63.28" x2="1722.16" y2="4.3" stroke="#ff0000" stroke-width="3"/>
<line x1="1714.37" y1="63.28" x2="1729.96" y2="63.28" stroke="#ff0000" stroke-width="3.6"/>
<line x1="1714.37" y1="4.3" x2="1729.96" y2="4.3" stroke="#ff0000" stroke-width="3.6"/>
<line x1="1746.01" y1="88.9" x2="1746.01" y2="-8.89" stroke="#ff0000" stroke-width="3"/>
<line x1="1738.21" y1="88.9" x2="1753.81" y2="88.9" stroke="#ff0000" stroke-width="3.6"/>
<line x1="1738.21" y1="-8.89" x2="1753.81" y2="-8.89" stroke="#ff0000" stroke-width="3.6"/>
<line x1="1412.18" y1="326.39" x2="1412.18" y2="300" stroke="#0000ff" stroke-width="3"/>
<line x1="1404.38" y1="326.39" x2="1419.98" y2="326.39" stroke="#0000ff" stroke-width="3.6"/>
<line x1="1404.38" y1="300" x2="1419.98" y2="300" stroke="#0000ff" stroke-width="3.6"/>
<line x1="1436.02" y1="317.85" x2="1436.02" y2="293.02" stroke="#0000ff" stroke-width="3"/>
<line x1="1428.22" y1="317.85" x2="1443.82" y2="317.85" stroke="#0000ff" stroke-width="3.6"/>
<line x1="1428.22" y1="293.02" x2="1443.82" y2="293.02" stroke="#0000ff" stroke-width="3.6"/>
<line x1="1459.87" y1="237.6" x2="1459.87" y2="228.29" stroke="#0000ff" stroke-width="3"/>
<line x1="1452.07" y1="237.6" x2="1467.67" y2="237.6" stroke="#0000ff" stroke-width="3.6"/>
<line x1="1452.07" y1="228.29" x2="1467.67" y2="228.29" stroke="#0000ff" stroke-width="3.6"/>
<line x1="1483.71" y1="183.27" x2="1483.71" y2="173.96" stroke="#0000ff" stroke-width="3"/>
<line x1="1475.91" y1="183.27" x2="1491.51" y2="183.27" stroke="#0000ff" stroke-width="3.6"/>
<line x1="1475.91" y1="173.96" x2="1491.51" y2="173.96" stroke="#0000ff" stroke-width="3.6"/>
<line x1="1507.56" y1="165.73" x2="1507.56" y2="139.34" stroke="#0000ff" stroke-width="3"/>
<line x1="1499.76" y1="165.73" x2="1515.36" y2="165.73" stroke="#0000ff" stroke-width="3.6"/>
<line x1="1499.76" y1="139.34" x2="1515.36" y2="139.34" stroke="#0000ff" stroke-width="3.6"/>
<line x1="1531.4" y1="147.34" x2="1531.4" y2="136.47" stroke="#0000ff" stroke-width="3"/>
<line x1="1523.61" y1="147.34" x2="1539.2" y2="147.34" stroke="#0000ff" stroke-width="3.6"/>
<line x1="1523.61" y1="136.47" x2="1539.2" y2="136.47" stroke="#0000ff" stroke-width="3.6"/>
<line x1="1555.25" y1="143.23" x2="1555.25" y2="127.24" stroke="#0000ff" stroke-width="3"/>
<line x1="1547.45" y1="143.23" x2="1563.05" y2="143.23" stroke="#0000ff" stroke-width="3.6"/>
<line x1="1547.45" y1="127.24" x2="1563.05" y2="127.24" stroke="#0000ff" stroke-width="3.6"/>
<line x1="1579.1" y1="127.94" x2="1579.1" y2="118.62" stroke="#0000ff" stroke-width="3"/>
<line x1="1571.3" y1="127.94" x2="1586.89" y2="127.94" stroke="#0000ff" stroke-width="3.6"/>
<line x1="1571.3" y1="118.62" x2="1586.89" y2="118.62" stroke="#0000ff" stroke-width="3.6"/>
<line x1="1602.94" y1="111.25" x2="1602.94" y2="101.94" stroke="#0000ff" stroke-width="3"/>
<line x1="1595.14" y1="111.25" x2="1610.74" y2="111.25" stroke="#0000ff" stroke-width="3.6"/>
<line x1="1595.14" y1="101.94" x2="1610.74" y2="101.94" stroke="#0000ff" stroke-width="3.6"/>
<line x1="1626.78" y1="87.34" x2="1626.78" y2="78.03" stroke="#0000ff" stroke-width="3"/>
<line x1="1618.98" y1="87.34" x2="1634.58" y2="87.34" stroke="#0000ff" stroke-width="3.6"/>
<line x1="1618.98" y1="78.03" x2="1634.58" y2="78.03" stroke="#0000ff" stroke-width="3.6"/>
<line x1="1650.63" y1="72.6" x2="1650.63" y2="63.28" stroke="#0000ff" stroke-width="3"/>
<line x1="1642.83" y1="72.6" x2="1658.43" y2="72.6" stroke="#0000ff" stroke-width="3.6"/>
<line x1="1642.83" y1="63.28" x2="1658.43" y2="63.28" stroke="#0000ff" stroke-width="3.6"/>
<line x1="1674.47" y1="77.41" x2="1674.47" y2="64.99" stroke="#0000ff" stroke-width="3"/>
<line x1="1666.67" y1="77.41" x2="1682.27" y2="77.41" stroke="#0000ff" stroke-width="3.6"/>
<line x1="1666.67" y1="64.99" x2="1682.27" y2="64.99" stroke="#0000ff" stroke-width="3.6"/>
<line x1="1698.32" y1="21.37" x2="1698.32" y2="-6.57" stroke="#0000ff" stroke-width="3"/>
<line x1="1690.52" y1="21.37" x2="1706.12" y2="21.37" stroke="#0000ff" stroke-width="3.6"/>
<line x1="1690.52" y1="-6.57" x2="1706.12" y2="-6.57" stroke="#0000ff" stroke-width="3.6"/>
<line x1="1722.16" y1="73.92" x2="1722.16" y2="67.71" stroke="#0000ff" stroke-width="3"/>
<line x1="1714.37" y1="73.92" x2="1729.96" y2="73.92" stroke="#0000ff" stroke-width="3.6"/>
<line x1="1714.37" y1="67.71" x2="1729.96" y2="67.71" stroke="#0000ff" stroke-width="3.6"/>
<line x1="1746.01" y1="200.66" x2="1746.01" y2="196" stroke="#0000ff" stroke-width="3"/>
<line x1="1738.21" y1="200.66" x2="1753.81" y2="200.66" stroke="#0000ff" stroke-width="3.6"/>
<line x1="1738.21" y1="196" x2="1753.81" y2="196" stroke="#0000ff" stroke-width="3.6"/>
<line x1="1769.86" y1="-267.34" x2="1769.86" y2="-577.79" stroke="#0000ff" stroke-width="3"/>
<line x1="1762.06" y1="-267.34" x2="1777.65" y2="-267.34" stroke="#0000ff" stroke-width="3.6"/>
<line x1="1762.06" y1="-577.79" x2="1777.65" y2="-577.79" stroke="#0000ff" stroke-width="3.6"/>
<line x1="1412.18" y1="319.09" x2="1412.18" y2="309.78" stroke="#ff0000" stroke-width="3"/>
<line x1="1404.38" y1="319.09" x2="1419.98" y2="319.09" stroke="#ff0000" stroke-width="3.6"/>
<line x1="1404.38" y1="309.78" x2="1419.98" y2="309.78" stroke="#ff0000" stroke-width="3.6"/>
<line x1="1436.02" y1="315.52" x2="1436.02" y2="300" stroke="#ff0000" stroke-width="3"/>
<line x1="1428.22" y1="315.52" x2="1443.82" y2="315.52" stroke="#ff0000" stroke-width="3.6"/>
<line x1="1428.22" y1="300" x2="1443.82" y2="300" stroke="#ff0000" stroke-width="3.6"/>
<line x1="1459.87" y1="250.87" x2="1459.87" y2="241.56" stroke="#ff0000" stroke-width="3"/>
<line x1="1452.07" y1="250.87" x2="1467.67" y2="250.87" stroke="#ff0000" stroke-width="3.6"/>
<line x1="1452.07" y1="241.56" x2="1467.67" y2="241.56" stroke="#ff0000" stroke-width="3.6"/>
<line x1="1483.71" y1="199.88" x2="1483.71" y2="190.57" stroke="#ff0000" stroke-width="3"/>
<line x1="1475.91" y1="199.88" x2="1491.51" y2="199.88" stroke="#ff0000" stroke-width="3.6"/>
<line x1="1475.91" y1="190.57" x2="1491.51" y2="190.57" stroke="#ff0000" stroke-width="3.6"/>
<line x1="1507.56" y1="175.82" x2="1507.56" y2="166.51" stroke="#ff0000" stroke-width="3"/>
<line x1="1499.76" y1="175.82" x2="1515.36" y2="175.82" stroke="#ff0000" stroke-width="3.6"/>
<line x1="1499.76" y1="166.51" x2="1515.36" y2="166.51" stroke="#ff0000" stroke-width="3.6"/>
<line x1="1531.4" y1="165.73" x2="1531.4" y2="156.42" stroke="#ff0000" stroke-width="3"/>
<line x1="1523.61" y1="165.73" x2="1539.2" y2="165.73" stroke="#ff0000" stroke-width="3.6"/>
<line x1="1523.61" y1="156.42" x2="1539.2" y2="156.42" stroke="#ff0000" stroke-width="3.6"/>
<line x1="1555.25" y1="155.25" x2="1555.25" y2="145.94" stroke="#ff0000" stroke-width="3"/>
<line x1="1547.45" y1="155.25" x2="1563.05" y2="155.25" stroke="#ff0000" stroke-width="3.6"/>
<line x1="1547.45" y1="145.94" x2="1563.05" y2="145.94" stroke="#ff0000" stroke-width="3.6"/>
<line x1="1579.1" y1="143.23" x2="1579.1" y2="133.91" stroke="#ff0000" stroke-width="3"/>
<line x1="1571.3" y1="143.23" x2="1586.89" y2="143.23" stroke="#ff0000" stroke-width="3.6"/>
<line x1="1571.3" y1="133.91" x2="1586.89" y2="133.91" stroke="#ff0000" stroke-width="3.6"/>
<line x1="1602.94" y1="125.92" x2="1602.94" y2="116.6" stroke="#ff0000" stroke-width="3"/>
<line x1="1595.14" y1="125.92" x2="1610.74" y2="125.92" stroke="#ff0000" stroke-width="3.6"/>
<line x1="1595.14" y1="116.6" x2="1610.74" y2="116.6" stroke="#ff0000" stroke-width="3.6"/>
<line x1="1626.78" y1="100" x2="1626.78" y2="89.13" stroke="#ff0000" stroke-width="3"/>
<line x1="1618.98" y1="100" x2="1634.58" y2="100" stroke="#ff0000" stroke-width="3.6"/>
<line x1="1618.98" y1="89.13" x2="1634.58" y2="89.13" stroke="#ff0000" stroke-width="3.6"/>
<line x1="1650.63" y1="95.49" x2="1650.63" y2="83.08" stroke="#ff0000" stroke-width="3"/>
<line x1="1642.83" y1="95.49" x2="1658.43" y2="95.49" stroke="#ff0000" stroke-width="3.6"/>
<line x1="1642.83" y1="83.08" x2="1658.43" y2="83.08" stroke="#ff0000" stroke-width="3.6"/>
<line x1="1674.47" y1="99.37" x2="1674.47" y2="73.76" stroke="#ff0000" stroke-width="3"/>
<line x1="1666.67" y1="99.37" x2="1682.27" y2="99.37" stroke="#ff0000" stroke-width="3.6"/>
<line x1="1666.67" y1="73.76" x2="1682.27" y2="73.76" stroke="#ff0000" stroke-width="3.6"/>
<line x1="1698.32" y1="102.87" x2="1698.32" y2="33.02" stroke="#ff0000" stroke-width="3"/>
<line x1="1690.52" y1="102.87" x2="1706.12" y2="102.87" stroke="#ff0000" stroke-width="3.6"/>
<line x1="1690.52" y1="33.02" x2="1706.12" y2="33.02" stroke="#ff0000" stroke-width="3.6"/>
<line x1="1722.16" y1="116.99" x2="1722.16" y2="-53.75" stroke="#ff0000" stroke-width="3"/>
<line x1="1714.37" y1="116.99" x2="1729.96" y2="116.99" stroke="#ff0000" stroke-width="3.6"/>
<line x1="1714.37" y1="-53.75" x2="1729.96" y2="-53.75" stroke="#ff0000" stroke-width="3.6"/>
<line x1="1746.01" y1="122.66" x2="1746.01" y2="-238.24" stroke="#ff0000" stroke-width="3"/>
<line x1="1738.21" y1="122.66" x2="1753.81" y2="122.66" stroke="#ff0000" stroke-width="3.6"/>
<line x1="1738.21" y1="-238.24" x2="1753.81" y2="-238.24" stroke="#ff0000" stroke-width="3.6"/>
<polyline points="1412.18,318.63 1436.02,304.66 1459.87,219.75 1483.71,171.17 1507.56,150.21 1531.4,148.66 1555.25,137.95 1579.1,128.48 1602.94,112.96 1626.78,88.59 1650.63,80.59 1674.47,56.3 1698.32,76.48 1722.16,174.5" fill="none" stroke="#0000ff" stroke-width="3" stroke-linejoin="round"/>
<circle cx="1412.18" cy="318.63" r="7.4" fill="#0000ff"/>
<circle cx="1436.02" cy="304.66" r="7.4" fill="#0000ff"/>
<circle cx="1459.87" cy="219.75" r="7.4" fill="#0000ff"/>
<circle cx="1483.71" cy="171.17" r="7.4" fill="#0000ff"/>
<circle cx="1507.56" cy="150.21" r="7.4" fill="#0000ff"/>
<circle cx="1531.4" cy="148.66" r="7.4" fill="#0000ff"/>
<circle cx="1555.25" cy="137.95" r="7.4" fill="#0000ff"/>
<circle cx="1579.1" cy="128.48" r="7.4" fill="#0000ff"/>
<circle cx="1602.94" cy="112.96" r="7.4" fill="#0000ff"/>
<circle cx="1626.78" cy="88.59" r="7.4" fill="#0000ff"/>
<circle cx="1650.63" cy="80.59" r="7.4" fill="#0000ff"/>
<circle cx="1674.47" cy="56.3" r="7.4" fill="#0000ff"/>
<circle cx="1698.32" cy="76.48" r="7.4" fill="#0000ff"/>
<circle cx="1722.16" cy="174.5" r="7.4" fill="#0000ff"/>
<polyline points="1412.18,308.93 1436.02,306.99 1459.87,225.49 1483.71,190.57 1507.56,167.28 1531.4,165.89 1555.25,156.57 1579.1,148.66 1602.94,127.24 1626.78,103.25 1650.63,93.94 1674.47,89.67 1698.32,64.06 1722.16,33.79 1746.01,40" fill="none" stroke="#ff0000" stroke-width="3" stroke-linejoin="round"/>
<rect x="1406.58" y="303.33" width="11.2" height="11.2" fill="#ff0000" stroke="#ff0000" stroke-width="3.6"/>
<rect x="1430.42" y="301.39" width="11.2" height="11.2" fill="#ff0000" stroke="#ff0000" stroke-width="3.6"/>
<rect x="1454.27" y="219.89" width="11.2" height="11.2" fill="#ff0000" stroke="#ff0000" stroke-width="3.6"/>
<rect x="1478.12" y="184.97" width="11.2" height="11.2" fill="#ff0000" stroke="#ff0000" stroke-width="3.6"/>
<rect x="1501.96" y="161.68" width="11.2" height="11.2" fill="#ff0000" stroke="#ff0000" stroke-width="3.6"/>
<rect x="1525.81" y="160.29" width="11.2" height="11.2" fill="#ff0000" stroke="#ff0000" stroke-width="3.6"/>
<rect x="1549.65" y="150.97" width="11.2" height="11.2" fill="#ff0000" stroke="#ff0000" stroke-width="3.6"/>
<rect x="1573.5" y="143.06" width="11.2" height="11.2" fill="#ff0000" stroke="#ff0000" stroke-width="3.6"/>
<rect x="1597.34" y="121.64" width="11.2" height="11.2" fill="#ff0000" stroke="#ff0000" stroke-width="3.6"/>
<rect x="1621.18" y="97.66" width="11.2" height="11.2" fill="#ff0000" stroke="#ff0000" stroke-width="3.6"/>
<rect x="1645.03" y="88.34" width="11.2" height="11.2" fill="#ff0000" stroke="#ff0000" stroke-width="3.6"/>
<rect x="1668.88" y="84.07" width="11.2" height="11.2" fill="#ff0000" stroke="#ff0000" stroke-width="3.6"/>
<rect x="1692.72" y="58.46" width="11.2" height="11.2" fill="#ff0000" stroke="#ff0000" stroke-width="3.6"/>
<rect x="1716.57" y="28.19" width="11.2" height="11.2" fill="#ff0000" stroke="#ff0000" stroke-width="3.6"/>
<rect x="1740.41" y="34.4" width="11.2" height="11.2" fill="#ff0000" stroke="#ff0000" stroke-width="3.6"/>
<polyline points="1412.18,313.19 1436.02,305.43 1459.87,232.94 1483.71,178.62 1507.56,152.54 1531.4,141.91 1555.25,135.23 1579.1,123.28 1602.94,106.59 1626.78,82.69 1650.63,67.94 1674.47,71.2 1698.32,7.4 1722.16,70.81 1746.01,198.33 1769.86,-422.56" fill="none" stroke="#0000ff" stroke-width="3" stroke-dasharray="3 4.95" stroke-linejoin="round"/>
<circle cx="1412.18" cy="313.19" r="5.6" fill="#ffffff" stroke="#0000ff" stroke-width="3.6"/>
<circle cx="1436.02" cy="305.43" r="5.6" fill="#ffffff" stroke="#0000ff" stroke-width="3.6"/>
<circle cx="1459.87" cy="232.94" r="5.6" fill="#ffffff" stroke="#0000ff" stroke-width="3.6"/>
<circle cx="1483.71" cy="178.62" r="5.6" fill="#ffffff" stroke="#0000ff" stroke-width="3.6"/>
<circle cx="1507.56" cy="152.54" r="5.6" fill="#ffffff" stroke="#0000ff" stroke-width="3.6"/>
<circle cx="1531.4" cy="141.91" r="5.6" fill="#ffffff" stroke="#0000ff" stroke-width="3.6"/>
<circle cx="1555.25" cy="135.23" r="5.6" fill="#ffffff" stroke="#0000ff" stroke-width="3.6"/>
<circle cx="1579.1" cy="123.28" r="5.6" fill="#ffffff" stroke="#0000ff" stroke-width="3.6"/>
<circle cx="1602.94" cy="106.59" r="5.6" fill="#ffffff" stroke="#0000ff" stroke-width="3.6"/>
<circle cx="1626.78" cy="82.69" r="5.6" fill="#ffffff" stroke="#0000ff" stroke-width="3.6"/>
<circle cx="1650.63" cy="67.94" r="5.6" fill="#ffffff" stroke="#0000ff" stroke-width="3.6"/>
<circle cx="1674.47" cy="71.2" r="5.6" fill="#ffffff" stroke="#0000ff" stroke-width="3.6"/>
<circle cx="1698.32" cy="7.4" r="5.6" fill="#ffffff" stroke="#0000ff" stroke-width="3.6"/>
<circle cx="1722.16" cy="70.81" r="5.6" fill="#ffffff" stroke="#0000ff" stroke-width="3.6"/>
<circle cx="1746.01" cy="198.33" r="5.6" fill="#ffffff" stroke="#0000ff" stroke-width="3.6"/>
<circle cx="1769.86" cy="-422.56" r="5.6" fill="#ffffff" stroke="#0000ff" stroke-width="3.6"/>
<polyline points="1412.18,314.44 1436.02,307.76 1459.87,246.22 1483.71,195.22 1507.56,171.17 1531.4,161.08 1555.25,150.6 1579.1,138.57 1602.94,121.26 1626.78,94.56 1650.63,89.28 1674.47,86.57 1698.32,67.94 1722.16,31.62 1746.01,-57.79" fill="none" stroke="#ff0000" stroke-width="3" stroke-dasharray="3 4.95" stroke-linejoin="round"/>
<rect x="1406.58" y="308.84" width="11.2" height="11.2" fill="#ffffff" stroke="#ff0000" stroke-width="3.6"/>
<rect x="1430.42" y="302.16" width="11.2" height="11.2" fill="#ffffff" stroke="#ff0000" stroke-width="3.6"/>
<rect x="1454.27" y="240.62" width="11.2" height="11.2" fill="#ffffff" stroke="#ff0000" stroke-width="3.6"/>
<rect x="1478.12" y="189.62" width="11.2" height="11.2" fill="#ffffff" stroke="#ff0000" stroke-width="3.6"/>
<rect x="1501.96" y="165.57" width="11.2" height="11.2" fill="#ffffff" stroke="#ff0000" stroke-width="3.6"/>
<rect x="1525.81" y="155.48" width="11.2" height="11.2" fill="#ffffff" stroke="#ff0000" stroke-width="3.6"/>
<rect x="1549.65" y="145" width="11.2" height="11.2" fill="#ffffff" stroke="#ff0000" stroke-width="3.6"/>
<rect x="1573.5" y="132.97" width="11.2" height="11.2" fill="#ffffff" stroke="#ff0000" stroke-width="3.6"/>
<rect x="1597.34" y="115.66" width="11.2" height="11.2" fill="#ffffff" stroke="#ff0000" stroke-width="3.6"/>
<rect x="1621.18" y="88.96" width="11.2" height="11.2" fill="#ffffff" stroke="#ff0000" stroke-width="3.6"/>
<rect x="1645.03" y="83.68" width="11.2" height="11.2" fill="#ffffff" stroke="#ff0000" stroke-width="3.6"/>
<rect x="1668.88" y="80.97" width="11.2" height="11.2" fill="#ffffff" stroke="#ff0000" stroke-width="3.6"/>
<rect x="1692.72" y="62.34" width="11.2" height="11.2" fill="#ffffff" stroke="#ff0000" stroke-width="3.6"/>
<rect x="1716.57" y="26.02" width="11.2" height="11.2" fill="#ffffff" stroke="#ff0000" stroke-width="3.6"/>
<rect x="1740.41" y="-63.39" width="11.2" height="11.2" fill="#ffffff" stroke="#ff0000" stroke-width="3.6"/>
</g>
<rect x="1323" y="17.1" width="301" height="50.9" fill="#ffffff"/>
<text x="1327.4" y="54.9" font-size="43.5">c) 2<tspan font-style="italic" font-size="30.5" dy="-14.5">nd</tspan><tspan dy="14.5" dx="2.2"> Hyd. Shell</tspan></text>
<rect x="1316.8" y="4.3" width="476.9" height="659.7" fill="none" stroke="#000" stroke-width="2.7" stroke-linejoin="miter"/>
<line x1="1302.8" y1="664" x2="1316.8" y2="664" stroke="#000" stroke-width="2.7"/>
<text x="1287.3" y="676.42" font-size="35.2" text-anchor="end">0.2</text>
<line x1="1302.8" y1="586.39" x2="1316.8" y2="586.39" stroke="#000" stroke-width="2.7"/>
<text x="1287.3" y="598.8" font-size="35.2" text-anchor="end">0.3</text>
<line x1="1302.8" y1="508.78" x2="1316.8" y2="508.78" stroke="#000" stroke-width="2.7"/>
<text x="1287.3" y="521.19" font-size="35.2" text-anchor="end">0.4</text>
<line x1="1302.8" y1="431.16" x2="1316.8" y2="431.16" stroke="#000" stroke-width="2.7"/>
<text x="1287.3" y="443.58" font-size="35.2" text-anchor="end">0.5</text>
<line x1="1302.8" y1="353.55" x2="1316.8" y2="353.55" stroke="#000" stroke-width="2.7"/>
<text x="1287.3" y="365.97" font-size="35.2" text-anchor="end">0.6</text>
<line x1="1302.8" y1="275.94" x2="1316.8" y2="275.94" stroke="#000" stroke-width="2.7"/>
<text x="1287.3" y="288.36" font-size="35.2" text-anchor="end">0.7</text>
<line x1="1302.8" y1="198.33" x2="1316.8" y2="198.33" stroke="#000" stroke-width="2.7"/>
<text x="1287.3" y="210.75" font-size="35.2" text-anchor="end">0.8</text>
<line x1="1302.8" y1="120.72" x2="1316.8" y2="120.72" stroke="#000" stroke-width="2.7"/>
<text x="1287.3" y="133.13" font-size="35.2" text-anchor="end">0.9</text>
<line x1="1302.8" y1="43.11" x2="1316.8" y2="43.11" stroke="#000" stroke-width="2.7"/>
<text x="1287.3" y="55.52" font-size="35.2" text-anchor="end">1.0</text>
<line x1="1316.8" y1="664" x2="1316.8" y2="678" stroke="#000" stroke-width="2.7"/>
<line x1="1436.02" y1="664" x2="1436.02" y2="678" stroke="#000" stroke-width="2.7"/>
<line x1="1555.25" y1="664" x2="1555.25" y2="678" stroke="#000" stroke-width="2.7"/>
<line x1="1674.47" y1="664" x2="1674.47" y2="678" stroke="#000" stroke-width="2.7"/>
<line x1="1793.7" y1="664" x2="1793.7" y2="678" stroke="#000" stroke-width="2.7"/>
<clipPath id="c5"><rect x="142.85" y="726" width="476.9" height="660.1"/></clipPath>
<g clip-path="url(#c5)">
<rect x="224.91" y="726" width="169.71" height="660.1" fill="#fff7cc"/>
<rect x="226.31" y="726" width="1.5" height="660.1" fill="#fff1a3"/>
<rect x="391.72" y="726" width="1.5" height="660.1" fill="#fff1a3"/>
<rect x="268.99" y="726" width="23.13" height="660.1" fill="#cdc4bf"/>
<rect x="267.49" y="726" width="3" height="660.1" fill="#a7a2b6"/>
<rect x="290.62" y="726" width="3" height="660.1" fill="#a7a2b6"/>
<line x1="238.23" y1="1254.08" x2="238.23" y2="1041.29" stroke="#0000ff" stroke-width="3"/>
<line x1="230.43" y1="1254.08" x2="246.03" y2="1254.08" stroke="#0000ff" stroke-width="3.6"/>
<line x1="230.43" y1="1041.29" x2="246.03" y2="1041.29" stroke="#0000ff" stroke-width="3.6"/>
<line x1="262.07" y1="989.81" x2="262.07" y2="923.02" stroke="#0000ff" stroke-width="3"/>
<line x1="254.27" y1="989.81" x2="269.88" y2="989.81" stroke="#0000ff" stroke-width="3.6"/>
<line x1="254.27" y1="923.02" x2="269.88" y2="923.02" stroke="#0000ff" stroke-width="3.6"/>
<line x1="285.92" y1="908.5" x2="285.92" y2="892.97" stroke="#0000ff" stroke-width="3"/>
<line x1="278.12" y1="908.5" x2="293.72" y2="908.5" stroke="#0000ff" stroke-width="3.6"/>
<line x1="278.12" y1="892.97" x2="293.72" y2="892.97" stroke="#0000ff" stroke-width="3.6"/>
<line x1="309.76" y1="844.82" x2="309.76" y2="832.39" stroke="#0000ff" stroke-width="3"/>
<line x1="301.96" y1="844.82" x2="317.56" y2="844.82" stroke="#0000ff" stroke-width="3.6"/>
<line x1="301.96" y1="832.39" x2="317.56" y2="832.39" stroke="#0000ff" stroke-width="3.6"/>
<line x1="333.61" y1="837.83" x2="333.61" y2="828.51" stroke="#0000ff" stroke-width="3"/>
<line x1="325.81" y1="837.83" x2="341.41" y2="837.83" stroke="#0000ff" stroke-width="3.6"/>
<line x1="325.81" y1="828.51" x2="341.41" y2="828.51" stroke="#0000ff" stroke-width="3.6"/>
<line x1="357.45" y1="830.06" x2="357.45" y2="822.3" stroke="#0000ff" stroke-width="3"/>
<line x1="349.65" y1="830.06" x2="365.25" y2="830.06" stroke="#0000ff" stroke-width="3.6"/>
<line x1="349.65" y1="822.3" x2="365.25" y2="822.3" stroke="#0000ff" stroke-width="3.6"/>
<line x1="381.3" y1="814.53" x2="381.3" y2="808.32" stroke="#0000ff" stroke-width="3"/>
<line x1="373.5" y1="814.53" x2="389.1" y2="814.53" stroke="#0000ff" stroke-width="3.6"/>
<line x1="373.5" y1="808.32" x2="389.1" y2="808.32" stroke="#0000ff" stroke-width="3.6"/>
<line x1="405.14" y1="810.65" x2="405.14" y2="804.44" stroke="#0000ff" stroke-width="3"/>
<line x1="397.34" y1="810.65" x2="412.94" y2="810.65" stroke="#0000ff" stroke-width="3.6"/>
<line x1="397.34" y1="804.44" x2="412.94" y2="804.44" stroke="#0000ff" stroke-width="3.6"/>
<line x1="428.99" y1="805.21" x2="428.99" y2="799" stroke="#0000ff" stroke-width="3"/>
<line x1="421.19" y1="805.21" x2="436.79" y2="805.21" stroke="#0000ff" stroke-width="3.6"/>
<line x1="421.19" y1="799" x2="436.79" y2="799" stroke="#0000ff" stroke-width="3.6"/>
<line x1="452.84" y1="799" x2="452.84" y2="792.79" stroke="#0000ff" stroke-width="3"/>
<line x1="445.04" y1="799" x2="460.64" y2="799" stroke="#0000ff" stroke-width="3.6"/>
<line x1="445.04" y1="792.79" x2="460.64" y2="792.79" stroke="#0000ff" stroke-width="3.6"/>
<line x1="476.68" y1="786.57" x2="476.68" y2="781.91" stroke="#0000ff" stroke-width="3"/>
<line x1="468.88" y1="786.57" x2="484.48" y2="786.57" stroke="#0000ff" stroke-width="3.6"/>
<line x1="468.88" y1="781.91" x2="484.48" y2="781.91" stroke="#0000ff" stroke-width="3.6"/>
<line x1="500.52" y1="776.48" x2="500.52" y2="771.82" stroke="#0000ff" stroke-width="3"/>
<line x1="492.72" y1="776.48" x2="508.32" y2="776.48" stroke="#0000ff" stroke-width="3.6"/>
<line x1="492.72" y1="771.82" x2="508.32" y2="771.82" stroke="#0000ff" stroke-width="3.6"/>
<line x1="524.37" y1="771.82" x2="524.37" y2="767.16" stroke="#0000ff" stroke-width="3"/>
<line x1="516.57" y1="771.82" x2="532.17" y2="771.82" stroke="#0000ff" stroke-width="3.6"/>
<line x1="516.57" y1="767.16" x2="532.17" y2="767.16" stroke="#0000ff" stroke-width="3.6"/>
<line x1="548.21" y1="769.49" x2="548.21" y2="764.83" stroke="#0000ff" stroke-width="3"/>
<line x1="540.41" y1="769.49" x2="556.01" y2="769.49" stroke="#0000ff" stroke-width="3.6"/>
<line x1="540.41" y1="764.83" x2="556.01" y2="764.83" stroke="#0000ff" stroke-width="3.6"/>
<line x1="572.06" y1="767.94" x2="572.06" y2="763.28" stroke="#0000ff" stroke-width="3"/>
<line x1="564.26" y1="767.94" x2="579.86" y2="767.94" stroke="#0000ff" stroke-width="3.6"/>
<line x1="564.26" y1="763.28" x2="579.86" y2="763.28" stroke="#0000ff" stroke-width="3.6"/>
<line x1="595.9" y1="767.16" x2="595.9" y2="762.5" stroke="#0000ff" stroke-width="3"/>
<line x1="588.11" y1="767.16" x2="603.7" y2="767.16" stroke="#0000ff" stroke-width="3.6"/>
<line x1="588.11" y1="762.5" x2="603.7" y2="762.5" stroke="#0000ff" stroke-width="3.6"/>
<line x1="619.75" y1="767.16" x2="619.75" y2="762.5" stroke="#0000ff" stroke-width="3"/>
<line x1="611.95" y1="767.16" x2="627.55" y2="767.16" stroke="#0000ff" stroke-width="3.6"/>
<line x1="611.95" y1="762.5" x2="627.55" y2="762.5" stroke="#0000ff" stroke-width="3.6"/>
<line x1="238.23" y1="1087.11" x2="238.23" y2="944.22" stroke="#ff0000" stroke-width="3"/>
<line x1="230.43" y1="1087.11" x2="246.03" y2="1087.11" stroke="#ff0000" stroke-width="3.6"/>
<line x1="230.43" y1="944.22" x2="246.03" y2="944.22" stroke="#ff0000" stroke-width="3.6"/>
<line x1="262.07" y1="991.59" x2="262.07" y2="958.04" stroke="#ff0000" stroke-width="3"/>
<line x1="254.27" y1="991.59" x2="269.88" y2="991.59" stroke="#ff0000" stroke-width="3.6"/>
<line x1="254.27" y1="958.04" x2="269.88" y2="958.04" stroke="#ff0000" stroke-width="3.6"/>
<line x1="285.92" y1="902.75" x2="285.92" y2="884.11" stroke="#ff0000" stroke-width="3"/>
<line x1="278.12" y1="902.75" x2="293.72" y2="902.75" stroke="#ff0000" stroke-width="3.6"/>
<line x1="278.12" y1="884.11" x2="293.72" y2="884.11" stroke="#ff0000" stroke-width="3.6"/>
<line x1="309.76" y1="842.26" x2="309.76" y2="829.83" stroke="#ff0000" stroke-width="3"/>
<line x1="301.96" y1="842.26" x2="317.56" y2="842.26" stroke="#ff0000" stroke-width="3.6"/>
<line x1="301.96" y1="829.83" x2="317.56" y2="829.83" stroke="#ff0000" stroke-width="3.6"/>
<line x1="333.61" y1="835.5" x2="333.61" y2="826.18" stroke="#ff0000" stroke-width="3"/>
<line x1="325.81" y1="835.5" x2="341.41" y2="835.5" stroke="#ff0000" stroke-width="3.6"/>
<line x1="325.81" y1="826.18" x2="341.41" y2="826.18" stroke="#ff0000" stroke-width="3.6"/>
<line x1="357.45" y1="827.73" x2="357.45" y2="819.97" stroke="#ff0000" stroke-width="3"/>
<line x1="349.65" y1="827.73" x2="365.25" y2="827.73" stroke="#ff0000" stroke-width="3.6"/>
<line x1="349.65" y1="819.97" x2="365.25" y2="819.97" stroke="#ff0000" stroke-width="3.6"/>
<line x1="381.3" y1="812.98" x2="381.3" y2="806.77" stroke="#ff0000" stroke-width="3"/>
<line x1="373.5" y1="812.98" x2="389.1" y2="812.98" stroke="#ff0000" stroke-width="3.6"/>
<line x1="373.5" y1="806.77" x2="389.1" y2="806.77" stroke="#ff0000" stroke-width="3.6"/>
<line x1="405.14" y1="809.09" x2="405.14" y2="802.88" stroke="#ff0000" stroke-width="3"/>
<line x1="397.34" y1="809.09" x2="412.94" y2="809.09" stroke="#ff0000" stroke-width="3.6"/>
<line x1="397.34" y1="802.88" x2="412.94" y2="802.88" stroke="#ff0000" stroke-width="3.6"/>
<line x1="428.99" y1="802.88" x2="428.99" y2="796.67" stroke="#ff0000" stroke-width="3"/>
<line x1="421.19" y1="802.88" x2="436.79" y2="802.88" stroke="#ff0000" stroke-width="3.6"/>
<line x1="421.19" y1="796.67" x2="436.79" y2="796.67" stroke="#ff0000" stroke-width="3.6"/>
<line x1="452.84" y1="796.67" x2="452.84" y2="790.46" stroke="#ff0000" stroke-width="3"/>
<line x1="445.04" y1="796.67" x2="460.64" y2="796.67" stroke="#ff0000" stroke-width="3.6"/>
<line x1="445.04" y1="790.46" x2="460.64" y2="790.46" stroke="#ff0000" stroke-width="3.6"/>
<line x1="476.68" y1="785.02" x2="476.68" y2="780.36" stroke="#ff0000" stroke-width="3"/>
<line x1="468.88" y1="785.02" x2="484.48" y2="785.02" stroke="#ff0000" stroke-width="3.6"/>
<line x1="468.88" y1="780.36" x2="484.48" y2="780.36" stroke="#ff0000" stroke-width="3.6"/>
<line x1="500.52" y1="774.93" x2="500.52" y2="770.27" stroke="#ff0000" stroke-width="3"/>
<line x1="492.72" y1="774.93" x2="508.32" y2="774.93" stroke="#ff0000" stroke-width="3.6"/>
<line x1="492.72" y1="770.27" x2="508.32" y2="770.27" stroke="#ff0000" stroke-width="3.6"/>
<line x1="524.37" y1="770.27" x2="524.37" y2="765.61" stroke="#ff0000" stroke-width="3"/>
<line x1="516.57" y1="770.27" x2="532.17" y2="770.27" stroke="#ff0000" stroke-width="3.6"/>
<line x1="516.57" y1="765.61" x2="532.17" y2="765.61" stroke="#ff0000" stroke-width="3.6"/>
<line x1="548.21" y1="767.94" x2="548.21" y2="763.28" stroke="#ff0000" stroke-width="3"/>
<line x1="540.41" y1="767.94" x2="556.01" y2="767.94" stroke="#ff0000" stroke-width="3.6"/>
<line x1="540.41" y1="763.28" x2="556.01" y2="763.28" stroke="#ff0000" stroke-width="3.6"/>
<line x1="572.06" y1="766.38" x2="572.06" y2="761.72" stroke="#ff0000" stroke-width="3"/>
<line x1="564.26" y1="766.38" x2="579.86" y2="766.38" stroke="#ff0000" stroke-width="3.6"/>
<line x1="564.26" y1="761.72" x2="579.86" y2="761.72" stroke="#ff0000" stroke-width="3.6"/>
<line x1="595.9" y1="765.61" x2="595.9" y2="760.95" stroke="#ff0000" stroke-width="3"/>
<line x1="588.11" y1="765.61" x2="603.7" y2="765.61" stroke="#ff0000" stroke-width="3.6"/>
<line x1="588.11" y1="760.95" x2="603.7" y2="760.95" stroke="#ff0000" stroke-width="3.6"/>
<line x1="619.75" y1="764.83" x2="619.75" y2="760.17" stroke="#ff0000" stroke-width="3"/>
<line x1="611.95" y1="764.83" x2="627.55" y2="764.83" stroke="#ff0000" stroke-width="3.6"/>
<line x1="611.95" y1="760.17" x2="627.55" y2="760.17" stroke="#ff0000" stroke-width="3.6"/>
<line x1="238.23" y1="1166.09" x2="238.23" y2="881.86" stroke="#0000ff" stroke-width="3"/>
<line x1="230.43" y1="1166.09" x2="246.03" y2="1166.09" stroke="#0000ff" stroke-width="3.6"/>
<line x1="230.43" y1="881.86" x2="246.03" y2="881.86" stroke="#0000ff" stroke-width="3.6"/>
<line x1="262.07" y1="1021.26" x2="262.07" y2="986" stroke="#0000ff" stroke-width="3"/>
<line x1="254.27" y1="1021.26" x2="269.88" y2="1021.26" stroke="#0000ff" stroke-width="3.6"/>
<line x1="254.27" y1="986" x2="269.88" y2="986" stroke="#0000ff" stroke-width="3.6"/>
<line x1="285.92" y1="947.17" x2="285.92" y2="906.32" stroke="#0000ff" stroke-width="3"/>
<line x1="278.12" y1="947.17" x2="293.72" y2="947.17" stroke="#0000ff" stroke-width="3.6"/>
<line x1="278.12" y1="906.32" x2="293.72" y2="906.32" stroke="#0000ff" stroke-width="3.6"/>
<line x1="309.76" y1="860.12" x2="309.76" y2="838.53" stroke="#0000ff" stroke-width="3"/>
<line x1="301.96" y1="860.12" x2="317.56" y2="860.12" stroke="#0000ff" stroke-width="3.6"/>
<line x1="301.96" y1="838.53" x2="317.56" y2="838.53" stroke="#0000ff" stroke-width="3.6"/>
<line x1="333.61" y1="855.46" x2="333.61" y2="832.31" stroke="#0000ff" stroke-width="3"/>
<line x1="325.81" y1="855.46" x2="341.41" y2="855.46" stroke="#0000ff" stroke-width="3.6"/>
<line x1="325.81" y1="832.31" x2="341.41" y2="832.31" stroke="#0000ff" stroke-width="3.6"/>
<line x1="357.45" y1="830.84" x2="357.45" y2="821.52" stroke="#0000ff" stroke-width="3"/>
<line x1="349.65" y1="830.84" x2="365.25" y2="830.84" stroke="#0000ff" stroke-width="3.6"/>
<line x1="349.65" y1="821.52" x2="365.25" y2="821.52" stroke="#0000ff" stroke-width="3.6"/>
<line x1="381.3" y1="815.31" x2="381.3" y2="807.54" stroke="#0000ff" stroke-width="3"/>
<line x1="373.5" y1="815.31" x2="389.1" y2="815.31" stroke="#0000ff" stroke-width="3.6"/>
<line x1="373.5" y1="807.54" x2="389.1" y2="807.54" stroke="#0000ff" stroke-width="3.6"/>
<line x1="405.14" y1="810.65" x2="405.14" y2="804.44" stroke="#0000ff" stroke-width="3"/>
<line x1="397.34" y1="810.65" x2="412.94" y2="810.65" stroke="#0000ff" stroke-width="3.6"/>
<line x1="397.34" y1="804.44" x2="412.94" y2="804.44" stroke="#0000ff" stroke-width="3.6"/>
<line x1="428.99" y1="805.21" x2="428.99" y2="799" stroke="#0000ff" stroke-width="3"/>
<line x1="421.19" y1="805.21" x2="436.79" y2="805.21" stroke="#0000ff" stroke-width="3.6"/>
<line x1="421.19" y1="799" x2="436.79" y2="799" stroke="#0000ff" stroke-width="3.6"/>
<line x1="452.84" y1="799" x2="452.84" y2="792.79" stroke="#0000ff" stroke-width="3"/>
<line x1="445.04" y1="799" x2="460.64" y2="799" stroke="#0000ff" stroke-width="3.6"/>
<line x1="445.04" y1="792.79" x2="460.64" y2="792.79" stroke="#0000ff" stroke-width="3.6"/>
<line x1="476.68" y1="786.57" x2="476.68" y2="781.91" stroke="#0000ff" stroke-width="3"/>
<line x1="468.88" y1="786.57" x2="484.48" y2="786.57" stroke="#0000ff" stroke-width="3.6"/>
<line x1="468.88" y1="781.91" x2="484.48" y2="781.91" stroke="#0000ff" stroke-width="3.6"/>
<line x1="500.52" y1="776.48" x2="500.52" y2="771.82" stroke="#0000ff" stroke-width="3"/>
<line x1="492.72" y1="776.48" x2="508.32" y2="776.48" stroke="#0000ff" stroke-width="3.6"/>
<line x1="492.72" y1="771.82" x2="508.32" y2="771.82" stroke="#0000ff" stroke-width="3.6"/>
<line x1="524.37" y1="771.82" x2="524.37" y2="767.16" stroke="#0000ff" stroke-width="3"/>
<line x1="516.57" y1="771.82" x2="532.17" y2="771.82" stroke="#0000ff" stroke-width="3.6"/>
<line x1="516.57" y1="767.16" x2="532.17" y2="767.16" stroke="#0000ff" stroke-width="3.6"/>
<line x1="548.21" y1="769.49" x2="548.21" y2="764.83" stroke="#0000ff" stroke-width="3"/>
<line x1="540.41" y1="769.49" x2="556.01" y2="769.49" stroke="#0000ff" stroke-width="3.6"/>
<line x1="540.41" y1="764.83" x2="556.01" y2="764.83" stroke="#0000ff" stroke-width="3.6"/>
<line x1="572.06" y1="767.94" x2="572.06" y2="763.28" stroke="#0000ff" stroke-width="3"/>
<line x1="564.26" y1="767.94" x2="579.86" y2="767.94" stroke="#0000ff" stroke-width="3.6"/>
<line x1="564.26" y1="763.28" x2="579.86" y2="763.28" stroke="#0000ff" stroke-width="3.6"/>
<line x1="595.9" y1="767.16" x2="595.9" y2="762.5" stroke="#0000ff" stroke-width="3"/>
<line x1="588.11" y1="767.16" x2="603.7" y2="767.16" stroke="#0000ff" stroke-width="3.6"/>
<line x1="588.11" y1="762.5" x2="603.7" y2="762.5" stroke="#0000ff" stroke-width="3.6"/>
<line x1="619.75" y1="767.16" x2="619.75" y2="762.5" stroke="#0000ff" stroke-width="3"/>
<line x1="611.95" y1="767.16" x2="627.55" y2="767.16" stroke="#0000ff" stroke-width="3.6"/>
<line x1="611.95" y1="762.5" x2="627.55" y2="762.5" stroke="#0000ff" stroke-width="3.6"/>
<line x1="238.23" y1="1044.87" x2="238.23" y2="537.6" stroke="#ff0000" stroke-width="3"/>
<line x1="230.43" y1="1044.87" x2="246.03" y2="1044.87" stroke="#ff0000" stroke-width="3.6"/>
<line x1="230.43" y1="537.6" x2="246.03" y2="537.6" stroke="#ff0000" stroke-width="3.6"/>
<line x1="262.07" y1="973.73" x2="262.07" y2="961.31" stroke="#ff0000" stroke-width="3"/>
<line x1="254.27" y1="973.73" x2="269.88" y2="973.73" stroke="#ff0000" stroke-width="3.6"/>
<line x1="254.27" y1="961.31" x2="269.88" y2="961.31" stroke="#ff0000" stroke-width="3.6"/>
<line x1="285.92" y1="916.34" x2="285.92" y2="903.92" stroke="#ff0000" stroke-width="3"/>
<line x1="278.12" y1="916.34" x2="293.72" y2="916.34" stroke="#ff0000" stroke-width="3.6"/>
<line x1="278.12" y1="903.92" x2="293.72" y2="903.92" stroke="#ff0000" stroke-width="3.6"/>
<line x1="309.76" y1="839.77" x2="309.76" y2="811.97" stroke="#ff0000" stroke-width="3"/>
<line x1="301.96" y1="839.77" x2="317.56" y2="839.77" stroke="#ff0000" stroke-width="3.6"/>
<line x1="301.96" y1="811.97" x2="317.56" y2="811.97" stroke="#ff0000" stroke-width="3.6"/>
<line x1="333.61" y1="835.11" x2="333.61" y2="825.79" stroke="#ff0000" stroke-width="3"/>
<line x1="325.81" y1="835.11" x2="341.41" y2="835.11" stroke="#ff0000" stroke-width="3.6"/>
<line x1="325.81" y1="825.79" x2="341.41" y2="825.79" stroke="#ff0000" stroke-width="3.6"/>
<line x1="357.45" y1="826.49" x2="357.45" y2="818.72" stroke="#ff0000" stroke-width="3"/>
<line x1="349.65" y1="826.49" x2="365.25" y2="826.49" stroke="#ff0000" stroke-width="3.6"/>
<line x1="349.65" y1="818.72" x2="365.25" y2="818.72" stroke="#ff0000" stroke-width="3.6"/>
<line x1="381.3" y1="811.66" x2="381.3" y2="805.44" stroke="#ff0000" stroke-width="3"/>
<line x1="373.5" y1="811.66" x2="389.1" y2="811.66" stroke="#ff0000" stroke-width="3.6"/>
<line x1="373.5" y1="805.44" x2="389.1" y2="805.44" stroke="#ff0000" stroke-width="3.6"/>
<line x1="405.14" y1="808.86" x2="405.14" y2="802.65" stroke="#ff0000" stroke-width="3"/>
<line x1="397.34" y1="808.86" x2="412.94" y2="808.86" stroke="#ff0000" stroke-width="3.6"/>
<line x1="397.34" y1="802.65" x2="412.94" y2="802.65" stroke="#ff0000" stroke-width="3.6"/>
<line x1="428.99" y1="801.87" x2="428.99" y2="795.66" stroke="#ff0000" stroke-width="3"/>
<line x1="421.19" y1="801.87" x2="436.79" y2="801.87" stroke="#ff0000" stroke-width="3.6"/>
<line x1="421.19" y1="795.66" x2="436.79" y2="795.66" stroke="#ff0000" stroke-width="3.6"/>
<line x1="452.84" y1="795.12" x2="452.84" y2="788.9" stroke="#ff0000" stroke-width="3"/>
<line x1="445.04" y1="795.12" x2="460.64" y2="795.12" stroke="#ff0000" stroke-width="3.6"/>
<line x1="445.04" y1="788.9" x2="460.64" y2="788.9" stroke="#ff0000" stroke-width="3.6"/>
<line x1="476.68" y1="784.24" x2="476.68" y2="779.58" stroke="#ff0000" stroke-width="3"/>
<line x1="468.88" y1="784.24" x2="484.48" y2="784.24" stroke="#ff0000" stroke-width="3.6"/>
<line x1="468.88" y1="779.58" x2="484.48" y2="779.58" stroke="#ff0000" stroke-width="3.6"/>
<line x1="500.52" y1="774.15" x2="500.52" y2="769.49" stroke="#ff0000" stroke-width="3"/>
<line x1="492.72" y1="774.15" x2="508.32" y2="774.15" stroke="#ff0000" stroke-width="3.6"/>
<line x1="492.72" y1="769.49" x2="508.32" y2="769.49" stroke="#ff0000" stroke-width="3.6"/>
<line x1="524.37" y1="769.8" x2="524.37" y2="765.14" stroke="#ff0000" stroke-width="3"/>
<line x1="516.57" y1="769.8" x2="532.17" y2="769.8" stroke="#ff0000" stroke-width="3.6"/>
<line x1="516.57" y1="765.14" x2="532.17" y2="765.14" stroke="#ff0000" stroke-width="3.6"/>
<line x1="548.21" y1="767.63" x2="548.21" y2="762.97" stroke="#ff0000" stroke-width="3"/>
<line x1="540.41" y1="767.63" x2="556.01" y2="767.63" stroke="#ff0000" stroke-width="3.6"/>
<line x1="540.41" y1="762.97" x2="556.01" y2="762.97" stroke="#ff0000" stroke-width="3.6"/>
<line x1="572.06" y1="766.07" x2="572.06" y2="761.41" stroke="#ff0000" stroke-width="3"/>
<line x1="564.26" y1="766.07" x2="579.86" y2="766.07" stroke="#ff0000" stroke-width="3.6"/>
<line x1="564.26" y1="761.41" x2="579.86" y2="761.41" stroke="#ff0000" stroke-width="3.6"/>
<line x1="595.9" y1="764.52" x2="595.9" y2="759.86" stroke="#ff0000" stroke-width="3"/>
<line x1="588.11" y1="764.52" x2="603.7" y2="764.52" stroke="#ff0000" stroke-width="3.6"/>
<line x1="588.11" y1="759.86" x2="603.7" y2="759.86" stroke="#ff0000" stroke-width="3.6"/>
<line x1="619.75" y1="764.52" x2="619.75" y2="759.86" stroke="#ff0000" stroke-width="3"/>
<line x1="611.95" y1="764.52" x2="627.55" y2="764.52" stroke="#ff0000" stroke-width="3.6"/>
<line x1="611.95" y1="759.86" x2="627.55" y2="759.86" stroke="#ff0000" stroke-width="3.6"/>
<polyline points="238.23,1147.69 262.07,956.41 285.92,900.73 309.76,838.61 333.61,833.17 357.45,826.18 381.3,811.42 405.14,807.54 428.99,802.11 452.84,795.89 476.68,784.24 500.52,774.15 524.37,769.49 548.21,767.16 572.06,765.61 595.9,764.83 619.75,764.83" fill="none" stroke="#0000ff" stroke-width="3" stroke-linejoin="round"/>
<circle cx="238.23" cy="1147.69" r="7.4" fill="#0000ff"/>
<circle cx="262.07" cy="956.41" r="7.4" fill="#0000ff"/>
<circle cx="285.92" cy="900.73" r="7.4" fill="#0000ff"/>
<circle cx="309.76" cy="838.61" r="7.4" fill="#0000ff"/>
<circle cx="333.61" cy="833.17" r="7.4" fill="#0000ff"/>
<circle cx="357.45" cy="826.18" r="7.4" fill="#0000ff"/>
<circle cx="381.3" cy="811.42" r="7.4" fill="#0000ff"/>
<circle cx="405.14" cy="807.54" r="7.4" fill="#0000ff"/>
<circle cx="428.99" cy="802.11" r="7.4" fill="#0000ff"/>
<circle cx="452.84" cy="795.89" r="7.4" fill="#0000ff"/>
<circle cx="476.68" cy="784.24" r="7.4" fill="#0000ff"/>
<circle cx="500.52" cy="774.15" r="7.4" fill="#0000ff"/>
<circle cx="524.37" cy="769.49" r="7.4" fill="#0000ff"/>
<circle cx="548.21" cy="767.16" r="7.4" fill="#0000ff"/>
<circle cx="572.06" cy="765.61" r="7.4" fill="#0000ff"/>
<circle cx="595.9" cy="764.83" r="7.4" fill="#0000ff"/>
<circle cx="619.75" cy="764.83" r="7.4" fill="#0000ff"/>
<polyline points="238.23,1015.67 262.07,974.82 285.92,893.43 309.76,836.04 333.61,830.84 357.45,823.85 381.3,809.87 405.14,805.99 428.99,799.78 452.84,793.56 476.68,782.69 500.52,772.6 524.37,767.94 548.21,765.61 572.06,764.05 595.9,763.28 619.75,762.5" fill="none" stroke="#ff0000" stroke-width="3" stroke-linejoin="round"/>
<rect x="232.63" y="1010.07" width="11.2" height="11.2" fill="#ff0000" stroke="#ff0000" stroke-width="3.6"/>
<rect x="256.47" y="969.22" width="11.2" height="11.2" fill="#ff0000" stroke="#ff0000" stroke-width="3.6"/>
<rect x="280.32" y="887.83" width="11.2" height="11.2" fill="#ff0000" stroke="#ff0000" stroke-width="3.6"/>
<rect x="304.16" y="830.44" width="11.2" height="11.2" fill="#ff0000" stroke="#ff0000" stroke-width="3.6"/>
<rect x="328.01" y="825.24" width="11.2" height="11.2" fill="#ff0000" stroke="#ff0000" stroke-width="3.6"/>
<rect x="351.85" y="818.25" width="11.2" height="11.2" fill="#ff0000" stroke="#ff0000" stroke-width="3.6"/>
<rect x="375.7" y="804.27" width="11.2" height="11.2" fill="#ff0000" stroke="#ff0000" stroke-width="3.6"/>
<rect x="399.54" y="800.39" width="11.2" height="11.2" fill="#ff0000" stroke="#ff0000" stroke-width="3.6"/>
<rect x="423.39" y="794.18" width="11.2" height="11.2" fill="#ff0000" stroke="#ff0000" stroke-width="3.6"/>
<rect x="447.24" y="787.96" width="11.2" height="11.2" fill="#ff0000" stroke="#ff0000" stroke-width="3.6"/>
<rect x="471.08" y="777.09" width="11.2" height="11.2" fill="#ff0000" stroke="#ff0000" stroke-width="3.6"/>
<rect x="494.92" y="767" width="11.2" height="11.2" fill="#ff0000" stroke="#ff0000" stroke-width="3.6"/>
<rect x="518.77" y="762.34" width="11.2" height="11.2" fill="#ff0000" stroke="#ff0000" stroke-width="3.6"/>
<rect x="542.61" y="760.01" width="11.2" height="11.2" fill="#ff0000" stroke="#ff0000" stroke-width="3.6"/>
<rect x="566.46" y="758.45" width="11.2" height="11.2" fill="#ff0000" stroke="#ff0000" stroke-width="3.6"/>
<rect x="590.3" y="757.68" width="11.2" height="11.2" fill="#ff0000" stroke="#ff0000" stroke-width="3.6"/>
<rect x="614.15" y="756.9" width="11.2" height="11.2" fill="#ff0000" stroke="#ff0000" stroke-width="3.6"/>
<polyline points="238.23,1023.98 262.07,1003.63 285.92,926.75 309.76,849.32 333.61,843.89 357.45,826.18 381.3,811.42 405.14,807.54 428.99,802.11 452.84,795.89 476.68,784.24 500.52,774.15 524.37,769.49 548.21,767.16 572.06,765.61 595.9,764.83 619.75,764.83" fill="none" stroke="#0000ff" stroke-width="3" stroke-dasharray="3 4.95" stroke-linejoin="round"/>
<circle cx="238.23" cy="1023.98" r="5.6" fill="#ffffff" stroke="#0000ff" stroke-width="3.6"/>
<circle cx="262.07" cy="1003.63" r="5.6" fill="#ffffff" stroke="#0000ff" stroke-width="3.6"/>
<circle cx="285.92" cy="926.75" r="5.6" fill="#ffffff" stroke="#0000ff" stroke-width="3.6"/>
<circle cx="309.76" cy="849.32" r="5.6" fill="#ffffff" stroke="#0000ff" stroke-width="3.6"/>
<circle cx="333.61" cy="843.89" r="5.6" fill="#ffffff" stroke="#0000ff" stroke-width="3.6"/>
<circle cx="357.45" cy="826.18" r="5.6" fill="#ffffff" stroke="#0000ff" stroke-width="3.6"/>
<circle cx="381.3" cy="811.42" r="5.6" fill="#ffffff" stroke="#0000ff" stroke-width="3.6"/>
<circle cx="405.14" cy="807.54" r="5.6" fill="#ffffff" stroke="#0000ff" stroke-width="3.6"/>
<circle cx="428.99" cy="802.11" r="5.6" fill="#ffffff" stroke="#0000ff" stroke-width="3.6"/>
<circle cx="452.84" cy="795.89" r="5.6" fill="#ffffff" stroke="#0000ff" stroke-width="3.6"/>
<circle cx="476.68" cy="784.24" r="5.6" fill="#ffffff" stroke="#0000ff" stroke-width="3.6"/>
<circle cx="500.52" cy="774.15" r="5.6" fill="#ffffff" stroke="#0000ff" stroke-width="3.6"/>
<circle cx="524.37" cy="769.49" r="5.6" fill="#ffffff" stroke="#0000ff" stroke-width="3.6"/>
<circle cx="548.21" cy="767.16" r="5.6" fill="#ffffff" stroke="#0000ff" stroke-width="3.6"/>
<circle cx="572.06" cy="765.61" r="5.6" fill="#ffffff" stroke="#0000ff" stroke-width="3.6"/>
<circle cx="595.9" cy="764.83" r="5.6" fill="#ffffff" stroke="#0000ff" stroke-width="3.6"/>
<circle cx="619.75" cy="764.83" r="5.6" fill="#ffffff" stroke="#0000ff" stroke-width="3.6"/>
<polyline points="238.23,791.23 262.07,967.52 285.92,910.13 309.76,825.87 333.61,830.45 357.45,822.61 381.3,808.55 405.14,805.76 428.99,798.77 452.84,792.01 476.68,781.91 500.52,771.82 524.37,767.47 548.21,765.3 572.06,763.74 595.9,762.19 619.75,762.19" fill="none" stroke="#ff0000" stroke-width="3" stroke-dasharray="3 4.95" stroke-linejoin="round"/>
<rect x="232.63" y="785.63" width="11.2" height="11.2" fill="#ffffff" stroke="#ff0000" stroke-width="3.6"/>
<rect x="256.47" y="961.92" width="11.2" height="11.2" fill="#ffffff" stroke="#ff0000" stroke-width="3.6"/>
<rect x="280.32" y="904.53" width="11.2" height="11.2" fill="#ffffff" stroke="#ff0000" stroke-width="3.6"/>
<rect x="304.16" y="820.27" width="11.2" height="11.2" fill="#ffffff" stroke="#ff0000" stroke-width="3.6"/>
<rect x="328.01" y="824.85" width="11.2" height="11.2" fill="#ffffff" stroke="#ff0000" stroke-width="3.6"/>
<rect x="351.85" y="817.01" width="11.2" height="11.2" fill="#ffffff" stroke="#ff0000" stroke-width="3.6"/>
<rect x="375.7" y="802.95" width="11.2" height="11.2" fill="#ffffff" stroke="#ff0000" stroke-width="3.6"/>
<rect x="399.54" y="800.16" width="11.2" height="11.2" fill="#ffffff" stroke="#ff0000" stroke-width="3.6"/>
<rect x="423.39" y="793.17" width="11.2" height="11.2" fill="#ffffff" stroke="#ff0000" stroke-width="3.6"/>
<rect x="447.24" y="786.41" width="11.2" height="11.2" fill="#ffffff" stroke="#ff0000" stroke-width="3.6"/>
<rect x="471.08" y="776.31" width="11.2" height="11.2" fill="#ffffff" stroke="#ff0000" stroke-width="3.6"/>
<rect x="494.92" y="766.22" width="11.2" height="11.2" fill="#ffffff" stroke="#ff0000" stroke-width="3.6"/>
<rect x="518.77" y="761.87" width="11.2" height="11.2" fill="#ffffff" stroke="#ff0000" stroke-width="3.6"/>
<rect x="542.61" y="759.7" width="11.2" height="11.2" fill="#ffffff" stroke="#ff0000" stroke-width="3.6"/>
<rect x="566.46" y="758.14" width="11.2" height="11.2" fill="#ffffff" stroke="#ff0000" stroke-width="3.6"/>
<rect x="590.3" y="756.59" width="11.2" height="11.2" fill="#ffffff" stroke="#ff0000" stroke-width="3.6"/>
<rect x="614.15" y="756.59" width="11.2" height="11.2" fill="#ffffff" stroke="#ff0000" stroke-width="3.6"/>
</g>
<rect x="148" y="737.5" width="268" height="41.7" fill="#ffffff"/>
<text x="150.9" y="769.9" font-size="43.9">d) Other Water</text>
<rect x="216.2" y="1167.5" width="398.9" height="212.4" rx="6" ry="6" fill="#ffffff" fill-opacity="0.8" stroke="#d6d6d6" stroke-width="2.8"/>
<line x1="229.3" y1="1194.7" x2="303.4" y2="1194.7" stroke="#0000ff" stroke-width="3"/>
<line x1="265.8" y1="1177.1" x2="265.8" y2="1212.3" stroke="#0000ff" stroke-width="3"/>
<line x1="258" y1="1177.1" x2="273.6" y2="1177.1" stroke="#0000ff" stroke-width="3.6"/>
<line x1="258" y1="1212.3" x2="273.6" y2="1212.3" stroke="#0000ff" stroke-width="3.6"/>
<circle cx="265.8" cy="1194.7" r="5.6" fill="#0000ff" stroke="#0000ff" stroke-width="3.6"/>
<text x="332.0" y="1205.1" font-size="35.8">0 mmol/L 10 &#176;C</text>
<line x1="229.3" y1="1245.7" x2="303.4" y2="1245.7" stroke="#ff0000" stroke-width="3"/>
<line x1="265.8" y1="1228.1" x2="265.8" y2="1263.3" stroke="#ff0000" stroke-width="3"/>
<line x1="258" y1="1228.1" x2="273.6" y2="1228.1" stroke="#ff0000" stroke-width="3.6"/>
<line x1="258" y1="1263.3" x2="273.6" y2="1263.3" stroke="#ff0000" stroke-width="3.6"/>
<rect x="260.2" y="1240.1" width="11.2" height="11.2" fill="#ff0000" stroke="#ff0000" stroke-width="3.6"/>
<text x="332.0" y="1256.1" font-size="35.8">0 mmol/L 50 &#176;C</text>
<line x1="229.3" y1="1296.3" x2="303.4" y2="1296.3" stroke="#0000ff" stroke-width="3" stroke-dasharray="3 4.95"/>
<line x1="265.8" y1="1278.7" x2="265.8" y2="1313.9" stroke="#0000ff" stroke-width="3"/>
<line x1="258" y1="1278.7" x2="273.6" y2="1278.7" stroke="#0000ff" stroke-width="3.6"/>
<line x1="258" y1="1313.9" x2="273.6" y2="1313.9" stroke="#0000ff" stroke-width="3.6"/>
<circle cx="265.8" cy="1296.3" r="5.6" fill="#ffffff" stroke="#0000ff" stroke-width="3.6"/>
<text x="332.0" y="1306.7" font-size="35.8">100 mmol/L 10 &#176;C</text>
<line x1="229.3" y1="1346.9" x2="303.4" y2="1346.9" stroke="#ff0000" stroke-width="3" stroke-dasharray="3 4.95"/>
<line x1="265.8" y1="1329.3" x2="265.8" y2="1364.5" stroke="#ff0000" stroke-width="3"/>
<line x1="258" y1="1329.3" x2="273.6" y2="1329.3" stroke="#ff0000" stroke-width="3.6"/>
<line x1="258" y1="1364.5" x2="273.6" y2="1364.5" stroke="#ff0000" stroke-width="3.6"/>
<rect x="260.2" y="1341.3" width="11.2" height="11.2" fill="#ffffff" stroke="#ff0000" stroke-width="3.6"/>
<text x="332.0" y="1357.3" font-size="35.8">100 mmol/L 50 &#176;C</text>
<rect x="142.85" y="726" width="476.9" height="660.1" fill="none" stroke="#000" stroke-width="2.7" stroke-linejoin="miter"/>
<line x1="128.85" y1="1386.1" x2="142.85" y2="1386.1" stroke="#000" stroke-width="2.7"/>
<text x="113.35" y="1398.52" font-size="35.2" text-anchor="end">0.2</text>
<line x1="128.85" y1="1308.44" x2="142.85" y2="1308.44" stroke="#000" stroke-width="2.7"/>
<text x="113.35" y="1320.86" font-size="35.2" text-anchor="end">0.3</text>
<line x1="128.85" y1="1230.78" x2="142.85" y2="1230.78" stroke="#000" stroke-width="2.7"/>
<text x="113.35" y="1243.2" font-size="35.2" text-anchor="end">0.4</text>
<line x1="128.85" y1="1153.12" x2="142.85" y2="1153.12" stroke="#000" stroke-width="2.7"/>
<text x="113.35" y="1165.54" font-size="35.2" text-anchor="end">0.5</text>
<line x1="128.85" y1="1075.46" x2="142.85" y2="1075.46" stroke="#000" stroke-width="2.7"/>
<text x="113.35" y="1087.88" font-size="35.2" text-anchor="end">0.6</text>
<line x1="128.85" y1="997.81" x2="142.85" y2="997.81" stroke="#000" stroke-width="2.7"/>
<text x="113.35" y="1010.22" font-size="35.2" text-anchor="end">0.7</text>
<line x1="128.85" y1="920.15" x2="142.85" y2="920.15" stroke="#000" stroke-width="2.7"/>
<text x="113.35" y="932.56" font-size="35.2" text-anchor="end">0.8</text>
<line x1="128.85" y1="842.49" x2="142.85" y2="842.49" stroke="#000" stroke-width="2.7"/>
<text x="113.35" y="854.9" font-size="35.2" text-anchor="end">0.9</text>
<line x1="128.85" y1="764.83" x2="142.85" y2="764.83" stroke="#000" stroke-width="2.7"/>
<text x="113.35" y="777.25" font-size="35.2" text-anchor="end">1.0</text>
<line x1="142.85" y1="1386.1" x2="142.85" y2="1400.1" stroke="#000" stroke-width="2.7"/>
<text x="142.85" y="1437.8" font-size="35.2" text-anchor="middle">0</text>
<line x1="262.07" y1="1386.1" x2="262.07" y2="1400.1" stroke="#000" stroke-width="2.7"/>
<text x="262.07" y="1437.8" font-size="35.2" text-anchor="middle">5</text>
<line x1="381.3" y1="1386.1" x2="381.3" y2="1400.1" stroke="#000" stroke-width="2.7"/>
<text x="381.3" y="1437.8" font-size="35.2" text-anchor="middle">10</text>
<line x1="500.52" y1="1386.1" x2="500.52" y2="1400.1" stroke="#000" stroke-width="2.7"/>
<text x="500.52" y="1437.8" font-size="35.2" text-anchor="middle">15</text>
<line x1="619.75" y1="1386.1" x2="619.75" y2="1400.1" stroke="#000" stroke-width="2.7"/>
<text x="619.75" y="1437.8" font-size="35.2" text-anchor="middle">20</text>
<clipPath id="c6"><rect x="729.2" y="726" width="476.9" height="660.1"/></clipPath>
<g clip-path="url(#c6)">
<rect x="811.26" y="726" width="169.71" height="660.1" fill="#fff7cc"/>
<rect x="812.66" y="726" width="1.5" height="660.1" fill="#fff1a3"/>
<rect x="978.07" y="726" width="1.5" height="660.1" fill="#fff1a3"/>
<rect x="855.34" y="726" width="23.13" height="660.1" fill="#cdc4bf"/>
<rect x="853.84" y="726" width="3" height="660.1" fill="#a7a2b6"/>
<rect x="876.97" y="726" width="3" height="660.1" fill="#a7a2b6"/>
<line x1="824.58" y1="1282.04" x2="824.58" y2="1241.65" stroke="#0000ff" stroke-width="3"/>
<line x1="816.78" y1="1282.04" x2="832.38" y2="1282.04" stroke="#0000ff" stroke-width="3.6"/>
<line x1="816.78" y1="1241.65" x2="832.38" y2="1241.65" stroke="#0000ff" stroke-width="3.6"/>
<line x1="848.43" y1="1252.53" x2="848.43" y2="1137.59" stroke="#0000ff" stroke-width="3"/>
<line x1="840.63" y1="1252.53" x2="856.23" y2="1252.53" stroke="#0000ff" stroke-width="3.6"/>
<line x1="840.63" y1="1137.59" x2="856.23" y2="1137.59" stroke="#0000ff" stroke-width="3.6"/>
<line x1="872.27" y1="1190.48" x2="872.27" y2="1106.61" stroke="#0000ff" stroke-width="3"/>
<line x1="864.47" y1="1190.48" x2="880.07" y2="1190.48" stroke="#0000ff" stroke-width="3.6"/>
<line x1="864.47" y1="1106.61" x2="880.07" y2="1106.61" stroke="#0000ff" stroke-width="3.6"/>
<line x1="896.12" y1="1154.06" x2="896.12" y2="1073.29" stroke="#0000ff" stroke-width="3"/>
<line x1="888.32" y1="1154.06" x2="903.91" y2="1154.06" stroke="#0000ff" stroke-width="3.6"/>
<line x1="888.32" y1="1073.29" x2="903.91" y2="1073.29" stroke="#0000ff" stroke-width="3.6"/>
<line x1="919.96" y1="1124" x2="919.96" y2="1034.69" stroke="#0000ff" stroke-width="3"/>
<line x1="912.16" y1="1124" x2="927.76" y2="1124" stroke="#0000ff" stroke-width="3.6"/>
<line x1="912.16" y1="1034.69" x2="927.76" y2="1034.69" stroke="#0000ff" stroke-width="3.6"/>
<line x1="943.81" y1="1097.6" x2="943.81" y2="1021.49" stroke="#0000ff" stroke-width="3"/>
<line x1="936.01" y1="1097.6" x2="951.61" y2="1097.6" stroke="#0000ff" stroke-width="3.6"/>
<line x1="936.01" y1="1021.49" x2="951.61" y2="1021.49" stroke="#0000ff" stroke-width="3.6"/>
<line x1="967.65" y1="1078.49" x2="967.65" y2="1024.91" stroke="#0000ff" stroke-width="3"/>
<line x1="959.85" y1="1078.49" x2="975.45" y2="1078.49" stroke="#0000ff" stroke-width="3.6"/>
<line x1="959.85" y1="1024.91" x2="975.45" y2="1024.91" stroke="#0000ff" stroke-width="3.6"/>
<line x1="991.5" y1="1062.81" x2="991.5" y2="1021.49" stroke="#0000ff" stroke-width="3"/>
<line x1="983.7" y1="1062.81" x2="999.3" y2="1062.81" stroke="#0000ff" stroke-width="3.6"/>
<line x1="983.7" y1="1021.49" x2="999.3" y2="1021.49" stroke="#0000ff" stroke-width="3.6"/>
<line x1="1015.34" y1="1035.47" x2="1015.34" y2="997.42" stroke="#0000ff" stroke-width="3"/>
<line x1="1007.54" y1="1035.47" x2="1023.14" y2="1035.47" stroke="#0000ff" stroke-width="3.6"/>
<line x1="1007.54" y1="997.42" x2="1023.14" y2="997.42" stroke="#0000ff" stroke-width="3.6"/>
<line x1="1039.18" y1="1011.78" x2="1039.18" y2="996.25" stroke="#0000ff" stroke-width="3"/>
<line x1="1031.38" y1="1011.78" x2="1046.98" y2="1011.78" stroke="#0000ff" stroke-width="3.6"/>
<line x1="1031.38" y1="996.25" x2="1046.98" y2="996.25" stroke="#0000ff" stroke-width="3.6"/>
<line x1="1063.03" y1="989.26" x2="1063.03" y2="975.28" stroke="#0000ff" stroke-width="3"/>
<line x1="1055.23" y1="989.26" x2="1070.83" y2="989.26" stroke="#0000ff" stroke-width="3.6"/>
<line x1="1055.23" y1="975.28" x2="1070.83" y2="975.28" stroke="#0000ff" stroke-width="3.6"/>
<line x1="1086.88" y1="974.9" x2="1086.88" y2="962.47" stroke="#0000ff" stroke-width="3"/>
<line x1="1079.08" y1="974.9" x2="1094.67" y2="974.9" stroke="#0000ff" stroke-width="3.6"/>
<line x1="1079.08" y1="962.47" x2="1094.67" y2="962.47" stroke="#0000ff" stroke-width="3.6"/>
<line x1="1110.72" y1="969.38" x2="1110.72" y2="956.96" stroke="#0000ff" stroke-width="3"/>
<line x1="1102.92" y1="969.38" x2="1118.52" y2="969.38" stroke="#0000ff" stroke-width="3.6"/>
<line x1="1102.92" y1="956.96" x2="1118.52" y2="956.96" stroke="#0000ff" stroke-width="3.6"/>
<line x1="1134.57" y1="965.27" x2="1134.57" y2="952.84" stroke="#0000ff" stroke-width="3"/>
<line x1="1126.77" y1="965.27" x2="1142.37" y2="965.27" stroke="#0000ff" stroke-width="3.6"/>
<line x1="1126.77" y1="952.84" x2="1142.37" y2="952.84" stroke="#0000ff" stroke-width="3.6"/>
<line x1="1158.41" y1="959.99" x2="1158.41" y2="944.45" stroke="#0000ff" stroke-width="3"/>
<line x1="1150.61" y1="959.99" x2="1166.21" y2="959.99" stroke="#0000ff" stroke-width="3.6"/>
<line x1="1150.61" y1="944.45" x2="1166.21" y2="944.45" stroke="#0000ff" stroke-width="3.6"/>
<line x1="1182.26" y1="963.71" x2="1182.26" y2="943.52" stroke="#0000ff" stroke-width="3"/>
<line x1="1174.46" y1="963.71" x2="1190.06" y2="963.71" stroke="#0000ff" stroke-width="3.6"/>
<line x1="1174.46" y1="943.52" x2="1190.06" y2="943.52" stroke="#0000ff" stroke-width="3.6"/>
<line x1="824.58" y1="1256.02" x2="824.58" y2="1210.51" stroke="#ff0000" stroke-width="3"/>
<line x1="816.78" y1="1256.02" x2="832.38" y2="1256.02" stroke="#ff0000" stroke-width="3.6"/>
<line x1="816.78" y1="1210.51" x2="832.38" y2="1210.51" stroke="#ff0000" stroke-width="3.6"/>
<line x1="848.43" y1="1224.65" x2="848.43" y2="1164.07" stroke="#ff0000" stroke-width="3"/>
<line x1="840.63" y1="1224.65" x2="856.23" y2="1224.65" stroke="#ff0000" stroke-width="3.6"/>
<line x1="840.63" y1="1164.07" x2="856.23" y2="1164.07" stroke="#ff0000" stroke-width="3.6"/>
<line x1="872.27" y1="1168.89" x2="872.27" y2="1072.59" stroke="#ff0000" stroke-width="3"/>
<line x1="864.47" y1="1168.89" x2="880.07" y2="1168.89" stroke="#ff0000" stroke-width="3.6"/>
<line x1="864.47" y1="1072.59" x2="880.07" y2="1072.59" stroke="#ff0000" stroke-width="3.6"/>
<line x1="896.12" y1="1122.29" x2="896.12" y2="1071.04" stroke="#ff0000" stroke-width="3"/>
<line x1="888.32" y1="1122.29" x2="903.91" y2="1122.29" stroke="#ff0000" stroke-width="3.6"/>
<line x1="888.32" y1="1071.04" x2="903.91" y2="1071.04" stroke="#ff0000" stroke-width="3.6"/>
<line x1="919.96" y1="1086.57" x2="919.96" y2="1059.7" stroke="#ff0000" stroke-width="3"/>
<line x1="912.16" y1="1086.57" x2="927.76" y2="1086.57" stroke="#ff0000" stroke-width="3.6"/>
<line x1="912.16" y1="1059.7" x2="927.76" y2="1059.7" stroke="#ff0000" stroke-width="3.6"/>
<line x1="943.81" y1="1077.87" x2="943.81" y2="1052.4" stroke="#ff0000" stroke-width="3"/>
<line x1="936.01" y1="1077.87" x2="951.61" y2="1077.87" stroke="#ff0000" stroke-width="3.6"/>
<line x1="936.01" y1="1052.4" x2="951.61" y2="1052.4" stroke="#ff0000" stroke-width="3.6"/>
<line x1="967.65" y1="1069.72" x2="967.65" y2="1054.19" stroke="#ff0000" stroke-width="3"/>
<line x1="959.85" y1="1069.72" x2="975.45" y2="1069.72" stroke="#ff0000" stroke-width="3.6"/>
<line x1="959.85" y1="1054.19" x2="975.45" y2="1054.19" stroke="#ff0000" stroke-width="3.6"/>
<line x1="991.5" y1="1043.55" x2="991.5" y2="1028.02" stroke="#ff0000" stroke-width="3"/>
<line x1="983.7" y1="1043.55" x2="999.3" y2="1043.55" stroke="#ff0000" stroke-width="3.6"/>
<line x1="983.7" y1="1028.02" x2="999.3" y2="1028.02" stroke="#ff0000" stroke-width="3.6"/>
<line x1="1015.34" y1="1016.6" x2="1015.34" y2="1007.28" stroke="#ff0000" stroke-width="3"/>
<line x1="1007.54" y1="1016.6" x2="1023.14" y2="1016.6" stroke="#ff0000" stroke-width="3.6"/>
<line x1="1007.54" y1="1007.28" x2="1023.14" y2="1007.28" stroke="#ff0000" stroke-width="3.6"/>
<line x1="1039.18" y1="1012.72" x2="1039.18" y2="1003.4" stroke="#ff0000" stroke-width="3"/>
<line x1="1031.38" y1="1012.72" x2="1046.98" y2="1012.72" stroke="#ff0000" stroke-width="3.6"/>
<line x1="1031.38" y1="1003.4" x2="1046.98" y2="1003.4" stroke="#ff0000" stroke-width="3.6"/>
<line x1="1063.03" y1="999.13" x2="1063.03" y2="989.81" stroke="#ff0000" stroke-width="3"/>
<line x1="1055.23" y1="999.13" x2="1070.83" y2="999.13" stroke="#ff0000" stroke-width="3.6"/>
<line x1="1055.23" y1="989.81" x2="1070.83" y2="989.81" stroke="#ff0000" stroke-width="3.6"/>
<line x1="1086.88" y1="982.82" x2="1086.88" y2="973.5" stroke="#ff0000" stroke-width="3"/>
<line x1="1079.08" y1="982.82" x2="1094.67" y2="982.82" stroke="#ff0000" stroke-width="3.6"/>
<line x1="1079.08" y1="973.5" x2="1094.67" y2="973.5" stroke="#ff0000" stroke-width="3.6"/>
<line x1="1110.72" y1="982.82" x2="1110.72" y2="973.5" stroke="#ff0000" stroke-width="3"/>
<line x1="1102.92" y1="982.82" x2="1118.52" y2="982.82" stroke="#ff0000" stroke-width="3.6"/>
<line x1="1102.92" y1="973.5" x2="1118.52" y2="973.5" stroke="#ff0000" stroke-width="3.6"/>
<line x1="1134.57" y1="980.1" x2="1134.57" y2="970.78" stroke="#ff0000" stroke-width="3"/>
<line x1="1126.77" y1="980.1" x2="1142.37" y2="980.1" stroke="#ff0000" stroke-width="3.6"/>
<line x1="1126.77" y1="970.78" x2="1142.37" y2="970.78" stroke="#ff0000" stroke-width="3.6"/>
<line x1="1158.41" y1="971.95" x2="1158.41" y2="962.63" stroke="#ff0000" stroke-width="3"/>
<line x1="1150.61" y1="971.95" x2="1166.21" y2="971.95" stroke="#ff0000" stroke-width="3.6"/>
<line x1="1150.61" y1="962.63" x2="1166.21" y2="962.63" stroke="#ff0000" stroke-width="3.6"/>
<polyline points="824.58,1261.85 848.43,1195.06 872.27,1148.54 896.12,1113.67 919.96,1079.35 943.81,1059.54 967.65,1051.7 991.5,1042.15 1015.34,1016.44 1039.18,1004.02 1063.03,982.27 1086.88,968.68 1110.72,963.17 1134.57,959.05 1158.41,952.22 1182.26,953.62" fill="none" stroke="#0000ff" stroke-width="3" stroke-dasharray="3 4.95" stroke-linejoin="round"/>
<circle cx="824.58" cy="1261.85" r="5.6" fill="#ffffff" stroke="#0000ff" stroke-width="3.6"/>
<circle cx="848.43" cy="1195.06" r="5.6" fill="#ffffff" stroke="#0000ff" stroke-width="3.6"/>
<circle cx="872.27" cy="1148.54" r="5.6" fill="#ffffff" stroke="#0000ff" stroke-width="3.6"/>
<circle cx="896.12" cy="1113.67" r="5.6" fill="#ffffff" stroke="#0000ff" stroke-width="3.6"/>
<circle cx="919.96" cy="1079.35" r="5.6" fill="#ffffff" stroke="#0000ff" stroke-width="3.6"/>
<circle cx="943.81" cy="1059.54" r="5.6" fill="#ffffff" stroke="#0000ff" stroke-width="3.6"/>
<circle cx="967.65" cy="1051.7" r="5.6" fill="#ffffff" stroke="#0000ff" stroke-width="3.6"/>
<circle cx="991.5" cy="1042.15" r="5.6" fill="#ffffff" stroke="#0000ff" stroke-width="3.6"/>
<circle cx="1015.34" cy="1016.44" r="5.6" fill="#ffffff" stroke="#0000ff" stroke-width="3.6"/>
<circle cx="1039.18" cy="1004.02" r="5.6" fill="#ffffff" stroke="#0000ff" stroke-width="3.6"/>
<circle cx="1063.03" cy="982.27" r="5.6" fill="#ffffff" stroke="#0000ff" stroke-width="3.6"/>
<circle cx="1086.88" cy="968.68" r="5.6" fill="#ffffff" stroke="#0000ff" stroke-width="3.6"/>
<circle cx="1110.72" cy="963.17" r="5.6" fill="#ffffff" stroke="#0000ff" stroke-width="3.6"/>
<circle cx="1134.57" cy="959.05" r="5.6" fill="#ffffff" stroke="#0000ff" stroke-width="3.6"/>
<circle cx="1158.41" cy="952.22" r="5.6" fill="#ffffff" stroke="#0000ff" stroke-width="3.6"/>
<circle cx="1182.26" cy="953.62" r="5.6" fill="#ffffff" stroke="#0000ff" stroke-width="3.6"/>
<polyline points="824.58,1233.27 848.43,1194.36 872.27,1120.74 896.12,1096.67 919.96,1073.13 943.81,1065.14 967.65,1061.95 991.5,1035.78 1015.34,1011.94 1039.18,1008.06 1063.03,994.47 1086.88,978.16 1110.72,978.16 1134.57,975.44 1158.41,967.29" fill="none" stroke="#ff0000" stroke-width="3" stroke-dasharray="3 4.95" stroke-linejoin="round"/>
<rect x="818.98" y="1227.67" width="11.2" height="11.2" fill="#ffffff" stroke="#ff0000" stroke-width="3.6"/>
<rect x="842.83" y="1188.76" width="11.2" height="11.2" fill="#ffffff" stroke="#ff0000" stroke-width="3.6"/>
<rect x="866.67" y="1115.14" width="11.2" height="11.2" fill="#ffffff" stroke="#ff0000" stroke-width="3.6"/>
<rect x="890.51" y="1091.07" width="11.2" height="11.2" fill="#ffffff" stroke="#ff0000" stroke-width="3.6"/>
<rect x="914.36" y="1067.53" width="11.2" height="11.2" fill="#ffffff" stroke="#ff0000" stroke-width="3.6"/>
<rect x="938.21" y="1059.54" width="11.2" height="11.2" fill="#ffffff" stroke="#ff0000" stroke-width="3.6"/>
<rect x="962.05" y="1056.35" width="11.2" height="11.2" fill="#ffffff" stroke="#ff0000" stroke-width="3.6"/>
<rect x="985.9" y="1030.18" width="11.2" height="11.2" fill="#ffffff" stroke="#ff0000" stroke-width="3.6"/>
<rect x="1009.74" y="1006.34" width="11.2" height="11.2" fill="#ffffff" stroke="#ff0000" stroke-width="3.6"/>
<rect x="1033.59" y="1002.46" width="11.2" height="11.2" fill="#ffffff" stroke="#ff0000" stroke-width="3.6"/>
<rect x="1057.43" y="988.87" width="11.2" height="11.2" fill="#ffffff" stroke="#ff0000" stroke-width="3.6"/>
<rect x="1081.28" y="972.56" width="11.2" height="11.2" fill="#ffffff" stroke="#ff0000" stroke-width="3.6"/>
<rect x="1105.12" y="972.56" width="11.2" height="11.2" fill="#ffffff" stroke="#ff0000" stroke-width="3.6"/>
<rect x="1128.97" y="969.84" width="11.2" height="11.2" fill="#ffffff" stroke="#ff0000" stroke-width="3.6"/>
<rect x="1152.81" y="961.69" width="11.2" height="11.2" fill="#ffffff" stroke="#ff0000" stroke-width="3.6"/>
</g>
<rect x="735" y="737.7" width="306" height="40.8" fill="#ffffff"/>
<text x="737.6" y="769.2" font-size="43.9">e) Ion Hyd. Shell</text>
<rect x="729.2" y="726" width="476.9" height="660.1" fill="none" stroke="#000" stroke-width="2.7" stroke-linejoin="miter"/>
<line x1="715.2" y1="1386.1" x2="729.2" y2="1386.1" stroke="#000" stroke-width="2.7"/>
<text x="699.7" y="1398.52" font-size="35.2" text-anchor="end">0.2</text>
<line x1="715.2" y1="1308.44" x2="729.2" y2="1308.44" stroke="#000" stroke-width="2.7"/>
<text x="699.7" y="1320.86" font-size="35.2" text-anchor="end">0.3</text>
<line x1="715.2" y1="1230.78" x2="729.2" y2="1230.78" stroke="#000" stroke-width="2.7"/>
<text x="699.7" y="1243.2" font-size="35.2" text-anchor="end">0.4</text>
<line x1="715.2" y1="1153.12" x2="729.2" y2="1153.12" stroke="#000" stroke-width="2.7"/>
<text x="699.7" y="1165.54" font-size="35.2" text-anchor="end">0.5</text>
<line x1="715.2" y1="1075.46" x2="729.2" y2="1075.46" stroke="#000" stroke-width="2.7"/>
<text x="699.7" y="1087.88" font-size="35.2" text-anchor="end">0.6</text>
<line x1="715.2" y1="997.81" x2="729.2" y2="997.81" stroke="#000" stroke-width="2.7"/>
<text x="699.7" y="1010.22" font-size="35.2" text-anchor="end">0.7</text>
<line x1="715.2" y1="920.15" x2="729.2" y2="920.15" stroke="#000" stroke-width="2.7"/>
<text x="699.7" y="932.56" font-size="35.2" text-anchor="end">0.8</text>
<line x1="715.2" y1="842.49" x2="729.2" y2="842.49" stroke="#000" stroke-width="2.7"/>
<text x="699.7" y="854.9" font-size="35.2" text-anchor="end">0.9</text>
<line x1="715.2" y1="764.83" x2="729.2" y2="764.83" stroke="#000" stroke-width="2.7"/>
<text x="699.7" y="777.25" font-size="35.2" text-anchor="end">1.0</text>
<line x1="729.2" y1="1386.1" x2="729.2" y2="1400.1" stroke="#000" stroke-width="2.7"/>
<text x="729.2" y="1437.8" font-size="35.2" text-anchor="middle">0</text>
<line x1="848.43" y1="1386.1" x2="848.43" y2="1400.1" stroke="#000" stroke-width="2.7"/>
<text x="848.43" y="1437.8" font-size="35.2" text-anchor="middle">5</text>
<line x1="967.65" y1="1386.1" x2="967.65" y2="1400.1" stroke="#000" stroke-width="2.7"/>
<text x="967.65" y="1437.8" font-size="35.2" text-anchor="middle">10</text>
<line x1="1086.88" y1="1386.1" x2="1086.88" y2="1400.1" stroke="#000" stroke-width="2.7"/>
<text x="1086.88" y="1437.8" font-size="35.2" text-anchor="middle">15</text>
<line x1="1206.1" y1="1386.1" x2="1206.1" y2="1400.1" stroke="#000" stroke-width="2.7"/>
<text x="1206.1" y="1437.8" font-size="35.2" text-anchor="middle">20</text>
<clipPath id="c7"><rect x="1316.8" y="726" width="476.9" height="660.1"/></clipPath>
<g clip-path="url(#c7)">
<line x1="1328.6" y1="1344.72" x2="1328.6" y2="1343.11" stroke="#000" stroke-width="2.4"/>
<line x1="1321" y1="1344.72" x2="1336.2" y2="1344.72" stroke="#000" stroke-width="3.4"/>
<line x1="1321" y1="1343.11" x2="1336.2" y2="1343.11" stroke="#000" stroke-width="3.4"/>
<line x1="1442.04" y1="1209.48" x2="1442.04" y2="1207.87" stroke="#000" stroke-width="2.4"/>
<line x1="1434.44" y1="1209.48" x2="1449.64" y2="1209.48" stroke="#000" stroke-width="3.4"/>
<line x1="1434.44" y1="1207.87" x2="1449.64" y2="1207.87" stroke="#000" stroke-width="3.4"/>
<line x1="1555.48" y1="1067.51" x2="1555.48" y2="1065.9" stroke="#000" stroke-width="2.4"/>
<line x1="1547.88" y1="1067.51" x2="1563.08" y2="1067.51" stroke="#000" stroke-width="3.4"/>
<line x1="1547.88" y1="1065.9" x2="1563.08" y2="1065.9" stroke="#000" stroke-width="3.4"/>
<line x1="1668.92" y1="915.14" x2="1668.92" y2="913.53" stroke="#000" stroke-width="2.4"/>
<line x1="1661.32" y1="915.14" x2="1676.52" y2="915.14" stroke="#000" stroke-width="3.4"/>
<line x1="1661.32" y1="913.53" x2="1676.52" y2="913.53" stroke="#000" stroke-width="3.4"/>
<line x1="1782.36" y1="756.51" x2="1782.36" y2="754.9" stroke="#000" stroke-width="2.4"/>
<line x1="1774.76" y1="756.51" x2="1789.96" y2="756.51" stroke="#000" stroke-width="3.4"/>
<line x1="1774.76" y1="754.9" x2="1789.96" y2="754.9" stroke="#000" stroke-width="3.4"/>
<polyline points="1328.6,1343.92 1442.04,1208.68 1555.48,1066.7 1668.92,914.34 1782.36,755.7" fill="none" stroke="#000" stroke-width="2.8" stroke-linejoin="round"/>
<circle cx="1328.6" cy="1343.92" r="4.7" fill="#000"/>
<circle cx="1442.04" cy="1208.68" r="4.7" fill="#000"/>
<circle cx="1555.48" cy="1066.7" r="4.7" fill="#000"/>
<circle cx="1668.92" cy="914.34" r="4.7" fill="#000"/>
<circle cx="1782.36" cy="755.7" r="4.7" fill="#000"/>
<line x1="1328.6" y1="1355.92" x2="1328.6" y2="1354.31" stroke="#000" stroke-width="2.4"/>
<line x1="1321" y1="1355.92" x2="1336.2" y2="1355.92" stroke="#000" stroke-width="3.4"/>
<line x1="1321" y1="1354.31" x2="1336.2" y2="1354.31" stroke="#000" stroke-width="3.4"/>
<line x1="1442.04" y1="1222.96" x2="1442.04" y2="1221.35" stroke="#000" stroke-width="2.4"/>
<line x1="1434.44" y1="1222.96" x2="1449.64" y2="1222.96" stroke="#000" stroke-width="3.4"/>
<line x1="1434.44" y1="1221.35" x2="1449.64" y2="1221.35" stroke="#000" stroke-width="3.4"/>
<line x1="1555.48" y1="1082.03" x2="1555.48" y2="1080.42" stroke="#000" stroke-width="2.4"/>
<line x1="1547.88" y1="1082.03" x2="1563.08" y2="1082.03" stroke="#000" stroke-width="3.4"/>
<line x1="1547.88" y1="1080.42" x2="1563.08" y2="1080.42" stroke="#000" stroke-width="3.4"/>
<line x1="1668.92" y1="930.9" x2="1668.92" y2="929.28" stroke="#000" stroke-width="2.4"/>
<line x1="1661.32" y1="930.9" x2="1676.52" y2="930.9" stroke="#000" stroke-width="3.4"/>
<line x1="1661.32" y1="929.28" x2="1676.52" y2="929.28" stroke="#000" stroke-width="3.4"/>
<line x1="1782.36" y1="775.97" x2="1782.36" y2="774.35" stroke="#000" stroke-width="2.4"/>
<line x1="1774.76" y1="775.97" x2="1789.96" y2="775.97" stroke="#000" stroke-width="3.4"/>
<line x1="1774.76" y1="774.35" x2="1789.96" y2="774.35" stroke="#000" stroke-width="3.4"/>
<polyline points="1328.6,1355.11 1442.04,1222.15 1555.48,1081.22 1668.92,930.09 1782.36,775.16" fill="none" stroke="#000" stroke-width="2.8" stroke-dasharray="9.6 6.3" stroke-linejoin="round"/>
<circle cx="1328.6" cy="1355.11" r="4.7" fill="#000"/>
<circle cx="1442.04" cy="1222.15" r="4.7" fill="#000"/>
<circle cx="1555.48" cy="1081.22" r="4.7" fill="#000"/>
<circle cx="1668.92" cy="930.09" r="4.7" fill="#000"/>
<circle cx="1782.36" cy="775.16" r="4.7" fill="#000"/>
</g>
<text x="1327.2" y="770.0" font-size="43.5">f)</text>
<rect x="1481.9" y="1269.0" width="305.8" height="110.2" rx="6" ry="6" fill="#ffffff" fill-opacity="0.8" stroke="#d6d6d6" stroke-width="2.8"/>
<line x1="1495.8" y1="1296" x2="1568.7" y2="1296" stroke="#000" stroke-width="2.8"/>
<line x1="1532.2" y1="1278" x2="1532.2" y2="1314" stroke="#000" stroke-width="2.4"/>
<line x1="1525.7" y1="1278" x2="1538.7" y2="1278" stroke="#000" stroke-width="3.2"/>
<line x1="1525.7" y1="1314" x2="1538.7" y2="1314" stroke="#000" stroke-width="3.2"/>
<circle cx="1532.2" cy="1296" r="4.2" fill="#000"/>
<text x="1595.7" y="1308" font-size="35.8">0 mmol/L</text>
<line x1="1495.8" y1="1346.3" x2="1568.7" y2="1346.3" stroke="#000" stroke-width="2.8" stroke-dasharray="9.6 6.4"/>
<line x1="1532.2" y1="1328.3" x2="1532.2" y2="1364.3" stroke="#000" stroke-width="2.4"/>
<line x1="1525.7" y1="1328.3" x2="1538.7" y2="1328.3" stroke="#000" stroke-width="3.2"/>
<line x1="1525.7" y1="1364.3" x2="1538.7" y2="1364.3" stroke="#000" stroke-width="3.2"/>
<circle cx="1532.2" cy="1346.3" r="4.2" fill="#000"/>
<text x="1595.7" y="1358.3" font-size="35.8">100 mmol/L</text>
<rect x="1316.8" y="726" width="476.9" height="660.1" fill="none" stroke="#000" stroke-width="2.7" stroke-linejoin="miter"/>
<line x1="1302.8" y1="1332.72" x2="1316.8" y2="1332.72" stroke="#000" stroke-width="2.7"/>
<text x="1287.3" y="1345.13" font-size="35.2" text-anchor="end">1.8</text>
<line x1="1302.8" y1="1237.81" x2="1316.8" y2="1237.81" stroke="#000" stroke-width="2.7"/>
<text x="1287.3" y="1250.23" font-size="35.2" text-anchor="end">2.0</text>
<line x1="1302.8" y1="1142.91" x2="1316.8" y2="1142.91" stroke="#000" stroke-width="2.7"/>
<text x="1287.3" y="1155.33" font-size="35.2" text-anchor="end">2.2</text>
<line x1="1302.8" y1="1048.01" x2="1316.8" y2="1048.01" stroke="#000" stroke-width="2.7"/>
<text x="1287.3" y="1060.42" font-size="35.2" text-anchor="end">2.4</text>
<line x1="1302.8" y1="953.1" x2="1316.8" y2="953.1" stroke="#000" stroke-width="2.7"/>
<text x="1287.3" y="965.52" font-size="35.2" text-anchor="end">2.6</text>
<line x1="1302.8" y1="858.2" x2="1316.8" y2="858.2" stroke="#000" stroke-width="2.7"/>
<text x="1287.3" y="870.62" font-size="35.2" text-anchor="end">2.8</text>
<line x1="1302.8" y1="763.3" x2="1316.8" y2="763.3" stroke="#000" stroke-width="2.7"/>
<text x="1287.3" y="775.71" font-size="35.2" text-anchor="end">3.0</text>
<line x1="1328.6" y1="1386.1" x2="1328.6" y2="1400.1" stroke="#000" stroke-width="2.7"/>
<text x="1328.6" y="1437.8" font-size="35.2" text-anchor="middle">10</text>
<line x1="1442.04" y1="1386.1" x2="1442.04" y2="1400.1" stroke="#000" stroke-width="2.7"/>
<text x="1442.04" y="1437.8" font-size="35.2" text-anchor="middle">20</text>
<line x1="1555.48" y1="1386.1" x2="1555.48" y2="1400.1" stroke="#000" stroke-width="2.7"/>
<text x="1555.48" y="1437.8" font-size="35.2" text-anchor="middle">30</text>
<line x1="1668.92" y1="1386.1" x2="1668.92" y2="1400.1" stroke="#000" stroke-width="2.7"/>
<text x="1668.92" y="1437.8" font-size="35.2" text-anchor="middle">40</text>
<line x1="1782.36" y1="1386.1" x2="1782.36" y2="1400.1" stroke="#000" stroke-width="2.7"/>
<text x="1782.36" y="1437.8" font-size="35.2" text-anchor="middle">50</text>
<g transform="translate(1369.5,1004.9) rotate(-90)">
<text transform="translate(5.25,2.6) scale(1.3,1.03)" x="-8.99" y="0" font-size="45" font-family="'DejaVu Serif', 'Liberation Serif', serif" stroke="#fff" stroke-width="1.5">&#x27E8;</text>
<text x="14.3" y="0" font-size="43.5" font-style="italic">u</text>
<text x="38.5" y="-16.4" font-size="31.2">2</text>
<text x="36.3" y="10.6" font-size="30.6" font-style="italic">Bulk</text>
<text transform="translate(102.85,2.6) scale(1.3,1.03)" x="-8.57" y="0" font-size="45" font-family="'DejaVu Serif', 'Liberation Serif', serif" stroke="#fff" stroke-width="1.5">&#x27E9;</text>
<text x="122.1" y="0" font-size="43.5">/</text>
<text x="146.5" y="0" font-size="43.5">A</text>
<text x="154.4" y="-16.5" font-size="36">&#730;</text>
<text x="177.1" y="-16.4" font-size="31.2">2</text>
</g>
<g transform="translate(39.7,441.9) rotate(-90)">
<text transform="translate(5.35,2.6) scale(1.3,1.03)" x="-8.99" y="0" font-size="45" font-family="'DejaVu Serif', 'Liberation Serif', serif" stroke="#fff" stroke-width="1.5">&#x27E8;</text>
<text x="13.4" y="0" font-size="43.5" font-style="italic">u</text>
<text x="38" y="-16.4" font-size="31.2">2</text>
<text transform="translate(64.1,2.6) scale(1.3,1.03)" x="-8.57" y="0" font-size="45" font-family="'DejaVu Serif', 'Liberation Serif', serif" stroke="#fff" stroke-width="1.5">&#x27E9;</text>
<text x="84.6" y="0" font-size="43.5">/</text>
<text transform="translate(116.15,2.6) scale(1.3,1.03)" x="-8.99" y="0" font-size="45" font-family="'DejaVu Serif', 'Liberation Serif', serif" stroke="#fff" stroke-width="1.5">&#x27E8;</text>
<text x="124" y="0" font-size="43.5" font-style="italic">u</text>
<text x="148.6" y="-16.4" font-size="31.2">2</text>
<text x="146.1" y="10.6" font-size="30.6" font-style="italic">Bulk</text>
<text transform="translate(213.05,2.6) scale(1.3,1.03)" x="-8.57" y="0" font-size="45" font-family="'DejaVu Serif', 'Liberation Serif', serif" stroke="#fff" stroke-width="1.5">&#x27E9;</text>
</g>
<g transform="translate(39.7,1163.4) rotate(-90)">
<text transform="translate(5.35,2.6) scale(1.3,1.03)" x="-8.99" y="0" font-size="45" font-family="'DejaVu Serif', 'Liberation Serif', serif" stroke="#fff" stroke-width="1.5">&#x27E8;</text>
<text x="13.4" y="0" font-size="43.5" font-style="italic">u</text>
<text x="38" y="-16.4" font-size="31.2">2</text>
<text transform="translate(64.1,2.6) scale(1.3,1.03)" x="-8.57" y="0" font-size="45" font-family="'DejaVu Serif', 'Liberation Serif', serif" stroke="#fff" stroke-width="1.5">&#x27E9;</text>
<text x="84.6" y="0" font-size="43.5">/</text>
<text transform="translate(116.15,2.6) scale(1.3,1.03)" x="-8.99" y="0" font-size="45" font-family="'DejaVu Serif', 'Liberation Serif', serif" stroke="#fff" stroke-width="1.5">&#x27E8;</text>
<text x="124" y="0" font-size="43.5" font-style="italic">u</text>
<text x="148.6" y="-16.4" font-size="31.2">2</text>
<text x="146.1" y="10.6" font-size="30.6" font-style="italic">Bulk</text>
<text transform="translate(213.05,2.6) scale(1.3,1.03)" x="-8.57" y="0" font-size="45" font-family="'DejaVu Serif', 'Liberation Serif', serif" stroke="#fff" stroke-width="1.5">&#x27E9;</text>
</g>
<text x="278.2" y="1503.5" font-size="43.5" font-style="italic">r</text>
<text x="295.4" y="1507.6" font-size="30.9" font-style="italic">Backbone</text>
<text x="428.1" y="1503.6" font-size="46">/</text>
<text x="452.1" y="1503.6" font-size="43.5">A</text>
<text x="460.3" y="1493.3" font-size="43.5">&#730;</text>
<text x="864.55" y="1503.5" font-size="43.5" font-style="italic">r</text>
<text x="881.75" y="1507.6" font-size="30.9" font-style="italic">Backbone</text>
<text x="1014.45" y="1503.6" font-size="46">/</text>
<text x="1038.45" y="1503.6" font-size="43.5">A</text>
<text x="1046.65" y="1493.3" font-size="43.5">&#730;</text>
<text x="1554.2" y="1492.8" font-size="43.5" text-anchor="middle">Temperature / &#176;C</text>
</svg></body></html>
